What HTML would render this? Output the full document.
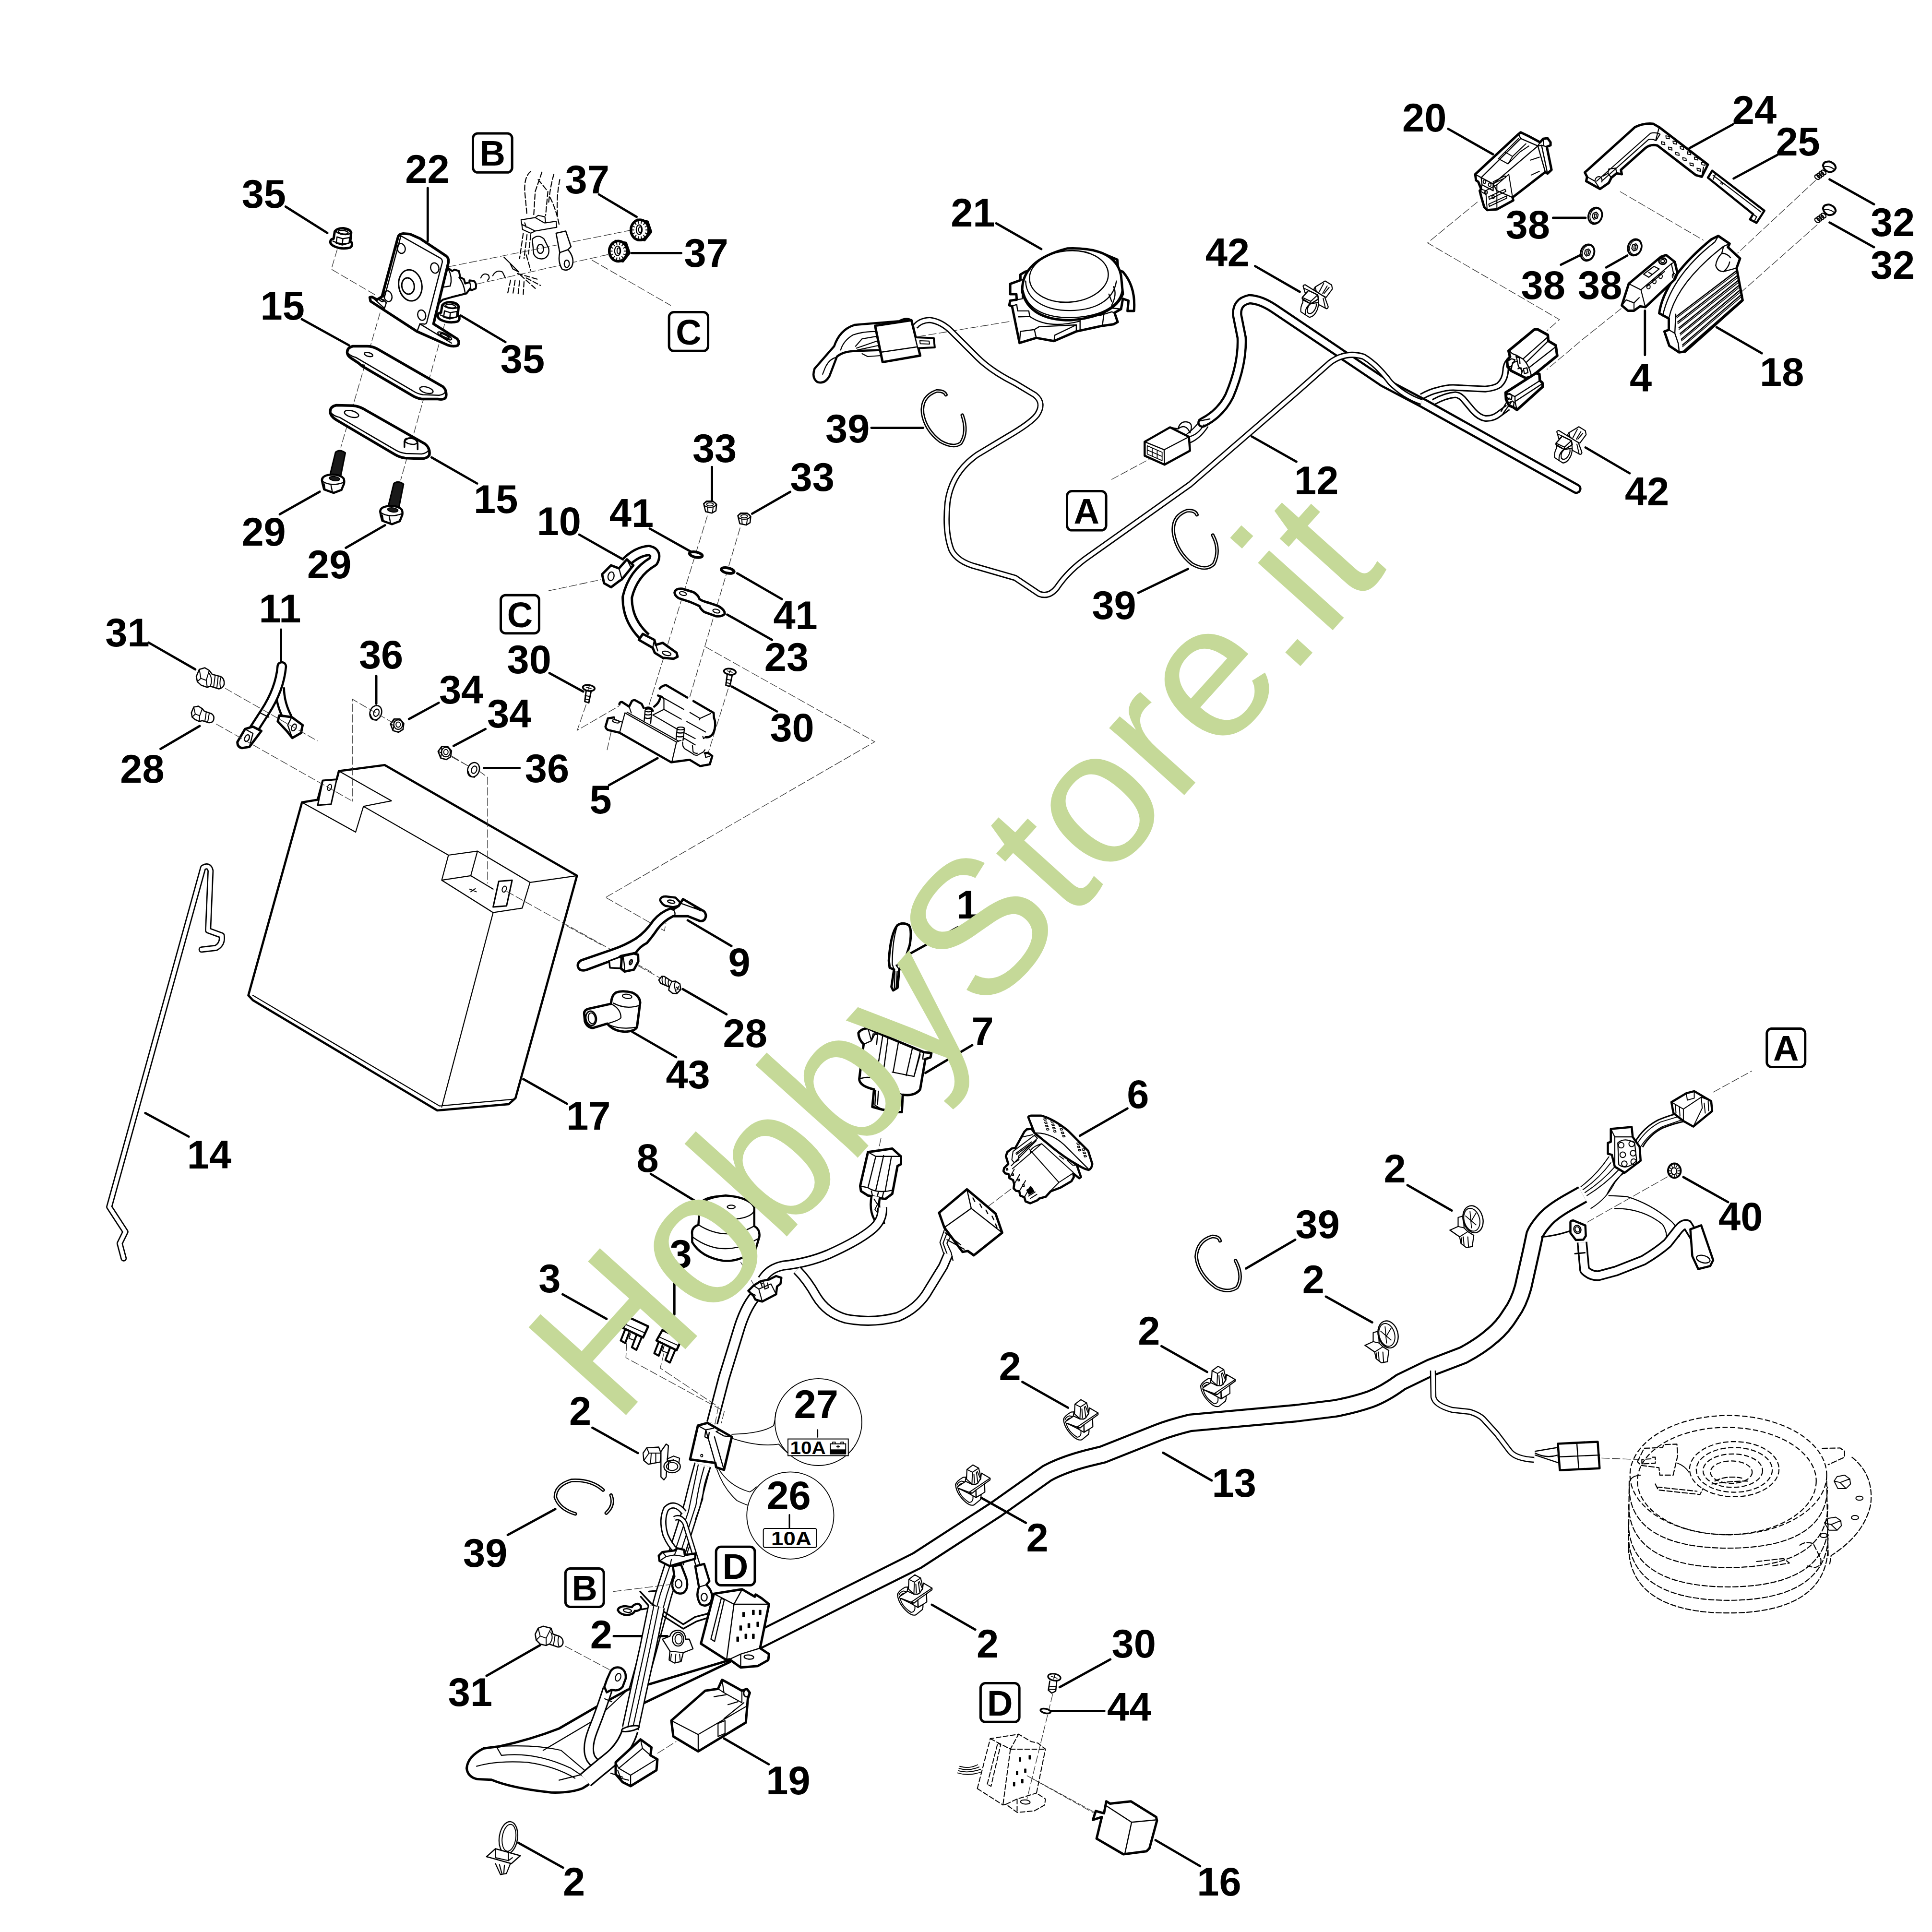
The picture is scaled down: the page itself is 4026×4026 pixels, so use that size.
<!DOCTYPE html>
<html><head><meta charset="utf-8"><title>Parts diagram</title>
<style>
html,body{margin:0;padding:0;background:#fff;}
svg{display:block;}
text{font-family:"Liberation Sans",sans-serif;font-weight:bold;fill:#000;}
</style></head><body>
<svg xmlns="http://www.w3.org/2000/svg" width="4026" height="4026" viewBox="0 0 4026 4026">
<rect width="4026" height="4026" fill="#fff"/>
<path d="M 695.1 497.6 L 697.6 482.1 Q 702.8 474.9 717.0 475.6 Q 730.0 477.5 731.8 484.7 L 730.0 502.8 L 732.8 505.4 Q 735.2 511.9 730.0 515.8 Q 713.2 520.4 697.6 513.7 Q 686.8 509.3 688.6 502.3 Q 689.9 497.6 695.1 497.6 Z" fill="#fff" stroke="#000" stroke-width="5" stroke-linejoin="round" stroke-linecap="round" />
<ellipse cx="715.2" cy="482.9" rx="15.01" ry="5.69" fill="none" stroke="#000" stroke-width="2.5" transform="rotate(8 715.2 482.9)" />
<ellipse cx="715.2" cy="483.9" rx="10.35" ry="3.62" fill="none" stroke="#000" stroke-width="2.5" transform="rotate(8 715.2 483.9)" />
<path d="M 702.3 493.8 L 700.7 506.7 L 713.2 510.6 L 727.4 506.7 L 728.7 495.1 M 702.3 493.8 L 714.5 497.6 L 728.7 495.1 M 714.5 497.6 L 713.2 510.6 M 693.8 502.3 Q 710.6 511.1 731.3 505.4" fill="none" stroke="#000" stroke-width="2.5" stroke-linejoin="round" stroke-linecap="round" />
<path d="M 919.0 651.6 L 921.5 636.1 Q 926.7 628.9 940.9 629.6 Q 953.9 631.5 955.7 638.7 L 953.9 656.8 L 956.7 659.4 Q 959.1 665.9 953.9 669.8 Q 937.1 674.4 921.5 667.7 Q 910.7 663.3 912.5 656.3 Q 913.8 651.6 919.0 651.6 Z" fill="#fff" stroke="#000" stroke-width="5" stroke-linejoin="round" stroke-linecap="round" />
<ellipse cx="939.1" cy="636.9" rx="15.01" ry="5.69" fill="none" stroke="#000" stroke-width="2.5" transform="rotate(8 939.1 636.9)" />
<ellipse cx="939.1" cy="637.9" rx="10.35" ry="3.62" fill="none" stroke="#000" stroke-width="2.5" transform="rotate(8 939.1 637.9)" />
<path d="M 926.2 647.8 L 924.6 660.7 L 937.1 664.6 L 951.3 660.7 L 952.6 649.1 M 926.2 647.8 L 938.4 651.6 L 952.6 649.1 M 938.4 651.6 L 937.1 664.6 M 917.7 656.3 Q 934.5 665.1 955.2 659.4" fill="none" stroke="#000" stroke-width="2.5" stroke-linejoin="round" stroke-linecap="round" />
<path d="M 702.8 519.6 L 690.4 561.0 L 785.6 616.7" fill="none" stroke="#333" stroke-width="1.3" stroke-dasharray="17 5"/>
<path d="M 792.1 651.6 L 710.1 932.4" fill="none" stroke="#333" stroke-width="1.3" stroke-dasharray="17 5"/>
<path d="M 926.7 674.9 L 834.8 1001.0" fill="none" stroke="#333" stroke-width="1.3" stroke-dasharray="17 5"/>
<path d="M 934.4 555.9 L 1313.1 480.0" fill="none" stroke="#333" stroke-width="1.3" stroke-dasharray="17 5"/>
<path d="M 992.7 592.1 L 1269.1 530.0" fill="none" stroke="#333" stroke-width="1.3" stroke-dasharray="17 5"/>
<path d="M 931.9 557.2 L 942.2 564.9 L 947.4 561.8 L 956.4 564.9 L 959.0 577.9 L 966.8 581.7 L 969.4 590.8 L 978.4 588.2 L 978.4 584.3 L 987.5 585.6 Q 994.0 590.8 991.4 601.2 L 982.3 605.0 L 979.7 601.2 L 972.0 611.5 L 940.9 619.3 L 922.8 624.5 L 911.1 634.8" fill="#fff" stroke="#000" stroke-width="4" stroke-linejoin="round" stroke-linecap="round" />
<path d="M 934.4 561.0 Q 943.5 577.9 938.3 596.0 L 922.8 598.6 M 956.4 577.9 Q 966.8 590.8 969.4 611.5 M 978.4 588.2 Q 982.3 596.0 979.7 601.2" fill="none" stroke="#000" stroke-width="2.5" stroke-linejoin="round" stroke-linecap="round" />
<path d="M 796.0 618.0 L 829.1 495.1 Q 830.9 487.3 840.0 486.8 L 854.2 487.8 L 876.2 497.6 L 929.3 533.1 Q 935.7 537.8 934.4 546.8 L 903.4 674.9 L 952.6 706.0 Q 959.0 713.7 953.9 719.7 Q 946.1 723.3 934.4 719.7 L 868.4 690.4 L 772.2 627.8 L 770.6 619.8 L 775.3 618.8 L 785.6 624.5 Z" fill="#fff" stroke="#000" stroke-width="5.5" stroke-linejoin="round" stroke-linecap="round" />
<path d="M 834.8 491.2 L 917.6 537.8 Q 922.8 541.1 921.5 547.3 L 889.2 672.3 Q 887.1 676.7 881.4 674.9 M 801.2 619.3 L 835.3 491.9 M 874.9 674.9 L 869.7 689.2 M 881.4 674.9 L 874.9 674.9 L 940.9 715.0 M 775.3 618.8 L 801.2 642.6 L 805.0 630.9 L 798.6 624.5 L 790.8 622.4" fill="none" stroke="#000" stroke-width="2.5" stroke-linejoin="round" stroke-linecap="round" />
<ellipse cx="836.1" cy="517.8" rx="8.28" ry="10.35" fill="none" stroke="#000" stroke-width="2.5" transform="rotate(-15 836.1 517.8)" />
<ellipse cx="906.0" cy="558.5" rx="8.54" ry="10.87" fill="none" stroke="#000" stroke-width="2.5" transform="rotate(-15 906.0 558.5)" />
<ellipse cx="808.4" cy="617.2" rx="8.28" ry="11.39" fill="none" stroke="#000" stroke-width="2.5" transform="rotate(-15 808.4 617.2)" />
<ellipse cx="878.8" cy="656.8" rx="8.28" ry="10.87" fill="none" stroke="#000" stroke-width="2.5" transform="rotate(-15 878.8 656.8)" />
<ellipse cx="855.0" cy="594.7" rx="24.07" ry="32.61" fill="none" stroke="#000" stroke-width="3" transform="rotate(-10 855.0 594.7)" />
<ellipse cx="850.3" cy="596.0" rx="12.94" ry="17.08" fill="none" stroke="#000" stroke-width="3" transform="rotate(-10 850.3 596.0)" />
<ellipse cx="926.7" cy="700.0" rx="16.05" ry="4.66" fill="none" stroke="#000" stroke-width="2.5" transform="rotate(27 926.7 700.0)" />
<ellipse cx="926.7" cy="700.0" rx="10.35" ry="2.33" fill="none" stroke="#000" stroke-width="2.5" transform="rotate(27 926.7 700.0)" />
<ellipse cx="793.9" cy="625.0" rx="5.69" ry="2.07" fill="none" stroke="#000" stroke-width="2.5" transform="rotate(35 793.9 625.0)" />
<path d="M 723.5 734.4 Q 723.5 724.1 735.2 721.5 L 764.9 721.5 Q 775.3 721.5 785.6 726.7 L 922.8 805.6 Q 931.9 813.4 929.3 827.6 Q 925.4 834.1 912.4 831.5 L 878.8 831.5 Q 868.4 830.2 858.1 823.7 L 754.6 762.9 L 746.8 756.4 L 731.3 746.1 Q 723.5 740.9 723.5 734.4 Z" fill="#fff" stroke="#000" stroke-width="5.5" stroke-linejoin="round" stroke-linecap="round" />
<path d="M 725.6 736.3 Q 731.3 742.2 741.6 744.8 L 860.7 814.7 Q 871.0 821.1 881.4 822.4 L 915.0 823.7 Q 925.4 822.4 928.5 816.0 M 748.1 756.4 Q 750.7 760.3 759.8 761.1" fill="none" stroke="#000" stroke-width="2.5" stroke-linejoin="round" stroke-linecap="round" />
<ellipse cx="768.0" cy="738.8" rx="9.06" ry="3.88" fill="none" stroke="#000" stroke-width="2.5" transform="rotate(15 768.0 738.8)" />
<ellipse cx="888.6" cy="812.9" rx="14.23" ry="6.21" fill="none" stroke="#000" stroke-width="2.5" transform="rotate(15 888.6 812.9)" />
<path d="M 688.0 857.9 Q 688.0 847.0 700.7 844.5 L 735.1 845.2 Q 746.0 845.9 756.9 851.7 L 885.5 924.9 Q 897.1 934.0 894.6 948.5 Q 889.1 956.8 874.6 955.7 L 843.8 954.6 Q 833.0 953.2 822.1 946.7 L 700.7 874.9 Q 688.0 867.0 688.0 857.9 Z" fill="#fff" stroke="#000" stroke-width="5.5" stroke-linejoin="round" stroke-linecap="round" />
<path d="M 689.9 860.4 Q 695.3 867.0 708.0 869.9 L 825.7 938.7 Q 834.8 943.8 845.7 944.9 L 878.3 945.9 Q 889.1 944.9 893.5 937.6" fill="none" stroke="#000" stroke-width="2.5" stroke-linejoin="round" stroke-linecap="round" />
<ellipse cx="732.6" cy="862.6" rx="15.22" ry="6.52" fill="none" stroke="#000" stroke-width="2.5" transform="rotate(15 732.6 862.6)" />
<path d="M 842.8 931.4 L 842.8 919.5 Q 847.5 911.2 860.1 913.3 Q 870.3 917.0 870.3 924.9 L 870.3 936.5" fill="#fff" stroke="#000" stroke-width="3.5" stroke-linejoin="round" stroke-linecap="round" />
<ellipse cx="856.5" cy="919.5" rx="13.41" ry="6.16" fill="none" stroke="#000" stroke-width="2.5" transform="rotate(10 856.5 919.5)" />
<path d="M 699.3 942.3 Q 708.0 935.1 719.6 943.8 L 708.7 998.1 L 686.2 995.9 Z" fill="#1a1a1a" stroke="#000" stroke-width="3" stroke-linejoin="round" stroke-linecap="round" />
<path d="M 671.0 1001.7 Q 669.9 992.0 686.2 989.4 Q 708.0 987.2 716.3 997.4 Q 718.8 1006.4 715.2 1011.9 L 711.6 1020.9 L 695.3 1027.1 L 675.4 1019.9 L 672.5 1009.0 Z" fill="#fff" stroke="#000" stroke-width="4.5" stroke-linejoin="round" stroke-linecap="round" />
<path d="M 671.7 1002.8 Q 689.9 1014.8 715.9 1005.4 M 689.9 1011.9 L 692.8 1026.4 M 675.4 1008.3 L 677.2 1019.1" fill="none" stroke="#000" stroke-width="2.5" stroke-linejoin="round" stroke-linecap="round" />
<ellipse cx="697.1" cy="997.4" rx="10.87" ry="4.35" fill="#1a1a1a" stroke="#000" stroke-width="2" transform="rotate(8 697.1 997.4)" />
<path d="M 820.7 1007.5 Q 829.3 1000.3 840.9 1009.0 L 830.1 1063.3 L 807.6 1061.2 Z" fill="#1a1a1a" stroke="#000" stroke-width="3" stroke-linejoin="round" stroke-linecap="round" />
<path d="M 792.4 1067.0 Q 791.3 1057.2 807.6 1054.6 Q 829.3 1052.5 837.7 1062.6 Q 840.2 1071.7 836.6 1077.1 L 833.0 1086.2 L 816.7 1092.3 L 796.7 1085.1 L 793.8 1074.2 Z" fill="#fff" stroke="#000" stroke-width="4.5" stroke-linejoin="round" stroke-linecap="round" />
<path d="M 793.1 1068.0 Q 811.2 1080.0 837.3 1070.6 M 811.2 1077.1 L 814.1 1091.6 M 796.7 1073.5 L 798.6 1084.3" fill="none" stroke="#000" stroke-width="2.5" stroke-linejoin="round" stroke-linecap="round" />
<ellipse cx="818.5" cy="1062.6" rx="10.87" ry="4.35" fill="#1a1a1a" stroke="#000" stroke-width="2" transform="rotate(8 818.5 1062.6)" />
<text x="503.7" y="432.7" font-size="83" text-anchor="start" >35</text>
<line x1="595.2" y1="430.6" x2="682.2" y2="485.5" stroke="#000" stroke-width="4.8" stroke-linecap="round"/>
<text x="844.3" y="380.9" font-size="83" text-anchor="start" >22</text>
<line x1="891.3" y1="391.8" x2="891.3" y2="502.1" stroke="#000" stroke-width="4.8" stroke-linecap="round"/>
<text x="542.6" y="665.6" font-size="83" text-anchor="start" >15</text>
<line x1="628.9" y1="665.1" x2="727.2" y2="719.5" stroke="#000" stroke-width="4.8" stroke-linecap="round"/>
<text x="503.4" y="1137.4" font-size="83" text-anchor="start" >29</text>
<line x1="583.0" y1="1071.7" x2="666.3" y2="1024.6" stroke="#000" stroke-width="4.8" stroke-linecap="round"/>
<text x="640.0" y="1205.1" font-size="83" text-anchor="start" >29</text>
<line x1="720.7" y1="1141.6" x2="802.2" y2="1094.5" stroke="#000" stroke-width="4.8" stroke-linecap="round"/>
<text x="987.1" y="1068.5" font-size="83" text-anchor="start" >15</text>
<line x1="899.3" y1="953.2" x2="994.2" y2="1007.5" stroke="#000" stroke-width="4.8" stroke-linecap="round"/>
<text x="539.6" y="1296.8" font-size="83" text-anchor="start" >11</text>
<line x1="585.5" y1="1311.9" x2="585.5" y2="1381.4" stroke="#000" stroke-width="4.8" stroke-linecap="round"/>
<text x="747.9" y="1392.8" font-size="83" text-anchor="start" >36</text>
<line x1="784.1" y1="1408.6" x2="784.1" y2="1466.6" stroke="#000" stroke-width="4.8" stroke-linecap="round"/>
<rect x="985.5" y="278.0" width="81.68" height="81.37" rx="10" ry="10" fill="#fff" stroke="#000" stroke-width="5"/>
<text x="1026.34" y="345.325" font-size="74" text-anchor="middle">B</text>
<rect x="1394.2" y="650.6" width="81.37" height="80.75" rx="10" ry="10" fill="#fff" stroke="#000" stroke-width="5"/>
<text x="1434.885" y="717.615" font-size="74" text-anchor="middle">C</text>
<text x="1177.6" y="402.7" font-size="83" text-anchor="start" >37</text>
<line x1="1248.2" y1="405.3" x2="1326.5" y2="451.9" stroke="#000" stroke-width="4.8" stroke-linecap="round"/>
<text x="1425.4" y="556.4" font-size="83" text-anchor="start" >37</text>
<line x1="1316.5" y1="527.3" x2="1419.6" y2="527.3" stroke="#000" stroke-width="4.8" stroke-linecap="round"/>
<text x="1042.8" y="776.9" font-size="83" text-anchor="start" >35</text>
<line x1="960.0" y1="657.5" x2="1053.2" y2="712.7" stroke="#000" stroke-width="4.8" stroke-linecap="round"/>
<path d="M 1233.3 541.9 L 1397.9 636.6" fill="none" stroke="#333" stroke-width="1.3" stroke-dasharray="17 5"/>
<path d="M 1357.2 483.2 L 1343.2 500.9 L 1321.8 496.9 L 1314.3 475.2 L 1328.3 457.5 L 1349.8 461.5 Z" fill="#111" stroke="#000" stroke-width="4" stroke-linejoin="round" stroke-linecap="round" />
<ellipse cx="1333.3" cy="479.2" rx="18.63" ry="21.12" fill="#fff" stroke="#000" stroke-width="5.5" />
<path d="M 1350.7 479.2 L 1345.7 479.2 M 1348.8 487.9 L 1344.5 485.4 M 1344.2 494.7 L 1341.1 490.4 M 1337.0 498.4 L 1336.1 493.2 M 1329.6 498.4 L 1330.5 493.2 M 1322.4 494.7 L 1325.5 490.4 M 1317.8 487.9 L 1322.1 485.4 M 1315.9 479.2 L 1320.9 479.2 M 1317.8 470.5 L 1322.1 473.0 M 1322.4 463.7 L 1325.5 468.0 M 1329.6 459.9 L 1330.5 465.2 M 1337.0 459.9 L 1336.1 465.2 M 1344.2 463.7 L 1341.1 468.0 M 1348.8 470.5 L 1344.5 473.0" fill="none" stroke="#000" stroke-width="2" stroke-linejoin="round" stroke-linecap="round" />
<ellipse cx="1332.0" cy="478.6" rx="6.21" ry="9.94" fill="none" stroke="#000" stroke-width="2.2" />
<ellipse cx="1333.9" cy="478.6" rx="3.11" ry="6.21" fill="none" stroke="#000" stroke-width="2" />
<path d="M 1312.2 527.3 L 1298.2 545.0 L 1276.8 541.0 L 1269.3 519.3 L 1283.3 501.6 L 1304.7 505.6 Z" fill="#111" stroke="#000" stroke-width="4" stroke-linejoin="round" stroke-linecap="round" />
<ellipse cx="1288.3" cy="523.3" rx="18.63" ry="21.12" fill="#fff" stroke="#000" stroke-width="5.5" />
<path d="M 1305.7 523.3 L 1300.7 523.3 M 1303.8 532.0 L 1299.4 529.5 M 1299.1 538.8 L 1296.0 534.5 M 1292.0 542.5 L 1291.1 537.3 M 1284.5 542.5 L 1285.5 537.3 M 1277.4 538.8 L 1280.5 534.5 M 1272.7 532.0 L 1277.1 529.5 M 1270.9 523.3 L 1275.8 523.3 M 1272.7 514.6 L 1277.1 517.1 M 1277.4 507.8 L 1280.5 512.1 M 1284.5 504.0 L 1285.5 509.3 M 1292.0 504.0 L 1291.1 509.3 M 1299.1 507.8 L 1296.0 512.1 M 1303.8 514.6 L 1299.4 517.1" fill="none" stroke="#000" stroke-width="2" stroke-linejoin="round" stroke-linecap="round" />
<ellipse cx="1287.0" cy="522.7" rx="6.21" ry="9.94" fill="none" stroke="#000" stroke-width="2.2" />
<ellipse cx="1288.9" cy="522.7" rx="3.11" ry="6.21" fill="none" stroke="#000" stroke-width="2" />
<path d="M 1106.0 357.1 Q 1092.0 368.0 1093.5 399.1 L 1098.2 448.8 M 1129.3 358.7 L 1115.3 399.1 L 1112.2 448.8 M 1121.5 374.2 L 1141.7 399.1 L 1137.0 448.8 M 1154.1 363.4 Q 1146.3 389.8 1143.2 423.9 M 1166.5 374.2 Q 1158.8 411.5 1161.9 451.9 M 1146.3 411.5 Q 1158.8 436.3 1165.0 467.4" fill="none" stroke="#000" stroke-width="2.2" stroke-linejoin="round" stroke-linecap="round" stroke-dasharray="11 5"/>
<path d="M 1090.4 486.0 L 1082.7 538.8 M 1098.2 489.1 L 1092.0 538.8 M 1106.0 489.1 L 1101.3 529.5 M 1096.6 531.1 L 1106.0 563.7 M 1064.0 583.9 L 1057.8 611.8 M 1073.4 583.9 L 1068.7 613.4 M 1082.7 585.4 L 1079.6 613.4 M 1092.0 587.0 L 1090.4 613.4 M 1096.6 579.2 L 1126.1 594.7 M 1078.0 569.9 L 1121.5 582.3 M 1084.2 573.0 L 1115.3 600.9" fill="none" stroke="#000" stroke-width="2.2" stroke-linejoin="round" stroke-linecap="round" stroke-dasharray="11 5"/>
<path d="M 1085.8 458.1 L 1115.3 453.4 L 1121.5 448.8 L 1135.5 451.9 L 1137.0 464.3 L 1158.8 461.2 L 1160.3 473.6 L 1115.3 481.4 L 1087.3 467.4 Z M 1087.3 467.4 L 1088.9 478.3 L 1106.0 486.0 L 1115.3 481.4 M 1115.3 453.4 L 1133.9 464.3 L 1137.0 464.3 M 1093.5 464.3 L 1096.6 473.6" fill="none" stroke="#000" stroke-width="2.2" stroke-linejoin="round" stroke-linecap="round" />
<path d="M 1158.8 486.0 L 1178.9 481.4 L 1189.8 514.0 L 1183.6 520.2 Q 1199.1 538.8 1191.4 555.9 Q 1182.0 566.8 1171.2 560.6 Q 1161.9 545.0 1166.5 526.4 Z M 1166.5 526.4 L 1183.6 520.2" fill="#fff" stroke="#000" stroke-width="2.6" stroke-linejoin="round" stroke-linecap="round" />
<ellipse cx="1181.1" cy="549.7" rx="5.28" ry="7.76" fill="none" stroke="#000" stroke-width="2.4" />
<path d="M 1109.1 498.4 Q 1121.5 486.0 1133.9 498.4 L 1143.2 517.1 Q 1146.3 532.6 1133.9 538.8 Q 1118.4 541.9 1112.2 529.5 Z" fill="none" stroke="#000" stroke-width="2.4" stroke-linejoin="round" stroke-linecap="round" />
<ellipse cx="1126.1" cy="518.6" rx="6.83" ry="9.32" fill="none" stroke="#000" stroke-width="2.4" />
<path d="M 1050.1 535.7 L 1081.1 566.8 L 1068.7 560.6 L 1062.5 548.1 M 1001.9 579.2 Q 1006.6 566.8 1017.5 573.0 Q 1022.1 579.2 1015.9 583.9 M 1026.8 574.5 Q 1034.5 560.6 1047.0 566.8 L 1053.2 579.2" fill="none" stroke="#000" stroke-width="2.2" stroke-linejoin="round" stroke-linecap="round" />
<text x="1981.2" y="471.7" font-size="83" text-anchor="start" >21</text>
<line x1="2076.0" y1="465.4" x2="2169.9" y2="519.0" stroke="#000" stroke-width="4.8" stroke-linecap="round"/>
<text x="1720.0" y="922.0" font-size="83" text-anchor="start" >39</text>
<line x1="1815.9" y1="891.6" x2="1923.8" y2="891.6" stroke="#000" stroke-width="4.8" stroke-linecap="round"/>
<rect x="2223.5" y="1023.6" width="81.52" height="81.52" rx="10" ry="10" fill="#fff" stroke="#000" stroke-width="5"/>
<text x="2264.26" y="1091.0000000000002" font-size="74" text-anchor="middle">A</text>
<path d="M 1899.3 668.0 Q 1889.6 660.3 1874.1 669.2 L 1780.9 677.0 Q 1749.9 686.7 1738.2 721.6 L 1697.5 768.2 Q 1690.9 787.6 1703.3 796.1 Q 1718.8 801.2 1728.5 783.7 L 1744.1 743.0 Q 1757.6 731.3 1784.8 731.3 L 1835.3 729.4 L 1825.6 680.9 Z" fill="#fff" stroke="#000" stroke-width="4.5" stroke-linejoin="round" stroke-linecap="round" />
<path d="M 1829.5 690.6 Q 1796.5 690.6 1777.0 698.3 Q 1757.6 710.0 1751.8 729.4 M 1742.1 744.9 Q 1726.6 748.8 1718.8 768.2 L 1714.2 779.8 M 1782.9 721.6 L 1796.5 706.1 L 1829.5 700.3 M 1784.8 725.5 L 1829.5 710.0 M 1786.8 729.4 L 1831.4 719.7 M 1796.5 737.1 L 1808.1 743.0 L 1835.3 741.0" fill="none" stroke="#000" stroke-width="2.2" stroke-linejoin="round" stroke-linecap="round" />
<path d="M 1823.6 678.9 L 1899.3 667.3 L 1917.6 741.0 L 1839.2 754.6 Z" fill="#fff" stroke="#000" stroke-width="5" stroke-linejoin="round" stroke-linecap="round" />
<path d="M 1835.3 734.0 L 1913.7 722.4" fill="none" stroke="#000" stroke-width="2.5" stroke-linejoin="round" stroke-linecap="round" />
<path d="M 1908.3 703.0 L 1945.9 704.5 L 1947.9 723.9 L 1913.7 725.5" fill="#fff" stroke="#000" stroke-width="4" stroke-linejoin="round" stroke-linecap="round" />
<path d="M 1916.8 710.0 L 1936.2 710.7 L 1937.0 717.0 L 1917.6 716.2 Z" fill="none" stroke="#000" stroke-width="2" stroke-linejoin="round" stroke-linecap="round" />
<path d="M 1912.9 701.4 L 2109.0 669.2" fill="none" stroke="#333" stroke-width="1.3" stroke-dasharray="17 5"/>
<path d="M 1971.1 822.5 Q 1967.3 814.0 1951.7 814.8 Q 1918.7 826.4 1922.6 861.4 Q 1928.4 896.3 1959.5 919.6 Q 1986.7 935.1 2002.2 923.5 Q 2017.7 900.2 2005.3 865.2" fill="none" stroke="#000" stroke-width="7.5" stroke-linejoin="round" stroke-linecap="round"/>
<path d="M 1971.1 822.5 Q 1967.3 814.0 1951.7 814.8 Q 1918.7 826.4 1922.6 861.4 Q 1928.4 896.3 1959.5 919.6 Q 1986.7 935.1 2002.2 923.5 Q 2017.7 900.2 2005.3 865.2" fill="none" stroke="#fff" stroke-width="2.2" stroke-linejoin="round" stroke-linecap="round"/>
<path d="M 2105.1 591.6 L 2126.4 583.8 L 2126.4 572.2 L 2136.1 566.3 L 2301.1 529.5 L 2328.3 541.1 L 2330.2 562.5 L 2339.9 566.3 Q 2367.1 597.4 2363.2 647.9 L 2349.6 647.9 L 2351.6 626.5 L 2339.9 622.6 L 2336.1 644.0 L 2322.5 651.7 L 2329.1 671.1 L 2320.5 675.8 L 2297.2 678.9 L 2242.9 690.6 L 2196.3 710.7 L 2159.4 704.1 L 2124.5 714.6 L 2109.0 638.2 L 2103.1 636.2 L 2105.1 626.5 L 2118.7 624.6 L 2117.9 612.9 L 2105.1 612.9 Z" fill="#fff" stroke="#000" stroke-width="5" stroke-linejoin="round" stroke-linecap="round" />
<path d="M 2109.0 638.2 L 2118.7 634.3 L 2120.6 647.9 L 2143.9 647.9 L 2145.8 659.5 L 2122.5 660.3 M 2124.5 714.6 L 2126.4 690.6 L 2155.5 686.7 L 2159.4 704.1 M 2155.5 686.7 L 2165.2 680.9 L 2242.9 677.0 L 2242.9 690.6 M 2196.3 710.7 L 2198.2 698.3 L 2242.9 677.0 M 2217.7 651.7 L 2301.1 647.9 L 2297.2 678.9 M 2250.7 667.3 L 2250.7 690.6 M 2291.4 657.6 L 2316.6 649.8 L 2322.5 651.7 M 2316.6 642.0 L 2336.1 644.0 M 2118.7 624.6 L 2130.3 622.6 L 2130.3 605.2 M 2126.4 583.8 L 2138.1 581.9 M 2145.8 659.5 Q 2184.7 686.7 2250.7 669.2 M 2176.9 636.2 L 2180.8 651.7 L 2217.7 651.7 L 2217.7 636.2" fill="none" stroke="#000" stroke-width="2.4" stroke-linejoin="round" stroke-linecap="round" />
<path d="M 2130.3 609.0 Q 2126.4 543.0 2223.5 517.8 Q 2324.4 513.9 2336.1 574.1 L 2339.9 612.9 Q 2320.5 659.5 2231.2 667.3 Q 2145.8 667.3 2130.3 609.0 Z" fill="#fff" stroke="#000" stroke-width="5" stroke-linejoin="round" stroke-linecap="round" />
<path d="M 2137.3 585.7 C 2138.1 628.4 2184.7 647.9 2231.2 647.1 C 2285.6 645.9 2320.5 624.6 2326.4 585.7 M 2132.3 605.2 C 2140.0 647.9 2184.7 662.6 2233.2 661.8 C 2289.5 660.3 2332.2 640.1 2338.0 605.2" fill="none" stroke="#000" stroke-width="2.4" stroke-linejoin="round" stroke-linecap="round" />
<ellipse cx="2227.4" cy="576.0" rx="82.3" ry="53.57" fill="none" stroke="#000" stroke-width="2.6" transform="rotate(-5 2227.4 576.0)" />
<path d="M 2320.5 597.4 Q 2328.3 612.9 2316.6 636.2 M 2310.8 612.9 L 2316.6 628.4" fill="none" stroke="#000" stroke-width="2.4" stroke-linejoin="round" stroke-linecap="round" />
<path d="M 2713.8 619.7 L 2726.8 605.2 L 2745.9 614.5 L 2748.0 622.8 L 2731.4 633.2 L 2713.8 622.8 Z" fill="#fff" stroke="#000" stroke-width="2.2" stroke-linejoin="round" stroke-linecap="round" />
<path d="M 2714.9 630.1 Q 2709.7 639.4 2710.7 649.7 L 2720.0 655.9 L 2728.3 661.1 Q 2738.7 660.1 2744.9 645.6 Q 2748.0 637.3 2747.0 630.1 L 2731.4 633.2 L 2714.9 624.9 Z" fill="#fff" stroke="#000" stroke-width="2.2" stroke-linejoin="round" stroke-linecap="round" />
<path d="M 2720.0 655.9 Q 2719.0 643.5 2727.3 635.2 M 2730.4 633.2 Q 2722.1 641.4 2725.2 651.8 Q 2732.5 657.0 2739.7 645.6 Q 2743.9 638.3 2742.8 633.2" fill="none" stroke="#000" stroke-width="2.2" stroke-linejoin="round" stroke-linecap="round" />
<path d="M 2737.6 603.1 L 2740.7 598.0 L 2761.4 585.5 L 2774.9 593.8 L 2776.5 602.1 L 2763.5 619.7 L 2753.2 614.5 Z" fill="#fff" stroke="#000" stroke-width="2.2" stroke-linejoin="round" stroke-linecap="round" />
<path d="M 2740.7 598.0 L 2742.8 606.3 M 2758.3 590.7 L 2749.0 608.3 M 2765.6 595.9 L 2756.3 611.4 M 2769.7 599.0 L 2759.4 611.4" fill="none" stroke="#000" stroke-width="2" stroke-linejoin="round" stroke-linecap="round" />
<path d="M 2715.4 595.9 Q 2716.4 593.8 2719.5 593.3 L 2760.4 618.7 L 2767.7 638.9 Q 2767.7 643.0 2764.0 643.3 L 2748.0 634.7 L 2745.9 614.5 L 2726.8 605.2 L 2720.0 611.4 Z" fill="#fff" stroke="#000" stroke-width="2.2" stroke-linejoin="round" stroke-linecap="round" />
<path d="M 2718.0 601.1 L 2727.3 605.2 M 2757.3 621.8 L 2762.0 642.5" fill="none" stroke="#000" stroke-width="2" stroke-linejoin="round" stroke-linecap="round" />
<path d="M 2713.8 619.7 L 2726.8 605.2 L 2745.9 614.5 L 2748.0 622.8 L 2731.4 633.2 L 2713.8 622.8 Z M 2713.8 619.7 L 2731.4 628.0 L 2731.4 633.2 M 2731.4 628.0 L 2745.9 614.5" fill="none" stroke="#000" stroke-width="2.2" stroke-linejoin="round" stroke-linecap="round" />
<path d="M 3242.5 923.4 L 3255.5 908.9 L 3274.6 918.2 L 3276.7 926.5 L 3260.1 936.9 L 3242.5 926.5 Z" fill="#fff" stroke="#000" stroke-width="2.2" stroke-linejoin="round" stroke-linecap="round" />
<path d="M 3243.6 933.8 Q 3238.4 943.1 3239.4 953.4 L 3248.7 959.6 L 3257.0 964.8 Q 3267.4 963.8 3273.6 949.3 Q 3276.7 941.0 3275.7 933.8 L 3260.1 936.9 L 3243.6 928.6 Z" fill="#fff" stroke="#000" stroke-width="2.2" stroke-linejoin="round" stroke-linecap="round" />
<path d="M 3248.7 959.6 Q 3247.7 947.2 3256.0 938.9 M 3259.1 936.9 Q 3250.8 945.1 3253.9 955.5 Q 3261.2 960.7 3268.4 949.3 Q 3272.6 942.0 3271.5 936.9" fill="none" stroke="#000" stroke-width="2.2" stroke-linejoin="round" stroke-linecap="round" />
<path d="M 3266.3 906.8 L 3269.4 901.7 L 3290.1 889.2 L 3303.6 897.5 L 3305.2 905.8 L 3292.2 923.4 L 3281.9 918.2 Z" fill="#fff" stroke="#000" stroke-width="2.2" stroke-linejoin="round" stroke-linecap="round" />
<path d="M 3269.4 901.7 L 3271.5 910.0 M 3287.0 894.4 L 3277.7 912.0 M 3294.3 899.6 L 3285.0 915.1 M 3298.4 902.7 L 3288.1 915.1" fill="none" stroke="#000" stroke-width="2" stroke-linejoin="round" stroke-linecap="round" />
<path d="M 3244.1 899.6 Q 3245.1 897.5 3248.2 897.0 L 3289.1 922.4 L 3296.4 942.6 Q 3296.4 946.7 3292.7 947.0 L 3276.7 938.4 L 3274.6 918.2 L 3255.5 908.9 L 3248.7 915.1 Z" fill="#fff" stroke="#000" stroke-width="2.2" stroke-linejoin="round" stroke-linecap="round" />
<path d="M 3246.7 904.8 L 3256.0 908.9 M 3286.0 925.5 L 3290.7 946.2" fill="none" stroke="#000" stroke-width="2" stroke-linejoin="round" stroke-linecap="round" />
<path d="M 3242.5 923.4 L 3255.5 908.9 L 3274.6 918.2 L 3276.7 926.5 L 3260.1 936.9 L 3242.5 926.5 Z M 3242.5 923.4 L 3260.1 931.7 L 3260.1 936.9 M 3260.1 931.7 L 3274.6 918.2" fill="none" stroke="#000" stroke-width="2.2" stroke-linejoin="round" stroke-linecap="round" />
<text x="2511.7" y="555.0" font-size="83" text-anchor="start" >42</text>
<line x1="2615.4" y1="554.5" x2="2708.5" y2="608.1" stroke="#000" stroke-width="4.8" stroke-linecap="round"/>
<text x="2697.1" y="1030.2" font-size="83" text-anchor="start" >12</text>
<line x1="2608.4" y1="909.5" x2="2701.5" y2="962.1" stroke="#000" stroke-width="4.8" stroke-linecap="round"/>
<path d="M 2962.4 826.3 Q 2981.1 816.0 2995.5 812.9 Q 3016.3 806.7 3032.8 807.7 L 3094.9 810.8 Q 3115.6 808.7 3123.9 802.5 Q 3136.3 791.1 3137.4 772.5 Q 3137.4 758.0 3148.8 747.7" fill="none" stroke="#000" stroke-width="14" stroke-linejoin="round" stroke-linecap="butt"/>
<path d="M 2962.4 826.3 Q 2981.1 816.0 2995.5 812.9 Q 3016.3 806.7 3032.8 807.7 L 3094.9 810.8 Q 3115.6 808.7 3123.9 802.5 Q 3136.3 791.1 3137.4 772.5 Q 3137.4 758.0 3148.8 747.7" fill="none" stroke="#fff" stroke-width="8" stroke-linejoin="round" stroke-linecap="butt"/>
<path d="M 2987.3 837.7 Q 3012.1 824.3 3032.8 822.6 Q 3043.2 823.2 3053.5 836.7 L 3070.1 856.4 Q 3082.5 869.8 3094.9 871.9 Q 3111.5 872.9 3123.9 862.6 L 3142.5 849.1" fill="none" stroke="#000" stroke-width="14" stroke-linejoin="round" stroke-linecap="butt"/>
<path d="M 2987.3 837.7 Q 3012.1 824.3 3032.8 822.6 Q 3043.2 823.2 3053.5 836.7 L 3070.1 856.4 Q 3082.5 869.8 3094.9 871.9 Q 3111.5 872.9 3123.9 862.6 L 3142.5 849.1" fill="none" stroke="#fff" stroke-width="8" stroke-linejoin="round" stroke-linecap="butt"/>
<path d="M 2505.9 880.6 Q 2543.2 862.0 2561.8 824.7 Q 2589.7 759.5 2587.4 703.6 L 2578.1 657.0 Q 2575.8 629.1 2603.7 623.5 Q 2627.0 624.4 2655.0 643.0 L 2883.2 796.8 L 2967.1 841.0 L 3284.8 1018.5" fill="none" stroke="#000" stroke-width="21.5" stroke-linejoin="round" stroke-linecap="round"/>
<path d="M 2505.9 880.6 Q 2543.2 862.0 2561.8 824.7 Q 2589.7 759.5 2587.4 703.6 L 2578.1 657.0 Q 2575.8 629.1 2603.7 623.5 Q 2627.0 624.4 2655.0 643.0 L 2883.2 796.8 L 2967.1 841.0 L 3284.8 1018.5" fill="none" stroke="#fff" stroke-width="12.5" stroke-linejoin="round" stroke-linecap="round"/>
<path d="M 1907.0 680.8 Q 1916.6 668.0 1937.3 666.8 Q 1962.1 670.1 1982.8 690.8 L 2036.6 744.6 Q 2065.6 773.6 2115.3 798.4 L 2156.7 823.3 Q 2177.4 839.9 2160.9 864.7 Q 2148.4 881.3 2098.8 910.2 L 2036.6 947.5 Q 1982.8 984.8 1974.5 1046.9 Q 1968.3 1109.0 1982.8 1146.3 Q 1995.2 1171.1 2036.6 1181.5 L 2115.3 1204.2 L 2165.0 1237.4 Q 2185.7 1245.7 2202.3 1224.9 Q 2227.1 1187.7 2272.7 1156.6 L 2479.7 1009.6 L 2700.0 819.2 L 2771.4 755.8 Q 2804.0 731.5 2841.3 743.2 Q 2869.2 759.5 2897.2 796.8 Q 2925.1 824.7 2962.4 837.8" fill="none" stroke="#000" stroke-width="13" stroke-linejoin="round" stroke-linecap="butt"/>
<path d="M 1907.0 680.8 Q 1916.6 668.0 1937.3 666.8 Q 1962.1 670.1 1982.8 690.8 L 2036.6 744.6 Q 2065.6 773.6 2115.3 798.4 L 2156.7 823.3 Q 2177.4 839.9 2160.9 864.7 Q 2148.4 881.3 2098.8 910.2 L 2036.6 947.5 Q 1982.8 984.8 1974.5 1046.9 Q 1968.3 1109.0 1982.8 1146.3 Q 1995.2 1171.1 2036.6 1181.5 L 2115.3 1204.2 L 2165.0 1237.4 Q 2185.7 1245.7 2202.3 1224.9 Q 2227.1 1187.7 2272.7 1156.6 L 2479.7 1009.6 L 2700.0 819.2 L 2771.4 755.8 Q 2804.0 731.5 2841.3 743.2 Q 2869.2 759.5 2897.2 796.8 Q 2925.1 824.7 2962.4 837.8" fill="none" stroke="#fff" stroke-width="7.5" stroke-linejoin="round" stroke-linecap="butt"/>
<path d="M 2494.2 1072.6 Q 2490.1 1062.6 2473.5 1064.3 Q 2440.4 1075.9 2445.8 1113.1 Q 2452.8 1150.4 2483.9 1175.3 Q 2512.8 1191.8 2529.4 1175.3 Q 2543.9 1146.3 2527.3 1115.2" fill="none" stroke="#000" stroke-width="7.5" stroke-linejoin="round" stroke-linecap="round"/>
<path d="M 2494.2 1072.6 Q 2490.1 1062.6 2473.5 1064.3 Q 2440.4 1075.9 2445.8 1113.1 Q 2452.8 1150.4 2483.9 1175.3 Q 2512.8 1191.8 2529.4 1175.3 Q 2543.9 1146.3 2527.3 1115.2" fill="none" stroke="#fff" stroke-width="2.2" stroke-linejoin="round" stroke-linecap="round"/>
<text x="2275.4" y="1289.6" font-size="83" text-anchor="start" >39</text>
<line x1="2372.0" y1="1235.3" x2="2475.6" y2="1185.6" stroke="#000" stroke-width="4.8" stroke-linecap="round"/>
<path d="M 2385.3 920.6 L 2438.3 890.4 L 2477.6 910.2 L 2479.7 939.2 L 2426.7 968.2 L 2385.3 949.6 Z" fill="#fff" stroke="#000" stroke-width="4.5" stroke-linejoin="round" stroke-linecap="round" />
<path d="M 2385.3 920.6 L 2425.9 937.2 L 2426.7 968.2 M 2425.9 937.2 L 2477.6 910.2" fill="none" stroke="#000" stroke-width="2.4" stroke-linejoin="round" stroke-linecap="round" />
<path d="M 2390.7 928.9 L 2421.7 942.5 L 2421.7 959.9 L 2390.7 946.3 Z M 2390.7 937.6 L 2421.7 951.2 M 2401.0 933.4 L 2401.0 950.8 M 2411.4 938.0 L 2411.4 955.4" fill="none" stroke="#000" stroke-width="1.8" stroke-linejoin="round" stroke-linecap="round" />
<path d="M 2438.3 890.4 L 2454.9 893.7 Q 2459.0 877.1 2473.5 879.2 Q 2488.0 881.3 2479.7 902.0 M 2454.9 893.7 Q 2471.4 881.3 2479.7 902.0 M 2477.6 910.2 Q 2496.3 906.1 2508.7 885.4 M 2479.7 922.7 Q 2500.4 914.4 2517.0 889.5 M 2471.4 906.1 Q 2488.0 893.7 2500.4 877.1 L 2521.1 873.0" fill="none" stroke="#000" stroke-width="2.4" stroke-linejoin="round" stroke-linecap="round" />
<path d="M 2316.1 999.3 L 2396.9 955.8" fill="none" stroke="#333" stroke-width="1.3" stroke-dasharray="17 5"/>
<path d="M 3143.6 731.1 L 3197.4 686.6 L 3203.6 686.0 L 3225.4 698.0 L 3226.4 710.4 L 3241.9 719.7 L 3245.0 741.4 L 3201.6 776.6 L 3191.2 784.9 L 3179.8 788.0 L 3169.5 782.9 L 3148.8 772.5 L 3141.5 764.2 L 3140.5 751.8 L 3146.7 743.5 Z" fill="#fff" stroke="#000" stroke-width="5.5" stroke-linejoin="round" stroke-linecap="round" />
<path d="M 3146.7 732.1 Q 3149.8 737.3 3159.1 739.8 L 3173.6 748.1 Q 3186.0 760.1 3191.2 782.9 M 3173.6 748.1 L 3225.4 702.1 M 3179.8 755.9 L 3226.4 710.4 M 3186.0 766.3 L 3241.9 722.8 M 3169.5 782.9 L 3172.6 772.5 L 3164.3 764.2 L 3159.1 739.8 M 3148.8 772.5 L 3151.9 755.9 M 3151.9 755.9 L 3161.2 752.8 M 3141.5 752.8 L 3149.8 747.7 L 3157.0 749.7 L 3148.8 764.2 L 3141.5 764.2 M 3159.1 743.5 L 3166.4 745.6 L 3167.4 758.0 M 3174.6 768.4 L 3181.9 766.3 L 3184.0 776.6 L 3176.7 778.7 Z M 3163.3 768.4 L 3169.5 766.3 L 3171.5 776.6" fill="none" stroke="#000" stroke-width="2.4" stroke-linejoin="round" stroke-linecap="round" />
<path d="M 3137.4 818.1 L 3200.5 777.7 L 3207.8 779.1 L 3208.8 793.2 L 3214.0 797.3 L 3215.0 805.6 L 3161.2 854.3 L 3153.9 849.1 L 3144.6 845.0 L 3138.4 832.5 Z" fill="#fff" stroke="#000" stroke-width="5.5" stroke-linejoin="round" stroke-linecap="round" />
<path d="M 3137.4 818.1 L 3157.0 826.3 L 3208.8 793.2 M 3157.0 826.3 L 3157.0 836.7 L 3214.0 799.4 M 3157.0 836.7 L 3161.2 854.3 M 3138.4 824.3 L 3145.7 820.1 L 3150.8 823.2 L 3149.8 832.5 L 3142.5 830.5 Z M 3144.6 838.8 L 3151.9 835.7 L 3155.0 838.8 L 3153.9 847.0 M 3128.1 857.4 L 3144.6 829.4 M 3132.2 861.5 L 3148.8 838.8" fill="none" stroke="#000" stroke-width="2.4" stroke-linejoin="round" stroke-linecap="round" />
<text x="3385.9" y="1052.8" font-size="83" text-anchor="start" >42</text>
<line x1="3304.0" y1="932.5" x2="3395.9" y2="986.3" stroke="#000" stroke-width="4.8" stroke-linecap="round"/>
<text x="2922.0" y="273.7" font-size="83" text-anchor="start" >20</text>
<line x1="3017.7" y1="268.5" x2="3110.9" y2="321.3" stroke="#000" stroke-width="4.8" stroke-linecap="round"/>
<path d="M 3078.9 420.7 L 2974.8 506.1 L 3249.7 666.0 L 3223.3 689.3" fill="none" stroke="#333" stroke-width="1.3" stroke-dasharray="17 5"/>
<path d="M 3378.6 642.7 L 3300.9 704.8 L 3223.3 770.1" fill="none" stroke="#333" stroke-width="1.3" stroke-dasharray="17 5"/>
<ellipse cx="3324.2" cy="449.6" rx="13.98" ry="17.39" fill="#fff" stroke="#000" stroke-width="3.6" transform="rotate(20 3324.2 449.6)" />
<ellipse cx="3325.5" cy="449.6" rx="11.8" ry="15.22" fill="none" stroke="#000" stroke-width="1.8" transform="rotate(20 3325.5 449.6)" />
<path d="M 3319.9 444.6 L 3326.7 442.1 L 3330.4 447.1 L 3328.6 454.5 L 3321.7 457.0 L 3318.0 452.0 Z" fill="none" stroke="#000" stroke-width="2.2" stroke-linejoin="round" stroke-linecap="round" />
<path d="M 3323.0 446.5 L 3326.7 445.8 L 3326.1 452.7 L 3322.4 453.3 Z" fill="none" stroke="#000" stroke-width="1.8" stroke-linejoin="round" stroke-linecap="round" />
<ellipse cx="3308.1" cy="526.3" rx="13.98" ry="17.39" fill="#fff" stroke="#000" stroke-width="3.6" transform="rotate(20 3308.1 526.3)" />
<ellipse cx="3309.3" cy="526.3" rx="11.8" ry="15.22" fill="none" stroke="#000" stroke-width="1.8" transform="rotate(20 3309.3 526.3)" />
<path d="M 3303.7 521.3 L 3310.6 518.8 L 3314.3 523.8 L 3312.4 531.2 L 3305.6 533.7 L 3301.9 528.8 Z" fill="none" stroke="#000" stroke-width="2.2" stroke-linejoin="round" stroke-linecap="round" />
<path d="M 3306.8 523.2 L 3310.6 522.5 L 3309.9 529.4 L 3306.2 530.0 Z" fill="none" stroke="#000" stroke-width="1.8" stroke-linejoin="round" stroke-linecap="round" />
<ellipse cx="3406.5" cy="515.4" rx="13.98" ry="17.39" fill="#fff" stroke="#000" stroke-width="3.6" transform="rotate(20 3406.5 515.4)" />
<ellipse cx="3407.8" cy="515.4" rx="11.8" ry="15.22" fill="none" stroke="#000" stroke-width="1.8" transform="rotate(20 3407.8 515.4)" />
<path d="M 3402.2 510.4 L 3409.0 508.0 L 3412.7 512.9 L 3410.9 520.4 L 3404.0 522.9 L 3400.3 517.9 Z" fill="none" stroke="#000" stroke-width="2.2" stroke-linejoin="round" stroke-linecap="round" />
<path d="M 3405.3 512.3 L 3409.0 511.7 L 3408.4 518.5 L 3404.7 519.1 Z" fill="none" stroke="#000" stroke-width="1.8" stroke-linejoin="round" stroke-linecap="round" />
<text x="3137.5" y="497.3" font-size="83" text-anchor="start" >38</text>
<line x1="3236.3" y1="453.9" x2="3304.0" y2="453.9" stroke="#000" stroke-width="4.8" stroke-linecap="round"/>
<text x="3169.5" y="623.0" font-size="83" text-anchor="start" >38</text>
<line x1="3252.8" y1="551.7" x2="3294.7" y2="530.9" stroke="#000" stroke-width="4.8" stroke-linecap="round"/>
<text x="3288.1" y="623.0" font-size="83" text-anchor="start" >38</text>
<line x1="3346.9" y1="557.3" x2="3391.0" y2="532.5" stroke="#000" stroke-width="4.8" stroke-linecap="round"/>
<path d="M 3074.2 363.2 L 3164.3 279.4 L 3168.9 275.7 L 3186.0 284.0 L 3209.3 296.5 L 3215.5 289.3 L 3224.8 288.1 L 3231.1 296.5 L 3231.1 302.7 L 3223.3 305.8 L 3233.2 353.9 L 3224.8 361.7 L 3220.2 358.6 L 3151.9 411.4 L 3153.4 417.6 L 3119.3 436.2 L 3099.1 437.8 L 3092.9 431.6 L 3086.6 409.8 L 3083.5 397.4 L 3086.6 394.3 L 3080.4 378.8 L 3075.8 375.7 Z" fill="#fff" stroke="#000" stroke-width="5" stroke-linejoin="round" stroke-linecap="round" />
<path d="M 3074.2 363.2 L 3086.6 370.1 L 3168.9 288.7 L 3164.3 279.4 M 3168.9 288.7 L 3204.7 304.2 L 3209.3 296.5 M 3086.6 370.1 L 3111.5 383.4 L 3204.7 304.2 L 3220.2 358.6 M 3111.5 383.4 L 3119.3 397.4 L 3151.9 411.4 M 3204.7 304.2 L 3212.4 302.7 L 3224.8 361.7 M 3212.4 302.7 L 3223.3 305.8 M 3215.5 289.3 L 3217.1 304.2 M 3086.6 370.1 L 3088.2 385.0 L 3111.5 397.4 L 3111.5 383.4" fill="none" stroke="#000" stroke-width="2.4" stroke-linejoin="round" stroke-linecap="round" />
<path d="M 3122.4 330.6 L 3136.3 316.6 L 3151.9 326.0 L 3142.5 341.5 Z M 3136.3 316.6 L 3164.3 288.7 M 3151.9 326.0 L 3179.8 299.6 M 3142.5 341.5 L 3167.4 316.6 L 3186.0 304.2 M 3189.1 333.7 L 3207.8 327.5 M 3190.7 364.8 L 3207.8 357.0" fill="none" stroke="#000" stroke-width="2" stroke-linejoin="round" stroke-linecap="round" />
<path d="M 3096.0 397.4 L 3119.3 385.0 L 3144.1 363.2 L 3151.9 411.4 M 3096.0 397.4 L 3099.1 437.8 M 3119.3 385.0 L 3119.3 436.2 M 3102.2 409.8 L 3136.3 394.3 L 3137.9 398.9 L 3103.7 415.4 Z M 3102.2 425.3 L 3139.4 408.3 L 3140.1 412.9 L 3103.7 430.0 Z M 3111.5 378.8 L 3136.3 366.3 L 3137.3 370.1 L 3112.1 382.5 Z M 3088.2 385.0 L 3086.6 394.3 L 3096.0 397.4 M 3083.5 397.4 L 3096.0 405.2" fill="none" stroke="#000" stroke-width="2" stroke-linejoin="round" stroke-linecap="round" />
<ellipse cx="3093.5" cy="378.8" rx="2.8" ry="3.73" fill="none" stroke="#000" stroke-width="2" />
<ellipse cx="3104.3" cy="385.0" rx="2.8" ry="3.73" fill="none" stroke="#000" stroke-width="2" />
<ellipse cx="3096.6" cy="401.1" rx="2.8" ry="3.73" fill="none" stroke="#000" stroke-width="2" />
<ellipse cx="3111.5" cy="410.4" rx="2.48" ry="3.11" fill="none" stroke="#000" stroke-width="2" />
<text x="3609.8" y="258.4" font-size="83" text-anchor="start" >24</text>
<line x1="3520.9" y1="308.6" x2="3611.5" y2="259.0" stroke="#000" stroke-width="4.8" stroke-linecap="round"/>
<text x="3700.4" y="323.6" font-size="83" text-anchor="start" >25</text>
<line x1="3612.6" y1="372.0" x2="3703.2" y2="323.1" stroke="#000" stroke-width="4.8" stroke-linecap="round"/>
<text x="3897.9" y="492.1" font-size="83" text-anchor="start" >32</text>
<line x1="3812.6" y1="373.8" x2="3905.0" y2="425.7" stroke="#000" stroke-width="4.8" stroke-linecap="round"/>
<text x="3897.9" y="580.9" font-size="83" text-anchor="start" >32</text>
<line x1="3812.6" y1="463.7" x2="3905.0" y2="515.1" stroke="#000" stroke-width="4.8" stroke-linecap="round"/>
<text x="3667.1" y="803.7" font-size="83" text-anchor="start" >18</text>
<line x1="3577.1" y1="681.8" x2="3671.3" y2="736.2" stroke="#000" stroke-width="4.8" stroke-linecap="round"/>
<text x="3396.1" y="816.4" font-size="83" text-anchor="start" >4</text>
<line x1="3427.8" y1="647.4" x2="3427.8" y2="739.8" stroke="#000" stroke-width="4.8" stroke-linecap="round"/>
<path d="M 3376.0 399.2 L 3549.9 500.7" fill="none" stroke="#333" stroke-width="1.3" stroke-dasharray="17 5"/>
<path d="M 3783.6 375.7 L 3620.6 527.8" fill="none" stroke="#333" stroke-width="1.3" stroke-dasharray="17 5"/>
<path d="M 3787.2 468.0 L 3627.8 609.3" fill="none" stroke="#333" stroke-width="1.3" stroke-dasharray="17 5"/>
<path d="M 3302.5 359.3 L 3406.8 265.1 Q 3424.9 256.1 3444.9 257.9 L 3457.5 265.1 L 3559.0 343.0 L 3546.3 368.4 L 3533.6 364.8 L 3453.9 303.2 Q 3439.4 299.6 3428.6 308.6 L 3377.8 353.9 L 3379.6 363.0 L 3368.8 361.2 L 3357.9 370.2 L 3352.5 381.1 L 3334.3 393.8 L 3305.4 377.5 L 3307.2 368.4 Z" fill="#fff" stroke="#000" stroke-width="5" stroke-linejoin="round" stroke-linecap="round" />
<path d="M 3327.1 377.5 L 3439.4 277.8 Q 3450.3 274.9 3459.3 279.6 L 3451.0 293.0 Q 3443.0 288.7 3435.1 290.9 L 3339.8 375.7 M 3307.2 368.4 L 3323.5 377.5 L 3334.3 393.8 M 3323.5 377.5 Q 3325.3 366.6 3334.3 368.4 Q 3339.8 372.0 3338.0 379.3 M 3341.6 366.6 L 3350.7 361.2 L 3357.9 370.2 M 3350.7 361.2 L 3352.5 352.1 L 3367.0 350.3 L 3368.8 361.2 M 3457.5 265.1 L 3450.3 292.3 M 3546.3 368.4 L 3549.9 348.5" fill="none" stroke="#000" stroke-width="2.2" stroke-linejoin="round" stroke-linecap="round" />
<path d="M 3471.3 282.9 L 3478.2 284.3 L 3478.9 289.4 L 3472.0 288.0 Z" fill="none" stroke="#000" stroke-width="1.8" stroke-linejoin="round" stroke-linecap="round" />
<path d="M 3486.2 293.9 L 3493.0 295.4 L 3493.8 300.5 L 3486.9 299.0 Z" fill="none" stroke="#000" stroke-width="1.8" stroke-linejoin="round" stroke-linecap="round" />
<path d="M 3501.0 305.0 L 3507.9 306.4 L 3508.6 311.5 L 3501.7 310.1 Z" fill="none" stroke="#000" stroke-width="1.8" stroke-linejoin="round" stroke-linecap="round" />
<path d="M 3515.9 316.1 L 3522.8 317.5 L 3523.5 322.6 L 3516.6 321.1 Z" fill="none" stroke="#000" stroke-width="1.8" stroke-linejoin="round" stroke-linecap="round" />
<path d="M 3530.7 327.1 L 3537.6 328.6 L 3538.3 333.6 L 3531.4 332.2 Z" fill="none" stroke="#000" stroke-width="1.8" stroke-linejoin="round" stroke-linecap="round" />
<path d="M 3545.6 338.2 L 3552.5 339.6 L 3553.2 344.7 L 3546.3 343.2 Z" fill="none" stroke="#000" stroke-width="1.8" stroke-linejoin="round" stroke-linecap="round" />
<path d="M 3461.9 295.2 L 3468.8 296.7 L 3469.5 301.7 L 3462.6 300.3 Z" fill="none" stroke="#000" stroke-width="1.8" stroke-linejoin="round" stroke-linecap="round" />
<path d="M 3476.7 306.3 L 3483.6 307.7 L 3484.3 312.8 L 3477.5 311.3 Z" fill="none" stroke="#000" stroke-width="1.8" stroke-linejoin="round" stroke-linecap="round" />
<path d="M 3491.6 317.3 L 3498.5 318.8 L 3499.2 323.8 L 3492.3 322.4 Z" fill="none" stroke="#000" stroke-width="1.8" stroke-linejoin="round" stroke-linecap="round" />
<path d="M 3506.4 328.4 L 3513.3 329.8 L 3514.1 334.9 L 3507.2 333.4 Z" fill="none" stroke="#000" stroke-width="1.8" stroke-linejoin="round" stroke-linecap="round" />
<path d="M 3521.3 339.4 L 3528.2 340.9 L 3528.9 345.9 L 3522.0 344.5 Z" fill="none" stroke="#000" stroke-width="1.8" stroke-linejoin="round" stroke-linecap="round" />
<path d="M 3536.2 350.5 L 3543.0 351.9 L 3543.8 357.0 L 3536.9 355.5 Z" fill="none" stroke="#000" stroke-width="1.8" stroke-linejoin="round" stroke-linecap="round" />
<path d="M 3559.0 370.2 L 3568.0 355.7 L 3676.7 439.1 L 3660.4 464.4 L 3646.7 457.2 L 3653.2 446.3 Z" fill="#fff" stroke="#000" stroke-width="4.5" stroke-linejoin="round" stroke-linecap="round" />
<path d="M 3569.9 365.5 L 3669.5 441.6 M 3568.0 355.7 L 3575.3 361.2 L 3569.9 373.8 M 3653.2 446.3 L 3660.4 451.7 L 3656.8 459.0" fill="none" stroke="#000" stroke-width="2.2" stroke-linejoin="round" stroke-linecap="round" />
<path d="M 3586.5 380.0 L 3590.1 381.1 L 3589.4 384.0 L 3585.8 382.9 Z" fill="none" stroke="#000" stroke-width="1.6" stroke-linejoin="round" stroke-linecap="round" />
<path d="M 3798.8 344.9 Q 3799.9 335.8 3812.6 336.5 Q 3825.3 341.2 3825.3 350.3 Q 3821.7 359.3 3810.8 358.3 Q 3801.0 355.7 3798.8 344.9 Z" fill="#fff" stroke="#000" stroke-width="4" stroke-linejoin="round" stroke-linecap="round" />
<path d="M 3801.7 347.4 Q 3811.9 344.9 3822.8 353.2" fill="none" stroke="#000" stroke-width="2" stroke-linejoin="round" stroke-linecap="round" />
<ellipse cx="3799.9" cy="359.3" rx="5.8" ry="3.99" fill="none" stroke="#000" stroke-width="2.4" transform="rotate(40 3799.9 359.3)" />
<ellipse cx="3795.6" cy="362.6" rx="5.8" ry="3.99" fill="none" stroke="#000" stroke-width="2.4" transform="rotate(40 3795.6 362.6)" />
<ellipse cx="3791.2" cy="365.9" rx="5.8" ry="3.99" fill="none" stroke="#000" stroke-width="2.4" transform="rotate(40 3791.2 365.9)" />
<ellipse cx="3786.9" cy="369.1" rx="5.8" ry="3.99" fill="none" stroke="#000" stroke-width="2.4" transform="rotate(40 3786.9 369.1)" />
<path d="M 3798.8 434.7 Q 3799.9 425.7 3812.6 426.4 Q 3825.3 431.1 3825.3 440.1 Q 3821.7 449.2 3810.8 448.1 Q 3801.0 445.6 3798.8 434.7 Z" fill="#fff" stroke="#000" stroke-width="4" stroke-linejoin="round" stroke-linecap="round" />
<path d="M 3801.7 437.2 Q 3811.9 434.7 3822.8 443.0" fill="none" stroke="#000" stroke-width="2" stroke-linejoin="round" stroke-linecap="round" />
<ellipse cx="3799.9" cy="449.2" rx="5.8" ry="3.99" fill="none" stroke="#000" stroke-width="2.4" transform="rotate(40 3799.9 449.2)" />
<ellipse cx="3795.6" cy="452.5" rx="5.8" ry="3.99" fill="none" stroke="#000" stroke-width="2.4" transform="rotate(40 3795.6 452.5)" />
<ellipse cx="3791.2" cy="455.7" rx="5.8" ry="3.99" fill="none" stroke="#000" stroke-width="2.4" transform="rotate(40 3791.2 455.7)" />
<ellipse cx="3786.9" cy="459.0" rx="5.8" ry="3.99" fill="none" stroke="#000" stroke-width="2.4" transform="rotate(40 3786.9 459.0)" />
<path d="M 3457.5 652.8 Q 3468.4 578.6 3566.2 498.8 L 3580.7 491.6 L 3604.3 507.9 L 3600.7 515.1 L 3626.0 538.7 L 3618.8 558.6 L 3631.4 625.7 L 3511.9 732.5 L 3499.2 734.3 L 3478.6 720.6 L 3468.4 690.9 L 3477.5 687.2 L 3477.5 663.7 Z" fill="#fff" stroke="#000" stroke-width="5" stroke-linejoin="round" stroke-linecap="round" />
<path d="M 3477.5 663.7 Q 3493.8 589.4 3591.6 513.3 L 3604.3 507.9 M 3591.6 513.3 L 3588.0 527.8 Q 3577.1 538.7 3575.3 553.2 Q 3578.9 565.9 3591.6 565.9 L 3618.8 558.6 M 3588.0 527.8 Q 3598.8 527.8 3606.1 536.9 M 3591.6 565.9 Q 3602.5 556.8 3604.3 545.9 M 3477.5 687.2 L 3490.1 694.5 L 3497.4 716.2 L 3499.2 734.3 M 3490.1 694.5 L 3492.0 654.6 M 3580.7 491.6 L 3573.5 504.3 Q 3482.9 574.9 3464.8 658.3" fill="none" stroke="#000" stroke-width="2.4" stroke-linejoin="round" stroke-linecap="round" />
<path d="M 3493.8 659.0 L 3618.8 564.1" fill="none" stroke="#000" stroke-width="2.6" stroke-linejoin="round" stroke-linecap="round" />
<path d="M 3493.8 662.6 L 3619.9 567.7" fill="none" stroke="#000" stroke-width="1.6" stroke-linejoin="round" stroke-linecap="round" />
<path d="M 3496.3 670.9 L 3620.6 574.2" fill="none" stroke="#000" stroke-width="2.6" stroke-linejoin="round" stroke-linecap="round" />
<path d="M 3496.3 674.6 L 3621.7 577.8" fill="none" stroke="#000" stroke-width="1.6" stroke-linejoin="round" stroke-linecap="round" />
<path d="M 3498.8 682.9 L 3622.4 584.3" fill="none" stroke="#000" stroke-width="2.6" stroke-linejoin="round" stroke-linecap="round" />
<path d="M 3498.8 686.5 L 3623.5 588.0" fill="none" stroke="#000" stroke-width="1.6" stroke-linejoin="round" stroke-linecap="round" />
<path d="M 3501.4 694.9 L 3624.2 594.5" fill="none" stroke="#000" stroke-width="2.6" stroke-linejoin="round" stroke-linecap="round" />
<path d="M 3501.4 698.5 L 3625.3 598.1" fill="none" stroke="#000" stroke-width="1.6" stroke-linejoin="round" stroke-linecap="round" />
<path d="M 3503.9 706.8 L 3626.0 604.6" fill="none" stroke="#000" stroke-width="2.6" stroke-linejoin="round" stroke-linecap="round" />
<path d="M 3503.9 710.4 L 3627.1 608.3" fill="none" stroke="#000" stroke-width="1.6" stroke-linejoin="round" stroke-linecap="round" />
<path d="M 3506.4 718.8 L 3627.8 614.8" fill="none" stroke="#000" stroke-width="2.6" stroke-linejoin="round" stroke-linecap="round" />
<path d="M 3506.4 722.4 L 3628.9 618.4" fill="none" stroke="#000" stroke-width="1.6" stroke-linejoin="round" stroke-linecap="round" />
<path d="M 3509.0 730.7 L 3629.6 624.9" fill="none" stroke="#000" stroke-width="2.6" stroke-linejoin="round" stroke-linecap="round" />
<path d="M 3509.0 734.3 L 3630.7 628.6" fill="none" stroke="#000" stroke-width="1.6" stroke-linejoin="round" stroke-linecap="round" />
<path d="M 3379.6 636.5 L 3394.1 591.2 L 3461.2 535.1 L 3472.0 531.4 L 3490.1 545.9 L 3495.6 569.5 L 3490.1 582.2 L 3428.6 640.1 L 3417.7 638.3 L 3405.0 647.4 L 3392.3 647.4 Z" fill="#fff" stroke="#000" stroke-width="5" stroke-linejoin="round" stroke-linecap="round" />
<path d="M 3394.1 591.2 L 3419.5 603.9 L 3428.6 640.1 M 3419.5 603.9 L 3482.9 549.6 L 3490.1 545.9 M 3482.9 549.6 L 3490.1 582.2 M 3379.6 636.5 L 3388.7 624.9 L 3405.0 631.1 L 3415.9 620.2 M 3405.0 631.1 L 3405.0 647.4 M 3424.9 571.3 L 3446.7 555.0 L 3457.5 560.4 L 3435.8 577.8 Z M 3435.8 567.7 L 3443.0 572.0 M 3432.2 596.7 L 3468.4 565.9" fill="none" stroke="#000" stroke-width="2.2" stroke-linejoin="round" stroke-linecap="round" />
<ellipse cx="3464.8" cy="544.1" rx="7.97" ry="6.52" fill="none" stroke="#000" stroke-width="3.2" />
<ellipse cx="3464.8" cy="544.1" rx="3.99" ry="3.26" fill="none" stroke="#000" stroke-width="2.2" />
<ellipse cx="3435.1" cy="597.4" rx="3.62" ry="4.71" fill="none" stroke="#000" stroke-width="2" />
<ellipse cx="3447.4" cy="586.5" rx="3.62" ry="4.71" fill="none" stroke="#000" stroke-width="2" />
<ellipse cx="3460.4" cy="575.7" rx="3.62" ry="4.71" fill="none" stroke="#000" stroke-width="2" />
<ellipse cx="3488.3" cy="574.9" rx="3.62" ry="5.07" fill="none" stroke="#000" stroke-width="2" />
<text x="1442.9" y="963.3" font-size="83" text-anchor="start" >33</text>
<line x1="1483.6" y1="973.2" x2="1483.6" y2="1043.6" stroke="#000" stroke-width="4.8" stroke-linecap="round"/>
<text x="1646.6" y="1023.4" font-size="83" text-anchor="start" >33</text>
<line x1="1567.3" y1="1070.5" x2="1646.8" y2="1024.9" stroke="#000" stroke-width="4.8" stroke-linecap="round"/>
<text x="1269.8" y="1097.9" font-size="83" text-anchor="start" >41</text>
<line x1="1354.0" y1="1101.5" x2="1438.9" y2="1149.2" stroke="#000" stroke-width="4.8" stroke-linecap="round"/>
<text x="1611.4" y="1311.1" font-size="83" text-anchor="start" >41</text>
<line x1="1536.2" y1="1194.7" x2="1629.4" y2="1248.5" stroke="#000" stroke-width="4.8" stroke-linecap="round"/>
<text x="1118.7" y="1114.5" font-size="83" text-anchor="start" >10</text>
<line x1="1207.0" y1="1114.0" x2="1298.1" y2="1165.7" stroke="#000" stroke-width="4.8" stroke-linecap="round"/>
<text x="1592.8" y="1398.1" font-size="83" text-anchor="start" >23</text>
<line x1="1515.5" y1="1280.8" x2="1608.7" y2="1333.4" stroke="#000" stroke-width="4.8" stroke-linecap="round"/>
<text x="1056.5" y="1403.1" font-size="83" text-anchor="start" >30</text>
<line x1="1144.9" y1="1402.6" x2="1215.3" y2="1441.1" stroke="#000" stroke-width="4.8" stroke-linecap="round"/>
<text x="1604.4" y="1545.1" font-size="83" text-anchor="start" >30</text>
<line x1="1525.1" y1="1430.7" x2="1619.0" y2="1482.5" stroke="#000" stroke-width="4.8" stroke-linecap="round"/>
<text x="1015.1" y="1516.1" font-size="83" text-anchor="start" >34</text>
<text x="1093.8" y="1630.0" font-size="83" text-anchor="start" >36</text>
<line x1="1008.3" y1="1600.5" x2="1082.8" y2="1600.5" stroke="#000" stroke-width="4.8" stroke-linecap="round"/>
<text x="1228.4" y="1695.4" font-size="83" text-anchor="start" >5</text>
<line x1="1269.2" y1="1636.1" x2="1370.2" y2="1579.8" stroke="#000" stroke-width="4.8" stroke-linecap="round"/>
<rect x="1043.5" y="1240.2" width="79.92" height="79.5" rx="10" ry="10" fill="#fff" stroke="#000" stroke-width="5"/>
<text x="1083.46" y="1306.5900000000001" font-size="74" text-anchor="middle">C</text>
<path d="M 1474.1 1074.6 L 1347.8 1484.6" fill="none" stroke="#333" stroke-width="1.3" stroke-dasharray="17 5"/>
<path d="M 1542.4 1099.5 L 1416.1 1523.9" fill="none" stroke="#333" stroke-width="1.3" stroke-dasharray="17 5"/>
<path d="M 1142.9 1231.1 L 1252.6 1208.0" fill="none" stroke="#333" stroke-width="1.3" stroke-dasharray="17 5"/>
<path d="M 1221.5 1468.0 L 1202.9 1521.8 L 1289.9 1471.3" fill="none" stroke="#333" stroke-width="1.3" stroke-dasharray="17 5"/>
<path d="M 1517.6 1434.9 L 1476.2 1567.4" fill="none" stroke="#333" stroke-width="1.3" stroke-dasharray="17 5"/>
<path d="M 1273.3 1526.0 L 1265.0 1563.2" fill="none" stroke="#333" stroke-width="1.3" stroke-dasharray="17 5"/>
<path d="M 1470.0 1347.9 L 1822.8 1545.8 L 1262.1 1870.1" fill="none" stroke="#333" stroke-width="1.3" stroke-dasharray="17 5"/>
<path d="M 1466.3 1049.8 L 1472.0 1044.4 L 1485.7 1044.4 L 1493.2 1051.0 L 1491.9 1064.3 L 1483.6 1069.2 L 1470.4 1066.3 Z" fill="#fff" stroke="#000" stroke-width="2.6" stroke-linejoin="round" stroke-linecap="round" />
<ellipse cx="1479.5" cy="1051.0" rx="12.42" ry="6.21" fill="none" stroke="#000" stroke-width="2" />
<ellipse cx="1479.5" cy="1051.0" rx="7.04" ry="3.31" fill="none" stroke="#000" stroke-width="2" />
<path d="M 1474.5 1056.8 L 1475.4 1067.6 M 1486.1 1056.8 L 1484.5 1068.4" fill="none" stroke="#000" stroke-width="2" stroke-linejoin="round" stroke-linecap="round" />
<path d="M 1537.5 1074.6 L 1543.3 1069.2 L 1556.9 1069.2 L 1564.4 1075.9 L 1563.1 1089.1 L 1554.9 1094.1 L 1541.6 1091.2 Z" fill="#fff" stroke="#000" stroke-width="2.6" stroke-linejoin="round" stroke-linecap="round" />
<ellipse cx="1550.7" cy="1075.9" rx="12.42" ry="6.21" fill="none" stroke="#000" stroke-width="2" />
<ellipse cx="1550.7" cy="1075.9" rx="7.04" ry="3.31" fill="none" stroke="#000" stroke-width="2" />
<path d="M 1545.8 1081.7 L 1546.6 1092.4 M 1557.3 1081.7 L 1555.7 1093.3" fill="none" stroke="#000" stroke-width="2" stroke-linejoin="round" stroke-linecap="round" />
<ellipse cx="1450.1" cy="1155.8" rx="14.08" ry="5.8" fill="#fff" stroke="#000" stroke-width="5" transform="rotate(12 1450.1 1155.8)" />
<ellipse cx="1450.1" cy="1155.8" rx="10.77" ry="3.31" fill="none" stroke="#000" stroke-width="1.6" transform="rotate(12 1450.1 1155.8)" />
<ellipse cx="1516.4" cy="1188.9" rx="14.08" ry="5.8" fill="#fff" stroke="#000" stroke-width="5" transform="rotate(12 1516.4 1188.9)" />
<ellipse cx="1516.4" cy="1188.9" rx="10.77" ry="3.31" fill="none" stroke="#000" stroke-width="1.6" transform="rotate(12 1516.4 1188.9)" />
<path d="M 1405.8 1234.0 Q 1407.9 1225.8 1422.4 1227.0 L 1445.1 1234.0 Q 1455.5 1240.2 1457.6 1248.5 Q 1463.8 1252.7 1472.0 1254.7 Q 1480.3 1256.8 1496.9 1263.0 Q 1511.4 1271.3 1510.1 1279.6 Q 1503.1 1285.8 1490.7 1283.7 L 1467.9 1275.4 Q 1459.6 1269.2 1457.6 1263.0 Q 1449.3 1258.9 1438.9 1254.7 L 1414.1 1246.5 Q 1405.0 1240.2 1405.8 1234.0 Z" fill="#fff" stroke="#000" stroke-width="5" stroke-linejoin="round" stroke-linecap="round" />
<ellipse cx="1423.2" cy="1236.9" rx="7.45" ry="3.73" fill="none" stroke="#000" stroke-width="2.2" transform="rotate(15 1423.2 1236.9)" />
<ellipse cx="1492.8" cy="1273.4" rx="7.45" ry="3.73" fill="none" stroke="#000" stroke-width="2.2" transform="rotate(15 1492.8 1273.4)" />
<path d="M 1304.3 1171.9 Q 1327.1 1149.2 1352.0 1147.1 Q 1370.6 1151.2 1361.1 1169.9 Q 1318.8 1194.7 1307.2 1244.4 Q 1306.4 1294.1 1345.8 1329.3" fill="none" stroke="#000" stroke-width="24" stroke-linejoin="round" stroke-linecap="butt"/>
<path d="M 1304.3 1171.9 Q 1327.1 1149.2 1352.0 1147.1 Q 1370.6 1151.2 1361.1 1169.9 Q 1318.8 1194.7 1307.2 1244.4 Q 1306.4 1294.1 1345.8 1329.3" fill="none" stroke="#fff" stroke-width="14" stroke-linejoin="round" stroke-linecap="butt"/>
<path d="M 1254.7 1196.8 L 1273.3 1178.1 L 1289.9 1184.3 L 1306.4 1165.7 L 1319.7 1178.1 L 1296.1 1207.1 L 1289.9 1211.3 L 1273.3 1223.7 L 1258.8 1215.4 Z" fill="#fff" stroke="#000" stroke-width="5" stroke-linejoin="round" stroke-linecap="round" />
<ellipse cx="1273.3" cy="1200.9" rx="6.21" ry="9.11" fill="none" stroke="#000" stroke-width="2.4" transform="rotate(10 1273.3 1200.9)" />
<path d="M 1289.9 1184.3 L 1296.1 1207.1 M 1306.4 1165.7 L 1314.7 1182.3" fill="none" stroke="#000" stroke-width="2.4" stroke-linejoin="round" stroke-linecap="round" />
<path d="M 1339.5 1321.0 L 1363.6 1333.4 L 1366.5 1343.8 L 1381.0 1339.6 L 1409.9 1360.3 L 1412.0 1368.6 L 1403.7 1372.8 L 1381.0 1370.7 L 1364.4 1360.3 L 1360.2 1350.0 L 1331.3 1333.4 Z" fill="#fff" stroke="#000" stroke-width="5" stroke-linejoin="round" stroke-linecap="round" />
<ellipse cx="1389.2" cy="1361.6" rx="9.11" ry="4.14" fill="none" stroke="#000" stroke-width="2.4" transform="rotate(15 1389.2 1361.6)" />
<path d="M 1363.6 1333.4 L 1360.2 1350.0 M 1366.5 1343.8 L 1370.6 1356.2" fill="none" stroke="#000" stroke-width="2.4" stroke-linejoin="round" stroke-linecap="round" />
<path d="M 1221.5 1439.0 L 1218.6 1461.8 L 1226.9 1464.7 L 1231.9 1439.8" fill="#fff" stroke="#000" stroke-width="3" stroke-linejoin="round" stroke-linecap="round" />
<path d="M 1219.5 1449.4 L 1229.8 1451.4 M 1218.6 1456.4 L 1228.6 1458.5" fill="none" stroke="#000" stroke-width="2" stroke-linejoin="round" stroke-linecap="round" />
<ellipse cx="1226.9" cy="1433.6" rx="12.42" ry="6.21" fill="#fff" stroke="#000" stroke-width="3.6" transform="rotate(8 1226.9 1433.6)" />
<path d="M 1221.5 1432.0 L 1231.9 1434.9 M 1227.7 1430.7 L 1225.7 1436.5" fill="none" stroke="#000" stroke-width="1.8" stroke-linejoin="round" stroke-linecap="round" />
<path d="M 1515.5 1405.1 L 1512.6 1427.8 L 1520.9 1430.7 L 1525.9 1405.9" fill="#fff" stroke="#000" stroke-width="3" stroke-linejoin="round" stroke-linecap="round" />
<path d="M 1513.5 1415.4 L 1523.8 1417.5 M 1512.6 1422.4 L 1522.6 1424.5" fill="none" stroke="#000" stroke-width="2" stroke-linejoin="round" stroke-linecap="round" />
<ellipse cx="1520.9" cy="1399.7" rx="12.42" ry="6.21" fill="#fff" stroke="#000" stroke-width="3.6" transform="rotate(8 1520.9 1399.7)" />
<path d="M 1515.5 1398.0 L 1525.9 1400.9 M 1521.7 1396.8 L 1519.7 1402.6" fill="none" stroke="#000" stroke-width="1.8" stroke-linejoin="round" stroke-linecap="round" />
<path d="M 1279.1 1494.9 L 1266.8 1497.1 L 1261.7 1514.5 Q 1263.2 1520.3 1269.0 1521.7 L 1290.7 1526.8 L 1398.7 1588.4 L 1437.1 1583.3 L 1458.8 1596.4 L 1479.1 1592.8 L 1484.2 1575.4 L 1475.5 1568.8 L 1466.1 1566.7 L 1486.4 1527.5 Q 1493.6 1510.1 1487.8 1495.7 L 1487.1 1485.5 L 1445.1 1460.9 L 1432.0 1453.6 L 1387.8 1427.5 Q 1379.1 1429.0 1374.8 1434.8 L 1371.2 1449.3 L 1375.5 1455.1 Q 1373.3 1465.2 1363.2 1472.5 L 1360.3 1481.2 Q 1355.9 1472.5 1345.8 1475.4 L 1341.4 1475.4 L 1337.1 1466.7 L 1324.1 1459.4 Q 1319.7 1458.0 1316.8 1460.9 L 1311.0 1472.5 L 1296.5 1463.0 Q 1290.7 1462.3 1290.7 1468.1 L 1302.3 1485.5 Z" fill="#fff" stroke="#fff" stroke-width="0.1" stroke-linejoin="round" stroke-linecap="round" />
<path d="M 1279.1 1494.9 L 1266.8 1497.1 L 1261.7 1514.5 Q 1263.2 1520.3 1269.0 1521.7 L 1290.7 1526.8 L 1398.7 1588.4 L 1437.1 1583.3 L 1458.8 1596.4 L 1479.1 1592.8 L 1484.2 1575.4 L 1475.5 1568.8 L 1469.0 1569.6 M 1374.8 1434.8 Q 1379.1 1429.0 1387.8 1427.5 L 1432.0 1453.6 M 1371.2 1449.3 L 1379.1 1452.2 M 1445.1 1460.9 L 1487.1 1485.5 L 1487.8 1495.7 Q 1493.6 1510.1 1486.4 1527.5 Q 1480.6 1537.7 1470.4 1536.2 M 1290.7 1468.1 Q 1290.7 1462.3 1296.5 1463.0 L 1311.0 1472.5 L 1316.8 1460.9 Q 1319.7 1458.0 1324.1 1459.4 L 1337.1 1466.7 L 1341.4 1475.4 M 1363.2 1472.5 Q 1373.3 1465.2 1375.5 1455.1 M 1345.8 1475.4 Q 1355.9 1472.5 1360.3 1481.2" fill="none" stroke="#000" stroke-width="4.6" stroke-linejoin="round" stroke-linecap="round" />
<path d="M 1302.3 1485.5 L 1409.6 1546.4 L 1400.1 1587.7 M 1302.3 1485.5 L 1291.4 1526.1 M 1409.6 1546.4 L 1427.0 1539.1 L 1448.7 1552.2 M 1306.7 1484.1 L 1413.9 1544.2 M 1360.3 1489.9 L 1412.5 1520.3 M 1360.3 1489.9 L 1383.5 1478.3 L 1419.7 1498.6 M 1383.5 1478.3 L 1383.5 1457.2 L 1379.1 1452.2 L 1424.8 1478.3 M 1437.8 1484.8 L 1458.8 1497.1 L 1480.6 1487.0 M 1458.8 1497.1 L 1457.4 1500.0 M 1431.3 1503.6 L 1470.4 1525.4 M 1427.0 1527.5 L 1448.7 1539.1 M 1469.0 1569.6 L 1470.4 1578.3 L 1479.1 1576.1 M 1422.6 1546.4 Q 1421.2 1559.4 1432.8 1563.8 L 1444.3 1571.0 Q 1445.8 1573.9 1453.0 1573.9 L 1466.1 1566.7 L 1469.0 1562.3 M 1442.9 1553.6 L 1444.3 1566.7 Q 1448.7 1571.0 1453.0 1569.6 M 1464.6 1534.8 L 1466.1 1539.1 L 1470.4 1536.2 M 1311.0 1472.5 L 1315.4 1485.5 M 1279.1 1494.9 L 1282.0 1500.0 L 1295.1 1504.3" fill="none" stroke="#000" stroke-width="2.2" stroke-linejoin="round" stroke-linecap="round" />
<path d="M 1342.2 1504.3 L 1344.3 1481.2 Q 1350.9 1476.8 1358.1 1481.2 L 1355.9 1507.2 M 1343.6 1488.4 Q 1350.1 1491.3 1357.4 1488.4 M 1343.2 1495.7 Q 1350.1 1498.6 1356.8 1495.7" fill="#fff" stroke="#000" stroke-width="2.4" stroke-linejoin="round" stroke-linecap="round" />
<ellipse cx="1351.2" cy="1480.4" rx="6.96" ry="2.9" fill="#fff" stroke="#000" stroke-width="2.2" />
<path d="M 1408.8 1541.3 L 1411.0 1518.8 Q 1418.3 1514.5 1426.2 1518.8 L 1423.3 1542.8 M 1410.3 1526.1 Q 1417.5 1529.0 1425.5 1526.1 M 1409.6 1534.1 Q 1416.8 1537.0 1424.6 1534.1" fill="#fff" stroke="#000" stroke-width="2.4" stroke-linejoin="round" stroke-linecap="round" />
<ellipse cx="1418.6" cy="1518.1" rx="7.54" ry="2.9" fill="#fff" stroke="#000" stroke-width="2.2" />
<ellipse cx="1283.5" cy="1503.2" rx="7.25" ry="2.9" fill="none" stroke="#000" stroke-width="2.2" transform="rotate(15 1283.5 1503.2)" />
<text x="219.3" y="1346.6" font-size="83" text-anchor="start" >31</text>
<line x1="309.7" y1="1339.0" x2="407.0" y2="1394.9" stroke="#000" stroke-width="4.8" stroke-linecap="round"/>
<text x="250.3" y="1630.6" font-size="83" text-anchor="start" >28</text>
<line x1="334.6" y1="1560.6" x2="416.1" y2="1512.9" stroke="#000" stroke-width="4.8" stroke-linecap="round"/>
<text x="914.9" y="1465.8" font-size="83" text-anchor="start" >34</text>
<line x1="852.2" y1="1498.4" x2="914.3" y2="1464.5" stroke="#000" stroke-width="4.8" stroke-linecap="round"/>
<line x1="945.3" y1="1554.3" x2="1011.6" y2="1519.2" stroke="#000" stroke-width="4.8" stroke-linecap="round"/>
<path d="M 409.1 1409.4 L 415.3 1394.9 L 426.9 1391.6 L 436.0 1397.0 L 442.2 1405.3 L 458.8 1409.4 Q 468.3 1413.6 467.1 1426.0 Q 465.0 1434.3 455.9 1435.5 L 438.1 1430.1 L 431.9 1432.2 L 419.5 1428.1 L 411.2 1420.6 Z" fill="#fff" stroke="#000" stroke-width="2.6" stroke-linejoin="round" stroke-linecap="round" />
<path d="M 415.3 1394.9 L 418.6 1413.6 L 411.2 1420.6 M 418.6 1413.6 L 429.8 1417.7 L 436.0 1397.0 M 429.8 1417.7 L 431.9 1432.2 M 436.0 1403.2 Q 444.3 1415.6 438.1 1430.1 M 448.4 1407.3 L 445.1 1432.2 M 454.7 1409.4 L 451.8 1434.3 M 460.0 1412.3 Q 456.7 1423.9 460.0 1434.3" fill="none" stroke="#000" stroke-width="2" stroke-linejoin="round" stroke-linecap="round" />
<path d="M 398.8 1485.2 L 403.7 1473.6 L 413.3 1471.5 L 421.5 1476.9 L 425.7 1481.9 L 440.2 1486.9 Q 447.6 1491.0 445.1 1500.5 Q 442.2 1506.7 435.2 1505.9 L 421.5 1501.8 L 415.3 1503.4 L 406.2 1499.3 L 400.4 1494.3 Z" fill="#fff" stroke="#000" stroke-width="2.6" stroke-linejoin="round" stroke-linecap="round" />
<path d="M 403.7 1473.6 L 407.0 1488.1 L 400.4 1494.3 M 407.0 1488.1 L 416.1 1491.4 L 421.5 1476.9 M 416.1 1491.4 L 415.3 1503.4 M 429.8 1484.0 L 426.9 1503.4 M 436.0 1486.9 L 432.7 1505.1" fill="none" stroke="#000" stroke-width="2" stroke-linejoin="round" stroke-linecap="round" />
<path d="M 583.0 1432.2 Q 583.0 1465.3 599.6 1496.4" fill="none" stroke="#000" stroke-width="22" stroke-linejoin="round" stroke-linecap="butt"/>
<path d="M 583.0 1432.2 Q 583.0 1465.3 599.6 1496.4" fill="none" stroke="#fff" stroke-width="13" stroke-linejoin="round" stroke-linecap="butt"/>
<path d="M 587.2 1388.7 Q 583.0 1436.3 552.0 1484.0 L 529.2 1519.2" fill="none" stroke="#000" stroke-width="22" stroke-linejoin="round" stroke-linecap="round"/>
<path d="M 587.2 1388.7 Q 583.0 1436.3 552.0 1484.0 L 529.2 1519.2" fill="none" stroke="#fff" stroke-width="13" stroke-linejoin="round" stroke-linecap="round"/>
<path d="M 494.8 1546.1 L 510.6 1519.2 L 527.1 1514.2 L 544.5 1523.3 L 519.7 1556.4 L 504.3 1558.9 Q 494.0 1556.4 494.8 1546.1 Z" fill="#fff" stroke="#000" stroke-width="5" stroke-linejoin="round" stroke-linecap="round" />
<ellipse cx="514.7" cy="1538.2" rx="4.55" ry="7.45" fill="none" stroke="#000" stroke-width="2.4" transform="rotate(25 514.7 1538.2)" />
<path d="M 510.6 1519.2 L 527.1 1528.3 L 519.7 1556.4 M 542.9 1486.0 L 560.2 1494.3" fill="none" stroke="#000" stroke-width="2.4" stroke-linejoin="round" stroke-linecap="round" />
<path d="M 581.8 1491.0 L 607.9 1494.3 L 630.6 1510.9 L 627.3 1527.4 L 609.1 1537.8 L 598.3 1524.1 L 578.9 1503.4 Z" fill="#fff" stroke="#000" stroke-width="5" stroke-linejoin="round" stroke-linecap="round" />
<ellipse cx="612.4" cy="1515.8" rx="4.55" ry="7.45" fill="none" stroke="#000" stroke-width="2.4" transform="rotate(25 612.4 1515.8)" />
<path d="M 607.9 1494.3 L 599.6 1510.9 L 609.1 1537.8" fill="none" stroke="#000" stroke-width="2.4" stroke-linejoin="round" stroke-linecap="round" />
<ellipse cx="783.0" cy="1485.2" rx="12.01" ry="15.32" fill="#fff" stroke="#000" stroke-width="2.6" transform="rotate(20 783.0 1485.2)" />
<ellipse cx="784.3" cy="1485.2" rx="5.38" ry="7.87" fill="none" stroke="#000" stroke-width="2.2" transform="rotate(20 784.3 1485.2)" />
<path d="M 771.8 1488.5 Q 774.7 1500.9 785.5 1500.9" fill="none" stroke="#000" stroke-width="2" stroke-linejoin="round" stroke-linecap="round" />
<path d="M 813.7 1508.8 L 821.1 1498.4 L 833.5 1498.4 L 841.4 1507.6 L 839.8 1520.0 L 830.6 1525.8 L 819.0 1522.5 Z" fill="#fff" stroke="#000" stroke-width="2.8" stroke-linejoin="round" stroke-linecap="round" />
<ellipse cx="829.8" cy="1510.0" rx="9.11" ry="9.94" fill="none" stroke="#000" stroke-width="2.2" />
<ellipse cx="829.8" cy="1510.0" rx="4.55" ry="5.38" fill="none" stroke="#000" stroke-width="2" />
<path d="M 821.1 1498.4 L 820.7 1511.7 L 819.0 1522.5 M 820.7 1511.7 L 813.7 1508.8" fill="none" stroke="#000" stroke-width="2" stroke-linejoin="round" stroke-linecap="round" />
<path d="M 913.0 1565.9 L 920.5 1555.6 L 932.9 1555.6 L 940.8 1564.7 L 939.1 1577.1 L 930.0 1582.9 L 918.4 1579.6 Z" fill="#fff" stroke="#000" stroke-width="2.8" stroke-linejoin="round" stroke-linecap="round" />
<ellipse cx="929.2" cy="1567.2" rx="9.11" ry="9.94" fill="none" stroke="#000" stroke-width="2.2" />
<ellipse cx="929.2" cy="1567.2" rx="4.55" ry="5.38" fill="none" stroke="#000" stroke-width="2" />
<path d="M 920.5 1555.6 L 920.1 1568.8 L 918.4 1579.6 M 920.1 1568.8 L 913.0 1565.9" fill="none" stroke="#000" stroke-width="2" stroke-linejoin="round" stroke-linecap="round" />
<ellipse cx="986.7" cy="1604.0" rx="12.01" ry="15.32" fill="#fff" stroke="#000" stroke-width="2.6" transform="rotate(20 986.7 1604.0)" />
<ellipse cx="988.0" cy="1604.0" rx="5.38" ry="7.87" fill="none" stroke="#000" stroke-width="2.2" transform="rotate(20 988.0 1604.0)" />
<path d="M 975.6 1607.3 Q 978.5 1619.8 989.2 1619.8" fill="none" stroke="#000" stroke-width="2" stroke-linejoin="round" stroke-linecap="round" />
<text x="1180.2" y="2354.1" font-size="83" text-anchor="start" >17</text>
<line x1="1090.5" y1="2248.7" x2="1181.4" y2="2300.0" stroke="#000" stroke-width="4.8" stroke-linecap="round"/>
<path d="M 629.3 1672.0 L 517.5 2074.1 L 526.9 2084.3 L 911.2 2314.0 L 1060.2 2300.9 L 1074.2 2288.3 L 1202.3 1824.8 L 801.7 1594.3 L 706.2 1606.8 L 701.5 1624.5 L 672.7 1626.9 L 662.0 1666.5 Z" fill="#fff" stroke="#000" stroke-width="4.6" stroke-linejoin="round" stroke-linecap="round" />
<path d="M 629.3 1672.0 L 741.1 1734.0 L 757.4 1680.4 L 815.7 1668.8 L 706.2 1606.8 M 757.4 1680.4 L 934.5 1782.0 L 995.0 1773.6 L 1104.5 1838.8 L 1202.3 1824.8 M 934.5 1782.0 L 920.5 1834.2 L 981.0 1824.8 L 995.0 1773.6 M 920.5 1834.2 L 1027.6 1901.7 L 1088.2 1892.4 L 1104.5 1838.8 M 981.0 1824.8 L 1027.6 1852.8 M 1027.6 1901.7 L 920.5 2307.0 M 526.9 2074.1 L 915.8 2304.6 L 1069.6 2290.7" fill="none" stroke="#000" stroke-width="2.2" stroke-linejoin="round" stroke-linecap="round" />
<path d="M 662.0 1678.1 L 672.7 1626.9 L 701.5 1624.5 L 689.9 1675.8 Z" fill="#fff" stroke="#000" stroke-width="3" stroke-linejoin="round" stroke-linecap="round" />
<ellipse cx="686.6" cy="1640.8" rx="4.19" ry="6.52" fill="none" stroke="#000" stroke-width="2" transform="rotate(20 686.6 1640.8)" />
<path d="M 1027.6 1890.1 L 1039.3 1836.5 L 1067.2 1834.2 L 1055.6 1887.7 Z" fill="#fff" stroke="#000" stroke-width="3" stroke-linejoin="round" stroke-linecap="round" />
<ellipse cx="1050.9" cy="1852.8" rx="4.19" ry="6.52" fill="none" stroke="#000" stroke-width="2" transform="rotate(20 1050.9 1852.8)" />
<path d="M 978.7 1852.8 L 992.7 1858.4 M 981.0 1858.4 L 990.4 1851.9" fill="none" stroke="#000" stroke-width="2" stroke-linejoin="round" stroke-linecap="round" />
<path d="M 469.2 1434.3 L 661.7 1544.0" fill="none" stroke="#333" stroke-width="1.3" stroke-dasharray="17 5"/>
<path d="M 450.5 1508.8 L 732.1 1668.2" fill="none" stroke="#333" stroke-width="1.3" stroke-dasharray="17 5"/>
<path d="M 821.1 1507.6 L 734.2 1457.0 L 734.2 1670.3" fill="none" stroke="#333" stroke-width="1.3" stroke-dasharray="17 5"/>
<path d="M 941.2 1577.1 L 978.5 1597.8" fill="none" stroke="#333" stroke-width="1.3" stroke-dasharray="17 5"/>
<path d="M 997.4 1605.9 L 1016.0 1619.9 L 1016.0 1841.1" fill="none" stroke="#333" stroke-width="1.3" stroke-dasharray="17 5"/>
<path d="M 1055.6 1857.4 L 1363.0 2028.9" fill="none" stroke="#333" stroke-width="1.3" stroke-dasharray="17 5"/>
<path d="M 941.5 1575.6 L 976.4 1596.6" fill="none" stroke="#333" stroke-width="1.3" stroke-dasharray="17 5"/>
<text x="389.8" y="2434.8" font-size="83" text-anchor="start" >14</text>
<line x1="302.7" y1="2319.4" x2="393.3" y2="2368.5" stroke="#000" stroke-width="4.8" stroke-linecap="round"/>
<path d="M 420.2 1978.8 L 450.2 1975.2 Q 464.7 1967.4 462.1 1949.3 L 433.6 1938.9 L 438.8 1814.7 Q 435.7 1800.7 423.3 1808.0 L 227.6 2515.0 L 261.3 2566.8 L 249.4 2591.1 L 257.7 2622.2" fill="none" stroke="#000" stroke-width="13" stroke-linejoin="round" stroke-linecap="round"/>
<path d="M 420.2 1978.8 L 450.2 1975.2 Q 464.7 1967.4 462.1 1949.3 L 433.6 1938.9 L 438.8 1814.7 Q 435.7 1800.7 423.3 1808.0 L 227.6 2515.0 L 261.3 2566.8 L 249.4 2591.1 L 257.7 2622.2" fill="none" stroke="#fff" stroke-width="7.6" stroke-linejoin="round" stroke-linecap="round"/>
<text x="1517.6" y="2034.0" font-size="83" text-anchor="start" >9</text>
<line x1="1433.1" y1="1917.8" x2="1524.2" y2="1971.4" stroke="#000" stroke-width="4.8" stroke-linecap="round"/>
<text x="1506.5" y="2181.5" font-size="83" text-anchor="start" >28</text>
<line x1="1422.8" y1="2061.2" x2="1513.9" y2="2113.7" stroke="#000" stroke-width="4.8" stroke-linecap="round"/>
<text x="1387.4" y="2268.2" font-size="83" text-anchor="start" >43</text>
<line x1="1317.2" y1="2150.0" x2="1409.0" y2="2203.0" stroke="#000" stroke-width="4.8" stroke-linecap="round"/>
<path d="M 1262.8 1870.5 L 1384.5 1939.6 L 1387.8 1923.0" fill="none" stroke="#333" stroke-width="1.3" stroke-dasharray="17 5"/>
<path d="M 1180.0 1928.7 L 1257.6 1971.4" fill="none" stroke="#333" stroke-width="1.3" stroke-dasharray="17 5"/>
<path d="M 1330.1 2012.8 L 1376.7 2038.7" fill="none" stroke="#333" stroke-width="1.3" stroke-dasharray="17 5"/>
<path d="M 1397.4 1893.0 Q 1376.7 1900.2 1361.2 1918.3 Q 1345.6 1941.6 1324.9 1955.9 Q 1301.6 1970.1 1278.3 1977.9 L 1211.1 2001.2 Q 1202.0 2006.3 1204.6 2015.4 Q 1208.5 2024.5 1221.4 2021.3 L 1288.7 1996.5 L 1293.9 1992.1 L 1324.9 1985.6 Q 1332.7 1972.7 1348.2 1964.9 Q 1361.2 1949.4 1368.9 1937.8 Q 1381.9 1919.6 1402.6 1909.3 L 1433.6 1909.3 L 1459.5 1919.6 Q 1469.9 1919.6 1471.1 1908.0 Q 1469.9 1900.2 1464.7 1897.6 L 1423.3 1873.6 L 1414.2 1887.8 L 1402.6 1895.1 Z" fill="#fff" stroke="#000" stroke-width="5" stroke-linejoin="round" stroke-linecap="round" />
<path d="M 1224.0 2019.3 L 1269.3 2002.5 M 1418.1 1882.1 L 1454.3 1895.1 L 1460.8 1898.2 M 1454.3 1895.1 L 1446.6 1890.4 M 1402.6 1895.1 Q 1409.0 1902.8 1405.2 1909.3" fill="none" stroke="#000" stroke-width="2.4" stroke-linejoin="round" stroke-linecap="round" />
<path d="M 1375.4 1875.6 Q 1376.7 1867.9 1387.0 1867.9 L 1407.7 1870.5 L 1417.6 1880.8 L 1414.2 1887.8 L 1402.6 1890.4 L 1387.0 1887.8 Q 1379.3 1884.7 1375.4 1875.6 Z" fill="#fff" stroke="#000" stroke-width="4.5" stroke-linejoin="round" stroke-linecap="round" />
<ellipse cx="1398.7" cy="1879.0" rx="7.76" ry="3.11" fill="none" stroke="#000" stroke-width="2.4" transform="rotate(12 1398.7 1879.0)" />
<path d="M 1269.3 2002.5 L 1293.9 1993.4 L 1295.9 2018.0 L 1271.1 2016.7 Z" fill="#fff" stroke="#000" stroke-width="3.5" stroke-linejoin="round" stroke-linecap="round" />
<path d="M 1297.8 1992.1 L 1321.0 1986.9 L 1329.6 1989.5 L 1330.1 2003.7 L 1321.0 2020.6 L 1301.6 2024.5 L 1293.9 2018.0 L 1295.2 2001.2 Z" fill="#fff" stroke="#000" stroke-width="5" stroke-linejoin="round" stroke-linecap="round" />
<ellipse cx="1314.6" cy="2005.0" rx="2.85" ry="5.69" fill="none" stroke="#000" stroke-width="2.4" transform="rotate(20 1314.6 2005.0)" />
<path d="M 1312.5 2008.9 L 1316.6 2001.2" fill="none" stroke="#000" stroke-width="1.8" stroke-linejoin="round" stroke-linecap="round" />
<path d="M 1297.8 1992.1 Q 1301.6 2006.3 1301.6 2024.5" fill="none" stroke="#000" stroke-width="2.4" stroke-linejoin="round" stroke-linecap="round" />
<path d="M 1372.8 2042.0 L 1379.3 2034.3 L 1384.5 2034.8 L 1400.0 2045.2 L 1407.7 2044.6 L 1416.8 2050.3 L 1418.6 2062.0 L 1410.3 2070.5 L 1401.3 2069.7 L 1393.5 2063.3 L 1394.8 2056.8 L 1376.7 2049.0 Z" fill="#fff" stroke="#000" stroke-width="2.6" stroke-linejoin="round" stroke-linecap="round" />
<path d="M 1380.6 2036.1 Q 1378.0 2042.6 1381.9 2050.8 M 1387.0 2038.7 Q 1384.5 2045.7 1388.3 2053.4 M 1393.5 2042.6 Q 1390.9 2049.0 1394.3 2056.0 M 1400.0 2045.2 L 1394.8 2056.8 M 1407.7 2044.6 Q 1402.6 2055.5 1410.3 2070.5 M 1409.0 2056.8 L 1415.5 2062.0 M 1414.2 2056.0 L 1410.3 2063.3" fill="none" stroke="#000" stroke-width="2" stroke-linejoin="round" stroke-linecap="round" />
<path d="M 1217.5 2113.7 Q 1216.2 2104.7 1226.6 2102.1 L 1273.2 2091.7 Q 1274.5 2073.6 1283.5 2068.4 Q 1296.5 2063.3 1317.2 2068.4 Q 1332.7 2074.9 1334.0 2089.2 L 1327.5 2139.6 Q 1324.9 2148.7 1301.6 2150.0 Q 1278.3 2148.7 1265.4 2133.1 L 1235.6 2142.2 Q 1222.7 2140.9 1218.8 2128.0 Z" fill="#fff" stroke="#000" stroke-width="5" stroke-linejoin="round" stroke-linecap="round" />
<ellipse cx="1306.8" cy="2076.2" rx="9.83" ry="4.4" fill="none" stroke="#000" stroke-width="2.2" transform="rotate(8 1306.8 2076.2)" />
<ellipse cx="1231.8" cy="2122.0" rx="10.87" ry="15.01" fill="none" stroke="#000" stroke-width="3" transform="rotate(-10 1231.8 2122.0)" />
<ellipse cx="1233.1" cy="2122.0" rx="7.25" ry="11.39" fill="none" stroke="#000" stroke-width="2.2" transform="rotate(-10 1233.1 2122.0)" />
<path d="M 1278.3 2090.4 Q 1304.2 2104.7 1333.2 2094.8 M 1273.2 2091.7 Q 1293.9 2102.1 1293.9 2120.2 Q 1292.6 2125.4 1265.4 2133.1 M 1268.0 2135.2 Q 1293.9 2146.6 1327.0 2140.4" fill="none" stroke="#000" stroke-width="2.4" stroke-linejoin="round" stroke-linecap="round" />
<text x="1992.9" y="1913.9" font-size="83" text-anchor="start" >1</text>
<line x1="1895.7" y1="1987.7" x2="1995.3" y2="1932.6" stroke="#000" stroke-width="4.8" stroke-linecap="round"/>
<text x="2024.4" y="2178.4" font-size="83" text-anchor="start" >7</text>
<line x1="1928.3" y1="2235.9" x2="2026.1" y2="2177.9" stroke="#000" stroke-width="4.8" stroke-linecap="round"/>
<path d="M 1835.9 2371.7 L 1831.2 2393.5" fill="none" stroke="#333" stroke-width="1.3" stroke-dasharray="17 5"/>
<path d="M 1852.2 2002.2 Q 1855.8 1944.2 1870.3 1927.9 Q 1881.2 1920.7 1893.8 1927.9 Q 1901.1 1937.0 1895.7 1969.6 L 1883.0 2009.4 L 1873.9 2020.3 L 1870.3 2058.3 L 1861.2 2063.8 L 1857.6 2056.5 L 1863.0 2020.3 L 1854.0 2016.7 Z" fill="#fff" stroke="#000" stroke-width="5" stroke-linejoin="round" stroke-linecap="round" />
<path d="M 1870.3 1927.9 Q 1859.4 1958.7 1859.4 2009.4 L 1863.0 2020.3 M 1873.9 2020.3 L 1867.4 2011.2 L 1883.0 2009.4 M 1864.9 2023.9 L 1863.8 2058.3 M 1869.6 2023.9 L 1867.4 2059.4" fill="none" stroke="#000" stroke-width="2.4" stroke-linejoin="round" stroke-linecap="round" />
<path d="M 1788.8 2152.5 Q 1794.2 2143.5 1808.7 2142.8 L 1825.0 2150.7 L 1924.6 2192.4 L 1940.9 2194.2 L 1939.1 2203.3 L 1928.3 2206.9 L 1917.4 2270.3 Q 1906.5 2284.8 1881.2 2281.2 L 1879.3 2317.4 L 1870.3 2317.4 L 1837.7 2312.0 L 1817.8 2306.5 L 1821.4 2270.3 Q 1790.6 2263.0 1790.6 2248.6 L 1799.6 2176.1 Q 1788.8 2165.2 1788.8 2152.5 Z" fill="#fff" stroke="#000" stroke-width="5" stroke-linejoin="round" stroke-linecap="round" />
<path d="M 1808.7 2142.8 L 1815.9 2168.8 L 1799.6 2176.1 M 1815.9 2168.8 L 1825.0 2150.7 M 1815.9 2168.8 L 1819.6 2154.3 L 1828.6 2156.2 L 1826.8 2176.1 M 1839.5 2158.0 L 1828.6 2226.8 M 1850.4 2163.4 L 1841.3 2230.4 M 1872.1 2172.5 L 1861.2 2234.1 M 1901.1 2185.1 L 1888.4 2241.3 M 1917.4 2192.4 L 1904.7 2243.1 L 1859.4 2234.1 M 1904.7 2243.1 L 1917.4 2197.8 M 1790.6 2248.6 Q 1808.7 2241.3 1823.2 2248.6 M 1823.2 2248.6 Q 1852.2 2270.3 1881.2 2281.2 M 1825.0 2272.1 L 1823.2 2302.9 L 1837.7 2312.0 M 1830.4 2273.9 L 1828.6 2301.1 M 1924.6 2192.4 L 1922.8 2206.9 L 1928.3 2206.9" fill="none" stroke="#000" stroke-width="2.4" stroke-linejoin="round" stroke-linecap="round" />
<path d="M 1792.4 2471.4 L 1808.7 2400.7 L 1859.4 2393.5 L 1877.5 2409.8 L 1877.5 2426.1 L 1870.3 2429.7 L 1859.4 2487.7 L 1844.9 2498.6 L 1808.7 2491.3 L 1794.2 2482.2 Z" fill="#fff" stroke="#000" stroke-width="5" stroke-linejoin="round" stroke-linecap="round" />
<path d="M 1808.7 2400.7 L 1825.0 2409.8 L 1808.7 2475.0 L 1792.4 2471.4 M 1825.0 2409.8 L 1877.5 2409.8 M 1841.3 2408.0 L 1825.0 2480.4 M 1857.6 2409.8 L 1844.9 2480.4 M 1808.7 2475.0 Q 1826.8 2487.7 1859.4 2480.4 M 1815.9 2482.2 L 1819.6 2498.6 M 1830.4 2484.1 L 1826.8 2498.6 M 1841.3 2484.1 L 1837.7 2498.6" fill="none" stroke="#000" stroke-width="2.4" stroke-linejoin="round" stroke-linecap="round" />
<path d="M 1825.0 2493.1 Q 1819.6 2520.3 1830.4 2538.4 L 1834.1 2552.9" fill="none" stroke="#000" stroke-width="22" stroke-linejoin="round" stroke-linecap="butt"/>
<path d="M 1825.0 2493.1 Q 1819.6 2520.3 1830.4 2538.4 L 1834.1 2552.9" fill="none" stroke="#fff" stroke-width="13" stroke-linejoin="round" stroke-linecap="butt"/>
<path d="M 1821.4 2498.6 L 1837.7 2523.9 M 1834.1 2498.6 L 1823.2 2520.3 L 1837.7 2538.4" fill="none" stroke="#000" stroke-width="2" stroke-linejoin="round" stroke-linecap="round" />
<text x="2348.3" y="2308.5" font-size="83" text-anchor="start" >6</text>
<line x1="2250.4" y1="2366.7" x2="2349.3" y2="2309.8" stroke="#000" stroke-width="4.8" stroke-linecap="round"/>
<path d="M 2058.3 2514.5 L 2110.9 2474.6" fill="none" stroke="#333" stroke-width="1.3" stroke-dasharray="17 5"/>
<path d="M 2155.7 2360.9 L 2149.5 2352.2 L 2139.6 2353.4 L 2134.6 2358.4 L 2116.0 2391.9 L 2108.5 2393.2 L 2099.2 2400.6 L 2096.1 2409.3 L 2101.1 2425.5 L 2092.4 2434.2 L 2091.1 2440.4 L 2094.8 2445.3 L 2101.7 2446.6 L 2103.5 2455.3 L 2111.0 2459.0 L 2113.5 2467.7 L 2112.2 2476.4 L 2117.2 2481.4 L 2124.0 2482.6 L 2125.9 2491.3 L 2134.6 2495.0 L 2137.1 2503.7 L 2147.0 2507.5 L 2161.9 2501.2 L 2165.7 2497.5 L 2179.3 2493.8 L 2189.3 2482.6 L 2209.1 2475.2 L 2232.7 2461.5 L 2237.7 2452.8 L 2236.5 2445.3 L 2248.9 2455.3 L 2252.6 2452.8 L 2243.9 2428.0 Z" fill="#fff" stroke="#000" stroke-width="4.6" stroke-linejoin="round" stroke-linecap="round" />
<path d="M 2109.8 2435.4 L 2170.6 2383.2 L 2236.5 2442.9 M 2144.5 2394.4 L 2206.6 2464.0 M 2170.6 2383.2 Q 2144.5 2391.9 2147.0 2403.1 M 2206.6 2464.0 L 2235.2 2445.3 M 2206.6 2464.0 L 2189.3 2481.4 M 2111.0 2399.4 L 2155.7 2365.8 L 2161.9 2372.0 L 2122.2 2409.3 L 2123.4 2416.8 L 2113.5 2423.0 L 2108.5 2416.8 Z M 2117.2 2403.1 L 2149.5 2379.5 M 2118.4 2405.6 L 2150.7 2382.0 M 2134.6 2358.4 L 2129.6 2369.6 L 2152.0 2364.6 M 2107.3 2429.2 L 2159.4 2377.0 M 2207.9 2409.3 L 2216.6 2415.5 M 2224.0 2418.0 L 2235.2 2428.0 L 2243.9 2428.0 M 2096.7 2435.4 L 2099.8 2434.8 L 2100.4 2437.9 L 2097.3 2438.5 Z M 2108.5 2446.6 L 2111.6 2446.0 L 2112.2 2449.1 L 2109.1 2449.7 Z M 2120.9 2457.8 L 2124.0 2457.1 L 2124.7 2460.2 L 2121.6 2460.9 Z M 2130.9 2468.9 L 2134.0 2468.3 L 2134.6 2472.0 L 2131.5 2472.7 Z M 2143.3 2492.5 L 2157.0 2483.9 M 2147.0 2497.5 L 2160.7 2488.8 M 2113.5 2436.6 L 2103.5 2455.3 M 2124.7 2447.8 L 2113.5 2467.7 M 2137.1 2460.2 L 2124.0 2482.6 M 2147.0 2472.7 L 2134.6 2495.0" fill="none" stroke="#000" stroke-width="2" stroke-linejoin="round" stroke-linecap="round" />
<path d="M 2139.6 2480.1 L 2149.5 2473.9 L 2154.5 2482.6 L 2144.5 2488.8 Z" fill="#000" stroke="#000" stroke-width="2" stroke-linejoin="round" stroke-linecap="round" />
<path d="M 2142.7 2328.0 Q 2144.5 2324.8 2149.5 2324.8 L 2169.4 2324.8 Q 2194.2 2331.1 2225.3 2355.9 L 2267.5 2398.1 L 2276.2 2425.5 Q 2275.0 2435.4 2268.8 2437.9 Q 2260.1 2436.6 2246.4 2428.0 L 2231.5 2419.3 Q 2206.6 2403.1 2181.8 2382.0 L 2155.7 2360.9 Z" fill="#fff" stroke="#000" stroke-width="4.6" stroke-linejoin="round" stroke-linecap="round" />
<path d="M 2155.7 2360.9 Q 2194.2 2359.6 2225.3 2393.2 L 2267.5 2435.4" fill="none" stroke="#000" stroke-width="2.2" stroke-linejoin="round" stroke-linecap="round" />
<path d="M 2174.7 2331.7 L 2178.9 2330.9 L 2180.4 2333.9 L 2176.2 2334.7 Z" fill="none" stroke="#000" stroke-width="1.6" stroke-linejoin="round" stroke-linecap="round" />
<path d="M 2176.6 2338.5 L 2180.8 2337.8 L 2182.3 2340.7 L 2178.1 2341.5 Z" fill="none" stroke="#000" stroke-width="1.6" stroke-linejoin="round" stroke-linecap="round" />
<path d="M 2178.4 2345.3 L 2182.7 2344.6 L 2184.2 2347.6 L 2179.9 2348.3 Z" fill="none" stroke="#000" stroke-width="1.6" stroke-linejoin="round" stroke-linecap="round" />
<path d="M 2180.3 2352.2 L 2184.5 2351.4 L 2186.0 2354.4 L 2181.8 2355.2 Z" fill="none" stroke="#000" stroke-width="1.6" stroke-linejoin="round" stroke-linecap="round" />
<path d="M 2189.6 2336.0 L 2193.9 2335.3 L 2195.3 2338.3 L 2191.1 2339.0 Z" fill="none" stroke="#000" stroke-width="1.6" stroke-linejoin="round" stroke-linecap="round" />
<path d="M 2191.5 2342.9 L 2195.7 2342.1 L 2197.2 2345.1 L 2193.0 2345.8 Z" fill="none" stroke="#000" stroke-width="1.6" stroke-linejoin="round" stroke-linecap="round" />
<path d="M 2193.4 2349.7 L 2197.6 2348.9 L 2199.1 2351.9 L 2194.8 2352.7 Z" fill="none" stroke="#000" stroke-width="1.6" stroke-linejoin="round" stroke-linecap="round" />
<path d="M 2195.2 2356.5 L 2199.4 2355.8 L 2200.9 2358.8 L 2196.7 2359.5 Z" fill="none" stroke="#000" stroke-width="1.6" stroke-linejoin="round" stroke-linecap="round" />
<path d="M 2206.4 2345.3 L 2210.6 2344.6 L 2212.1 2347.6 L 2207.9 2348.3 Z" fill="none" stroke="#000" stroke-width="1.6" stroke-linejoin="round" stroke-linecap="round" />
<path d="M 2208.9 2352.2 L 2213.1 2351.4 L 2214.6 2354.4 L 2210.4 2355.2 Z" fill="none" stroke="#000" stroke-width="1.6" stroke-linejoin="round" stroke-linecap="round" />
<path d="M 2211.4 2359.6 L 2215.6 2358.9 L 2217.1 2361.9 L 2212.9 2362.6 Z" fill="none" stroke="#000" stroke-width="1.6" stroke-linejoin="round" stroke-linecap="round" />
<path d="M 2213.9 2366.5 L 2218.1 2365.7 L 2219.6 2368.7 L 2215.3 2369.4 Z" fill="none" stroke="#000" stroke-width="1.6" stroke-linejoin="round" stroke-linecap="round" />
<path d="M 2243.7 2382.0 L 2247.9 2381.2 L 2249.4 2384.2 L 2245.2 2385.0 Z" fill="none" stroke="#000" stroke-width="1.6" stroke-linejoin="round" stroke-linecap="round" />
<path d="M 2244.9 2388.8 L 2249.1 2388.1 L 2250.6 2391.1 L 2246.4 2391.8 Z" fill="none" stroke="#000" stroke-width="1.6" stroke-linejoin="round" stroke-linecap="round" />
<path d="M 2246.8 2395.7 L 2251.0 2394.9 L 2252.5 2397.9 L 2248.3 2398.6 Z" fill="none" stroke="#000" stroke-width="1.6" stroke-linejoin="round" stroke-linecap="round" />
<path d="M 2254.8 2394.4 L 2259.1 2393.7 L 2260.6 2396.6 L 2256.3 2397.4 Z" fill="none" stroke="#000" stroke-width="1.6" stroke-linejoin="round" stroke-linecap="round" />
<path d="M 2256.7 2401.2 L 2260.9 2400.5 L 2262.4 2403.5 L 2258.2 2404.2 Z" fill="none" stroke="#000" stroke-width="1.6" stroke-linejoin="round" stroke-linecap="round" />
<path d="M 2258.6 2408.1 L 2262.8 2407.3 L 2264.3 2410.3 L 2260.1 2411.1 Z" fill="none" stroke="#000" stroke-width="1.6" stroke-linejoin="round" stroke-linecap="round" />
<path d="M 1956.9 2527.2 L 2014.9 2478.3 L 2074.6 2529.0 L 2088.4 2568.8 L 2029.3 2615.9 L 2016.7 2606.9 L 2005.8 2608.7 L 1967.8 2558.0 Z" fill="#fff" stroke="#000" stroke-width="5" stroke-linejoin="round" stroke-linecap="round" />
<path d="M 2014.9 2478.3 L 2023.9 2518.1 L 1967.8 2558.0 M 2023.9 2518.1 L 2088.4 2568.8 M 2027.5 2496.4 L 2031.2 2503.6 M 2042.0 2509.1 L 2045.7 2516.3 M 2054.7 2521.7 L 2058.3 2529.0 M 2067.4 2534.4 L 2071.0 2541.7 M 2074.6 2550.7 L 2077.5 2558.0" fill="none" stroke="#000" stroke-width="2.4" stroke-linejoin="round" stroke-linecap="round" />
<path d="M 1969.6 2558.0 L 1958.7 2588.8 L 1965.9 2610.5 M 1975.0 2565.2 L 1965.2 2590.6 L 1973.2 2612.3 L 1975.0 2634.1 M 1982.2 2574.3 L 1973.2 2590.6 L 1982.2 2610.5 L 1985.9 2626.8 M 1969.6 2568.8 L 2002.2 2594.2 M 1973.2 2583.3 L 2009.4 2603.3" fill="none" stroke="#000" stroke-width="2.2" stroke-linejoin="round" stroke-linecap="round" />
<path d="M 1573.9 2700.7 Q 1552.2 2726.1 1537.7 2776.8 L 1508.7 2871.0 L 1484.1 2965.2" fill="none" stroke="#000" stroke-width="25" stroke-linejoin="round" stroke-linecap="butt"/>
<path d="M 1573.9 2700.7 Q 1552.2 2726.1 1537.7 2776.8 L 1508.7 2871.0 L 1484.1 2965.2" fill="none" stroke="#fff" stroke-width="18.5" stroke-linejoin="round" stroke-linecap="butt"/>
<path d="M 1838.4 2515.9 Q 1840.2 2541.3 1820.3 2559.4 Q 1791.3 2584.8 1726.1 2613.8 Q 1682.6 2631.9 1631.9 2637.3 Q 1602.9 2642.8 1588.4 2666.3" fill="none" stroke="#000" stroke-width="21" stroke-linejoin="round" stroke-linecap="butt"/>
<path d="M 1838.4 2515.9 Q 1840.2 2541.3 1820.3 2559.4 Q 1791.3 2584.8 1726.1 2613.8 Q 1682.6 2631.9 1631.9 2637.3 Q 1602.9 2642.8 1588.4 2666.3" fill="none" stroke="#fff" stroke-width="15" stroke-linejoin="round" stroke-linecap="butt"/>
<path d="M 1660.9 2646.4 Q 1682.6 2668.1 1700.7 2700.7 Q 1722.5 2737.0 1762.3 2747.8 Q 1816.7 2758.7 1871.0 2744.2 Q 1914.5 2726.1 1936.2 2686.2 L 1965.2 2639.1 L 1976.1 2613.8" fill="none" stroke="#000" stroke-width="21" stroke-linejoin="round" stroke-linecap="butt"/>
<path d="M 1660.9 2646.4 Q 1682.6 2668.1 1700.7 2700.7 Q 1722.5 2737.0 1762.3 2747.8 Q 1816.7 2758.7 1871.0 2744.2 Q 1914.5 2726.1 1936.2 2686.2 L 1965.2 2639.1 L 1976.1 2613.8" fill="none" stroke="#fff" stroke-width="15" stroke-linejoin="round" stroke-linecap="butt"/>
<path d="M 1559.4 2689.9 L 1570.3 2679.0 L 1584.8 2669.9 L 1602.9 2666.3 L 1617.4 2659.1 L 1628.3 2662.7 L 1626.4 2675.4 L 1619.2 2680.8 L 1617.4 2697.1 L 1588.4 2712.3 L 1573.9 2708.0 L 1570.3 2700.7 Z" fill="#fff" stroke="#000" stroke-width="4.5" stroke-linejoin="round" stroke-linecap="round" />
<path d="M 1570.3 2679.0 L 1581.2 2686.2 L 1588.4 2712.3 M 1581.2 2686.2 L 1606.5 2675.4 L 1617.4 2697.1 M 1584.8 2669.9 L 1588.4 2682.6 M 1563.0 2693.5 L 1573.9 2698.9 M 1592.0 2675.4 L 1593.8 2686.2 L 1601.1 2683.3 L 1599.3 2673.6" fill="none" stroke="#000" stroke-width="2.2" stroke-linejoin="round" stroke-linecap="round" />
<ellipse cx="1587.7" cy="2672.5" rx="2.9" ry="2.9" fill="none" stroke="#000" stroke-width="1.8" />
<path d="M 1438.0 3041.3 L 1454.3 2970.7 L 1474.3 2965.2 L 1525.0 2994.2 L 1508.7 3063.0 L 1492.4 3057.6 L 1490.6 3048.6 Z" fill="#fff" stroke="#000" stroke-width="5" stroke-linejoin="round" stroke-linecap="round" />
<path d="M 1454.3 2970.7 L 1470.7 2979.7 L 1490.6 3048.6 M 1470.7 2979.7 L 1487.0 2976.1 M 1492.4 2983.3 L 1508.7 2992.4 L 1525.0 2994.2 M 1492.4 2983.3 L 1499.6 2979.7 L 1515.9 2989.9 M 1470.7 2979.7 L 1468.8 2994.2 L 1476.1 2997.8 L 1477.9 2985.1 M 1488.8 2994.2 L 1508.7 3063.0" fill="none" stroke="#000" stroke-width="2.4" stroke-linejoin="round" stroke-linecap="round" />
<ellipse cx="1462.3" cy="3033.3" rx="2.17" ry="2.54" fill="none" stroke="#000" stroke-width="1.8" />
<ellipse cx="1705.4" cy="2963.4" rx="90.58" ry="90.58" fill="#fff" stroke="#000" stroke-width="1.8" />
<path d="M 1525.0 2988.8 Q 1588.4 2987.0 1612.0 2970.7 Q 1615.6 2958.0 1616.3 2943.5 M 1525.0 2997.1 Q 1581.2 3015.9 1622.8 3009.4 Q 1631.9 3019.6 1646.4 3032.2" fill="none" stroke="#000" stroke-width="1.8" stroke-linejoin="round" stroke-linecap="round" />
<text x="1654.5" y="2954.8" font-size="83" text-anchor="start" >27</text>
<path d="M 1703.6 2979.7 L 1703.6 2994.2" fill="none" stroke="#000" stroke-width="3" stroke-linejoin="round" stroke-linecap="round" />
<rect x="1642.0" y="2998.6" width="125.72" height="34.78" fill="#fff" stroke="#000" stroke-width="2"/>
<text x="1646.4" y="3029.7" font-size="37" textLength="74.28" lengthAdjust="spacingAndGlyphs">10A</text>
<rect x="1730.4" y="3008.7" width="31.88" height="21.01" fill="none" stroke="#000" stroke-width="2"/>
<rect x="1730.4" y="3020.3" width="31.88" height="9.42" fill="#000"/>
<path d="M 1735.1 3008.7 L 1735.1 3005.1 L 1740.6 3005.1 L 1740.6 3008.7 M 1752.2 3008.7 L 1752.2 3005.1 L 1757.6 3005.1 L 1757.6 3008.7 M 1743.5 3014.5 L 1749.3 3014.5 M 1746.4 3011.6 L 1746.4 3017.4" fill="none" stroke="#000" stroke-width="1.8" stroke-linejoin="round" stroke-linecap="round" />
<path d="M 3298.0 2489.0 L 3266.0 2507.0 Q 3235.0 2525.0 3221.0 2540.0 Q 3203.0 2560.0 3198.0 2573.0 L 3191.0 2606.0 L 3174.0 2682.0 Q 3165.0 2715.0 3149.0 2737.0 Q 3132.0 2765.0 3110.0 2783.0 Q 3085.0 2805.0 3049.0 2824.0 L 2981.0 2850.0 L 2919.0 2880.0 Q 2885.0 2905.0 2855.0 2916.0 Q 2820.0 2928.0 2781.0 2935.0 L 2700.0 2945.0 L 2480.0 2965.0 Q 2440.0 2975.0 2414.0 2985.0 L 2298.0 3031.0 L 2265.0 3039.0 Q 2215.0 3052.0 2182.0 3070.0 L 2076.0 3145.0 L 1911.0 3252.0 L 1745.0 3335.0 L 1596.0 3410.0 L 1560.0 3428.0" fill="none" stroke="#000" stroke-width="38.5" stroke-linejoin="round" stroke-linecap="butt"/>
<path d="M 3298.0 2489.0 L 3266.0 2507.0 Q 3235.0 2525.0 3221.0 2540.0 Q 3203.0 2560.0 3198.0 2573.0 L 3191.0 2606.0 L 3174.0 2682.0 Q 3165.0 2715.0 3149.0 2737.0 Q 3132.0 2765.0 3110.0 2783.0 Q 3085.0 2805.0 3049.0 2824.0 L 2981.0 2850.0 L 2919.0 2880.0 Q 2885.0 2905.0 2855.0 2916.0 Q 2820.0 2928.0 2781.0 2935.0 L 2700.0 2945.0 L 2480.0 2965.0 Q 2440.0 2975.0 2414.0 2985.0 L 2298.0 3031.0 L 2265.0 3039.0 Q 2215.0 3052.0 2182.0 3070.0 L 2076.0 3145.0 L 1911.0 3252.0 L 1745.0 3335.0 L 1596.0 3410.0 L 1560.0 3428.0" fill="none" stroke="#fff" stroke-width="30" stroke-linejoin="round" stroke-linecap="butt"/>
<path d="M 1464.3 3052.5 Q 1451.9 3096.0 1442.5 3136.3 L 1382.9 3322.7 L 1348.8 3446.9 L 1319.9 3550.0" fill="none" stroke="#000" stroke-width="36" stroke-linejoin="round" stroke-linecap="butt"/>
<path d="M 1464.3 3052.5 Q 1451.9 3096.0 1442.5 3136.3 L 1382.9 3322.7 L 1348.8 3446.9 L 1319.9 3550.0" fill="none" stroke="#fff" stroke-width="30.5" stroke-linejoin="round" stroke-linecap="butt"/>
<path d="M 1455.0 3052.5 L 1434.8 3148.8 L 1375.8 3322.7 L 1341.6 3446.9 L 1313.7 3550.0 M 1467.4 3057.1 Q 1455.0 3099.1 1450.3 3136.3 L 1389.8 3322.7 L 1355.6 3446.9 L 1327.0 3550.0 M 1479.8 3058.7 Q 1464.3 3096.0 1464.3 3123.9 L 1448.8 3167.4 M 1436.3 3223.3 L 1423.9 3260.6" fill="none" stroke="#000" stroke-width="2.2" stroke-linejoin="round" stroke-linecap="round" />
<path d="M 1425.5 3151.9 Q 1405.3 3127.0 1388.2 3144.1 Q 1377.3 3167.4 1386.6 3198.4 Q 1396.0 3220.2 1408.4 3231.1" fill="none" stroke="#000" stroke-width="13" stroke-linejoin="round" stroke-linecap="butt"/>
<path d="M 1425.5 3151.9 Q 1405.3 3127.0 1388.2 3144.1 Q 1377.3 3167.4 1386.6 3198.4 Q 1396.0 3220.2 1408.4 3231.1" fill="none" stroke="#fff" stroke-width="7.5" stroke-linejoin="round" stroke-linecap="butt"/>
<path d="M 1405.3 3164.3 Q 1417.7 3158.1 1427.0 3173.6 L 1455.0 3263.7" fill="none" stroke="#000" stroke-width="11" stroke-linejoin="round" stroke-linecap="butt"/>
<path d="M 1405.3 3164.3 Q 1417.7 3158.1 1427.0 3173.6 L 1455.0 3263.7" fill="none" stroke="#fff" stroke-width="6" stroke-linejoin="round" stroke-linecap="butt"/>
<path d="M 1448.8 3263.7 L 1467.4 3259.0 L 1478.3 3294.7 L 1472.0 3302.5 Q 1489.1 3319.6 1481.4 3338.2 Q 1472.0 3350.6 1459.6 3342.9 Q 1448.8 3325.8 1456.5 3307.1 Z" fill="#fff" stroke="#000" stroke-width="4.5" stroke-linejoin="round" stroke-linecap="round" />
<ellipse cx="1467.4" cy="3328.3" rx="6.21" ry="8.07" fill="none" stroke="#000" stroke-width="2.4" />
<path d="M 1456.5 3307.1 L 1472.0 3302.5" fill="none" stroke="#000" stroke-width="2.2" stroke-linejoin="round" stroke-linecap="round" />
<path d="M 1372.7 3241.9 L 1380.4 3234.2 L 1405.3 3231.1 L 1411.5 3226.4 L 1425.5 3229.5 L 1427.0 3240.4 L 1448.8 3237.3 L 1448.8 3248.1 L 1405.3 3260.6 L 1396.0 3263.7 L 1374.2 3252.8 Z" fill="#fff" stroke="#000" stroke-width="4.5" stroke-linejoin="round" stroke-linecap="round" />
<path d="M 1380.4 3234.2 L 1388.2 3243.5 L 1374.2 3252.8 M 1388.2 3243.5 L 1405.3 3240.4 L 1411.5 3226.4 M 1405.3 3240.4 L 1425.5 3243.5 L 1427.0 3240.4 M 1396.0 3263.7 L 1399.1 3249.7" fill="none" stroke="#000" stroke-width="2.2" stroke-linejoin="round" stroke-linecap="round" />
<path d="M 1402.2 3263.7 L 1419.3 3260.6 L 1430.1 3288.5 Q 1436.3 3310.2 1423.9 3319.6 Q 1408.4 3324.2 1402.2 3310.2 Q 1398.4 3297.8 1405.3 3285.4 Z" fill="#fff" stroke="#000" stroke-width="4.5" stroke-linejoin="round" stroke-linecap="round" />
<ellipse cx="1414.0" cy="3300.3" rx="6.83" ry="8.7" fill="none" stroke="#000" stroke-width="2.4" />
<path d="M 1287.3 3355.3 Q 1288.8 3347.5 1302.8 3346.9 L 1316.8 3349.1 Q 1319.9 3342.9 1329.2 3341.9 Q 1337.0 3344.4 1335.4 3352.2 Q 1330.7 3357.5 1323.0 3356.8 Q 1319.9 3364.6 1305.9 3365.5 Q 1291.9 3364.6 1287.3 3355.3 Z" fill="#fff" stroke="#000" stroke-width="4.5" stroke-linejoin="round" stroke-linecap="round" />
<ellipse cx="1307.5" cy="3356.2" rx="8.7" ry="3.73" fill="none" stroke="#000" stroke-width="2.4" transform="rotate(8 1307.5 3356.2)" />
<path d="M 1333.9 3316.5 L 1357.1 3341.3 L 1423.9 3384.8 L 1448.8 3369.3 L 1473.6 3363.0 L 1486.0 3350.6 M 1335.4 3327.3 L 1355.6 3350.6 L 1423.9 3394.1 L 1451.9 3378.6 L 1476.7 3370.8 M 1352.5 3316.5 L 1368.0 3314.9 M 1337.0 3353.7 L 1355.6 3350.6" fill="none" stroke="#000" stroke-width="3.4" stroke-linejoin="round" stroke-linecap="round" />
<path d="M 1278.0 3316.5 L 1405.3 3300.9" fill="none" stroke="#333" stroke-width="1.3" stroke-dasharray="17 5"/>
<path d="M 1460.6 3425.2 L 1487.6 3321.1 L 1546.6 3311.8 L 1573.0 3327.3 L 1574.5 3322.7 L 1587.0 3330.4 L 1602.5 3342.9 L 1583.9 3434.5 L 1602.5 3446.9 L 1600.9 3459.3 L 1579.2 3471.7 L 1543.5 3474.8 L 1520.2 3457.8 L 1514.0 3459.3 Z" fill="#fff" stroke="#000" stroke-width="5" stroke-linejoin="round" stroke-linecap="round" />
<path d="M 1487.6 3321.1 L 1529.5 3342.9 L 1546.6 3311.8 M 1529.5 3342.9 L 1514.0 3459.3 M 1529.5 3342.9 L 1602.5 3342.9 M 1481.4 3415.8 L 1503.1 3330.4 L 1509.3 3333.5 L 1489.1 3420.5 Z M 1520.2 3457.8 L 1543.5 3446.9 L 1583.9 3434.5 M 1543.5 3446.9 L 1543.5 3474.8" fill="none" stroke="#000" stroke-width="2.4" stroke-linejoin="round" stroke-linecap="round" />
<ellipse cx="1560.6" cy="3453.1" rx="9.94" ry="4.35" fill="none" stroke="#000" stroke-width="2.4" transform="rotate(5 1560.6 3453.1)" />
<path d="M 1547.8 3360.2 L 1551.6 3360.2 L 1551.6 3368.9 L 1547.8 3368.9 Z" fill="#000" stroke="#000" stroke-width="1.8" stroke-linejoin="round" stroke-linecap="round" />
<path d="M 1568.0 3355.6 L 1571.7 3355.6 L 1571.7 3364.3 L 1568.0 3364.3 Z" fill="#000" stroke="#000" stroke-width="1.8" stroke-linejoin="round" stroke-linecap="round" />
<path d="M 1582.0 3355.6 L 1585.7 3355.6 L 1585.7 3364.3 L 1582.0 3364.3 Z" fill="#000" stroke="#000" stroke-width="1.8" stroke-linejoin="round" stroke-linecap="round" />
<path d="M 1541.6 3388.2 L 1545.3 3388.2 L 1545.3 3396.9 L 1541.6 3396.9 Z" fill="#000" stroke="#000" stroke-width="1.8" stroke-linejoin="round" stroke-linecap="round" />
<path d="M 1558.7 3383.5 L 1562.4 3383.5 L 1562.4 3392.2 L 1558.7 3392.2 Z" fill="#000" stroke="#000" stroke-width="1.8" stroke-linejoin="round" stroke-linecap="round" />
<path d="M 1577.3 3380.4 L 1581.1 3380.4 L 1581.1 3389.1 L 1577.3 3389.1 Z" fill="#000" stroke="#000" stroke-width="1.8" stroke-linejoin="round" stroke-linecap="round" />
<path d="M 1535.4 3411.5 L 1539.1 3411.5 L 1539.1 3420.2 L 1535.4 3420.2 Z" fill="#000" stroke="#000" stroke-width="1.8" stroke-linejoin="round" stroke-linecap="round" />
<path d="M 1552.5 3405.3 L 1556.2 3405.3 L 1556.2 3414.0 L 1552.5 3414.0 Z" fill="#000" stroke="#000" stroke-width="1.8" stroke-linejoin="round" stroke-linecap="round" />
<path d="M 1568.0 3405.3 L 1571.7 3405.3 L 1571.7 3414.0 L 1568.0 3414.0 Z" fill="#000" stroke="#000" stroke-width="1.8" stroke-linejoin="round" stroke-linecap="round" />
<path d="M 1380.4 3415.8 L 1396.0 3409.6 Q 1399.1 3397.2 1414.6 3397.2 Q 1428.6 3400.3 1428.6 3415.8 L 1436.3 3415.8 L 1444.1 3436.0 L 1423.9 3443.8 L 1419.3 3462.4 L 1405.3 3465.5 L 1394.4 3459.3 L 1396.0 3440.7 Z" fill="#fff" stroke="#000" stroke-width="2.4" stroke-linejoin="round" stroke-linecap="round" />
<ellipse cx="1413.0" cy="3415.8" rx="11.8" ry="14.29" fill="none" stroke="#000" stroke-width="2.4" />
<ellipse cx="1414.0" cy="3415.8" rx="7.45" ry="9.94" fill="none" stroke="#000" stroke-width="2" />
<path d="M 1396.0 3440.7 L 1423.9 3443.8 M 1399.1 3446.9 L 1397.5 3459.3 M 1408.4 3446.9 L 1406.8 3464.0 M 1416.1 3446.9 L 1417.7 3462.4" fill="none" stroke="#000" stroke-width="2" stroke-linejoin="round" stroke-linecap="round" />
<ellipse cx="1646.9" cy="3158.1" rx="90.68" ry="90.68" fill="#fff" stroke="#000" stroke-width="1.8" />
<path d="M 1495.3 3057.1 Q 1517.1 3096.0 1562.1 3109.0 Q 1569.9 3105.3 1576.1 3098.4 M 1493.8 3061.8 Q 1507.8 3102.2 1535.7 3127.0 Q 1548.1 3133.2 1557.5 3136.3" fill="none" stroke="#000" stroke-width="1.8" stroke-linejoin="round" stroke-linecap="round" />
<text x="1597.4" y="3144.6" font-size="83" text-anchor="start" >26</text>
<path d="M 1645.0 3156.5 L 1645.0 3182.9" fill="none" stroke="#000" stroke-width="3" stroke-linejoin="round" stroke-linecap="round" />
<rect x="1590.7" y="3185.1" width="111.18" height="39.75" rx="4" fill="#fff" stroke="#000" stroke-width="2"/>
<text x="1607.1" y="3219.6" font-size="40" textLength="83.85" lengthAdjust="spacingAndGlyphs">10A</text>
<rect x="1492.2" y="3223.3" width="80.75" height="80.12" rx="10" ry="10" fill="#fff" stroke="#000" stroke-width="5"/>
<text x="1532.575" y="3290.0" font-size="74" text-anchor="middle">D</text>
<rect x="1178.3" y="3268.6" width="79.92" height="79.92" rx="10" ry="10" fill="#fff" stroke="#000" stroke-width="5"/>
<text x="1218.26" y="3335.2" font-size="74" text-anchor="middle">B</text>
<text x="1229.8" y="3434.8" font-size="83" text-anchor="start" >2</text>
<line x1="1278.9" y1="3409.4" x2="1390.7" y2="3409.4" stroke="#000" stroke-width="4.8" stroke-linecap="round"/>
<text x="933.8" y="3554.8" font-size="83" text-anchor="start" >31</text>
<line x1="1013.9" y1="3492.2" x2="1125.7" y2="3428.1" stroke="#000" stroke-width="4.8" stroke-linecap="round"/>
<text x="1596.3" y="3739.1" font-size="83" text-anchor="start" >19</text>
<line x1="1508.7" y1="3622.7" x2="1601.9" y2="3676.5" stroke="#000" stroke-width="4.8" stroke-linecap="round"/>
<text x="1173.1" y="3950.3" font-size="83" text-anchor="start" >2</text>
<line x1="1080.1" y1="3840.1" x2="1173.3" y2="3891.8" stroke="#000" stroke-width="4.8" stroke-linecap="round"/>
<path d="M 1177.4 3430.1 L 1274.7 3481.9" fill="none" stroke="#333" stroke-width="1.3" stroke-dasharray="17 5"/>
<path d="M 1370.0 3653.7 L 1409.3 3628.9" fill="none" stroke="#333" stroke-width="1.3" stroke-dasharray="17 5"/>
<path d="M 1521.1 3459.1 L 1355.5 3508.8 L 1307.9 3521.2 L 1243.7 3556.4 L 1165.0 3602.0 Q 1107.0 3624.7 1040.8 3639.2 L 1007.7 3643.4 Q 974.5 3659.9 972.5 3684.8 Q 974.5 3703.4 995.2 3707.6 L 1024.2 3708.8 Q 1065.6 3726.2 1148.4 3735.3 Q 1189.9 3736.5 1214.7 3726.2 Q 1256.1 3701.3 1276.8 3664.1 Q 1293.4 3635.1 1338.9 3550.2 L 1521.1 3463.3 Z" fill="#fff" stroke="#000" stroke-width="5" stroke-linejoin="round" stroke-linecap="round" />
<path d="M 1036.6 3643.4 L 1044.9 3657.9 Q 1115.3 3649.6 1189.9 3684.8 L 1214.7 3701.3 M 993.2 3680.6 Q 1036.6 3668.2 1098.8 3672.4 Q 1156.7 3680.6 1198.1 3705.5 M 1040.8 3639.2 Q 1115.3 3635.1 1169.2 3647.5 L 1223.0 3693.1 M 1131.9 3647.5 L 1243.7 3581.3 L 1307.9 3521.2 M 1165.0 3709.6 Q 1198.1 3701.3 1223.0 3695.1" fill="none" stroke="#000" stroke-width="2.2" stroke-linejoin="round" stroke-linecap="round" />
<path d="M 1266.5 3519.2 Q 1252.0 3564.7 1235.4 3606.1 Q 1220.9 3643.4 1231.3 3664.1 Q 1239.5 3676.5 1252.0 3682.7" fill="none" stroke="#000" stroke-width="22" stroke-linejoin="round" stroke-linecap="butt"/>
<path d="M 1266.5 3519.2 Q 1252.0 3564.7 1235.4 3606.1 Q 1220.9 3643.4 1231.3 3664.1 Q 1239.5 3676.5 1252.0 3682.7" fill="none" stroke="#fff" stroke-width="16" stroke-linejoin="round" stroke-linecap="butt"/>
<path d="M 1272.7 3481.9 Q 1281.0 3471.5 1293.4 3475.7 Q 1305.8 3481.9 1303.7 3498.4 L 1297.5 3515.0 Q 1289.2 3525.4 1274.7 3521.2 L 1264.4 3526.6 L 1259.4 3515.0 Q 1264.4 3498.4 1272.7 3481.9 Z" fill="#fff" stroke="#000" stroke-width="4.5" stroke-linejoin="round" stroke-linecap="round" />
<ellipse cx="1288.0" cy="3495.1" rx="5.38" ry="8.28" fill="none" stroke="#000" stroke-width="2.2" transform="rotate(20 1288.0 3495.1)" />
<path d="M 1260.2 3539.9 L 1274.7 3546.1" fill="none" stroke="#000" stroke-width="2.2" stroke-linejoin="round" stroke-linecap="round" />
<path d="M 1313.6 3604.7 Q 1303.2 3639.9 1274.2 3664.7 Q 1243.2 3689.5 1220.4 3709.2" fill="none" stroke="#000" stroke-width="35" stroke-linejoin="round" stroke-linecap="butt"/>
<path d="M 1313.6 3604.7 Q 1303.2 3639.9 1274.2 3664.7 Q 1243.2 3689.5 1220.4 3709.2" fill="none" stroke="#fff" stroke-width="28.5" stroke-linejoin="round" stroke-linecap="butt"/>
<path d="M 1367.8 3347.9 L 1350.4 3432.8 L 1332.2 3515.6 L 1313.6 3601.6" fill="none" stroke="#000" stroke-width="36" stroke-linejoin="round" stroke-linecap="butt"/>
<path d="M 1367.8 3347.9 L 1350.4 3432.8 L 1332.2 3515.6 L 1313.6 3601.6" fill="none" stroke="#fff" stroke-width="30.5" stroke-linejoin="round" stroke-linecap="butt"/>
<path d="M 1362.2 3347.9 L 1344.6 3432.8 L 1326.4 3515.6 L 1308.4 3598.4 M 1372.6 3347.9 L 1355.0 3432.8 L 1337.4 3515.6 L 1318.7 3600.5" fill="none" stroke="#000" stroke-width="2.2" stroke-linejoin="round" stroke-linecap="round" />
<ellipse cx="1313.6" cy="3602.2" rx="18.63" ry="4.97" fill="#fff" stroke="#000" stroke-width="3" transform="rotate(-12 1313.6 3602.2)" />
<path d="M 1283.0 3672.4 L 1334.8 3624.7 L 1357.6 3641.3 L 1355.5 3657.9 L 1370.0 3666.1 L 1367.9 3688.9 L 1314.1 3722.0 L 1297.5 3713.8 L 1283.0 3697.2 Z" fill="#fff" stroke="#000" stroke-width="5" stroke-linejoin="round" stroke-linecap="round" />
<path d="M 1334.8 3624.7 L 1338.9 3643.4 L 1289.2 3684.8 L 1283.0 3672.4 M 1338.9 3643.4 L 1355.5 3657.9 M 1289.2 3684.8 L 1314.1 3699.3 L 1367.9 3666.1 M 1314.1 3699.3 L 1314.1 3722.0 M 1287.2 3688.9 L 1293.4 3705.5 L 1309.9 3709.6 M 1272.7 3695.1 L 1297.5 3703.4" fill="none" stroke="#000" stroke-width="2.2" stroke-linejoin="round" stroke-linecap="round" />
<path d="M 1399.0 3585.4 L 1469.4 3523.3 L 1496.3 3519.2 L 1504.6 3500.5 L 1512.8 3504.7 L 1546.0 3523.3 L 1556.3 3519.2 L 1562.5 3527.4 L 1558.4 3539.9 L 1554.2 3589.5 L 1454.9 3649.6 L 1403.1 3618.5 Z" fill="#fff" stroke="#000" stroke-width="5" stroke-linejoin="round" stroke-linecap="round" />
<path d="M 1399.0 3585.4 L 1454.9 3614.4 L 1454.9 3649.6 M 1454.9 3614.4 L 1554.2 3556.4 M 1496.3 3519.2 L 1508.7 3527.4 L 1504.6 3500.5 M 1508.7 3527.4 L 1546.0 3548.1 L 1546.0 3523.3 M 1496.3 3591.6 L 1510.8 3585.4 L 1510.8 3612.3 L 1496.3 3618.5 Z M 1508.7 3581.3 L 1550.1 3548.1 M 1488.0 3535.7 L 1512.8 3531.6 M 1517.0 3552.3 L 1537.7 3546.1" fill="none" stroke="#000" stroke-width="2.2" stroke-linejoin="round" stroke-linecap="round" />
<ellipse cx="1555.5" cy="3528.3" rx="5.8" ry="7.45" fill="none" stroke="#000" stroke-width="3" />
<path d="M 1115.3 3405.3 L 1121.5 3392.9 L 1131.9 3388.7 L 1148.4 3392.9 L 1152.6 3405.3 L 1165.0 3409.4 Q 1174.1 3413.6 1173.3 3423.9 Q 1171.2 3432.2 1162.9 3432.2 L 1144.3 3426.0 L 1138.1 3428.9 L 1125.7 3426.0 L 1117.4 3417.7 Z" fill="#fff" stroke="#000" stroke-width="2.6" stroke-linejoin="round" stroke-linecap="round" />
<path d="M 1121.5 3392.9 L 1125.7 3409.4 L 1117.4 3417.7 M 1125.7 3409.4 L 1138.1 3413.6 L 1148.4 3392.9 M 1138.1 3413.6 L 1138.1 3428.9 M 1147.6 3401.1 Q 1154.7 3413.6 1145.1 3426.0 M 1156.7 3407.3 L 1153.4 3428.9 M 1164.2 3410.7 Q 1160.9 3420.6 1165.0 3431.4" fill="none" stroke="#000" stroke-width="2" stroke-linejoin="round" stroke-linecap="round" />
<ellipse cx="1059.4" cy="3829.7" rx="19.05" ry="33.95" fill="#fff" stroke="#000" stroke-width="2.4" transform="rotate(8 1059.4 3829.7)" />
<ellipse cx="1060.7" cy="3829.7" rx="14.08" ry="28.16" fill="none" stroke="#000" stroke-width="2" transform="rotate(8 1060.7 3829.7)" />
<path d="M 1013.9 3869.0 L 1032.5 3852.5 L 1084.3 3867.0 L 1065.6 3883.5 Z" fill="#fff" stroke="#000" stroke-width="2.4" stroke-linejoin="round" stroke-linecap="round" />
<path d="M 1032.5 3852.5 L 1032.5 3871.1 L 1059.4 3877.3 L 1059.4 3858.7 M 1059.4 3877.3 L 1067.7 3871.1 M 1032.5 3883.5 L 1042.9 3906.3 L 1055.3 3904.2 L 1063.6 3883.5 M 1040.8 3885.6 L 1045.8 3904.2 M 1051.1 3886.9 L 1049.9 3903.4" fill="none" stroke="#000" stroke-width="2.2" stroke-linejoin="round" stroke-linecap="round" />
<text x="1122.3" y="2693.0" font-size="83" text-anchor="start" >3</text>
<line x1="1172.4" y1="2697.2" x2="1264.0" y2="2748.4" stroke="#000" stroke-width="4.8" stroke-linecap="round"/>
<text x="1395.6" y="2641.8" font-size="83" text-anchor="start" >3</text>
<line x1="1405.3" y1="2646.0" x2="1405.3" y2="2739.1" stroke="#000" stroke-width="4.8" stroke-linecap="round"/>
<text x="1185.9" y="2969.4" font-size="83" text-anchor="start" >2</text>
<line x1="1234.5" y1="2975.2" x2="1329.2" y2="3028.0" stroke="#000" stroke-width="4.8" stroke-linecap="round"/>
<path d="M 1305.9 2798.1 L 1304.3 2829.2 L 1509.3 2941.0 L 1503.1 2965.8" fill="none" stroke="#333" stroke-width="1.3" stroke-dasharray="17 5"/>
<path d="M 1383.5 2819.9 L 1375.8 2850.9 L 1496.9 2931.7 L 1489.1 2972.0" fill="none" stroke="#333" stroke-width="1.3" stroke-dasharray="17 5"/>
<path d="M 1302.8 2770.2 L 1293.5 2793.5 L 1302.8 2798.8 L 1310.6 2778.0 M 1326.1 2782.6 L 1316.8 2807.5 L 1326.1 2813.0 L 1337.0 2787.3" fill="#fff" stroke="#000" stroke-width="4" stroke-linejoin="round" stroke-linecap="round" />
<path d="M 1298.1 2767.1 L 1310.6 2745.3 L 1350.9 2764.0 L 1340.1 2787.3 Z" fill="#fff" stroke="#000" stroke-width="4.5" stroke-linejoin="round" stroke-linecap="round" />
<path d="M 1302.8 2759.3 L 1344.7 2778.0 M 1313.7 2779.5 L 1310.6 2788.8 L 1323.0 2793.5" fill="none" stroke="#000" stroke-width="2" stroke-linejoin="round" stroke-linecap="round" />
<path d="M 1372.7 2796.6 L 1363.4 2819.9 L 1372.7 2825.2 L 1380.4 2804.3 M 1396.0 2809.0 L 1386.6 2833.9 L 1396.0 2839.4 L 1406.8 2813.7" fill="#fff" stroke="#000" stroke-width="4" stroke-linejoin="round" stroke-linecap="round" />
<path d="M 1368.0 2793.5 L 1380.4 2771.7 L 1420.8 2790.4 L 1409.9 2813.7 Z" fill="#fff" stroke="#000" stroke-width="4.5" stroke-linejoin="round" stroke-linecap="round" />
<path d="M 1372.7 2785.7 L 1414.6 2804.3 M 1383.5 2805.9 L 1380.4 2815.2 L 1392.9 2819.9" fill="none" stroke="#000" stroke-width="2" stroke-linejoin="round" stroke-linecap="round" />
<path d="M 1340.1 3028.0 L 1347.8 3017.1 L 1372.7 3015.5 L 1377.3 3028.0 L 1375.8 3046.6 L 1350.9 3051.2 L 1341.6 3043.5 Z" fill="#fff" stroke="#000" stroke-width="2.4" stroke-linejoin="round" stroke-linecap="round" />
<path d="M 1347.8 3017.1 L 1352.5 3028.0 L 1341.6 3043.5 M 1352.5 3028.0 L 1377.3 3028.0 M 1357.1 3028.0 L 1355.6 3049.7 M 1366.5 3028.0 L 1366.5 3048.1" fill="none" stroke="#000" stroke-width="2" stroke-linejoin="round" stroke-linecap="round" />
<path d="M 1377.3 3024.8 L 1388.2 3009.3 L 1392.9 3012.4 L 1388.2 3077.6 L 1383.5 3083.9 L 1377.3 3077.6 Z" fill="#fff" stroke="#000" stroke-width="2.4" stroke-linejoin="round" stroke-linecap="round" />
<ellipse cx="1400.6" cy="3055.9" rx="17.08" ry="13.04" fill="#fff" stroke="#000" stroke-width="2.4" />
<ellipse cx="1400.6" cy="3055.9" rx="11.8" ry="8.39" fill="none" stroke="#000" stroke-width="2" />
<path d="M 1389.8 3040.4 L 1403.7 3034.2 L 1416.1 3038.8 L 1414.6 3049.7 M 1392.9 3062.1 L 1392.9 3046.6 L 1403.7 3041.9" fill="none" stroke="#000" stroke-width="2.2" stroke-linejoin="round" stroke-linecap="round" />
<text x="1326.6" y="2441.5" font-size="83" text-anchor="start" >8</text>
<line x1="1356.0" y1="2446.2" x2="1449.2" y2="2503.1" stroke="#000" stroke-width="4.8" stroke-linecap="round"/>
<path d="M 1442.4 2573.0 Q 1439.9 2557.5 1455.4 2552.3 L 1458.0 2513.5 Q 1465.7 2495.3 1512.3 2491.2 Q 1564.1 2495.3 1571.8 2516.0 L 1571.8 2554.9 Q 1584.8 2562.6 1582.2 2578.2 L 1574.4 2604.0 Q 1543.4 2629.9 1507.1 2627.3 Q 1460.6 2619.6 1442.4 2588.5 Z" fill="#fff" stroke="#000" stroke-width="4.5" stroke-linejoin="round" stroke-linecap="round" />
<ellipse cx="1514.9" cy="2516.0" rx="56.94" ry="23.81" fill="none" stroke="#000" stroke-width="2.4" transform="rotate(5 1514.9 2516.0)" />
<ellipse cx="1523.7" cy="2515.0" rx="8.28" ry="3.62" fill="none" stroke="#000" stroke-width="2.2" />
<path d="M 1455.4 2552.3 Q 1512.3 2588.5 1571.8 2554.9 M 1444.0 2578.2 Q 1507.1 2624.7 1580.6 2580.7" fill="none" stroke="#000" stroke-width="2.4" stroke-linejoin="round" stroke-linecap="round" />
<path d="M 1543.4 2629.9 L 1570.3 2676.5" fill="none" stroke="#333" stroke-width="1.3" stroke-dasharray="17 5"/>
<text x="965.0" y="3265.3" font-size="83" text-anchor="start" >39</text>
<line x1="1058.0" y1="3198.6" x2="1157.3" y2="3144.7" stroke="#000" stroke-width="4.8" stroke-linecap="round"/>
<path d="M 1256.7 3105.0 Q 1231.9 3082.6 1190.5 3085.1 Q 1157.3 3095.0 1157.3 3119.9 Q 1165.6 3144.7 1198.8 3154.7 M 1273.3 3115.7 Q 1281.6 3136.4 1263.4 3153.0" fill="none" stroke="#000" stroke-width="7.5" stroke-linejoin="round" stroke-linecap="round"/>
<path d="M 1256.7 3105.0 Q 1231.9 3082.6 1190.5 3085.1 Q 1157.3 3095.0 1157.3 3119.9 Q 1165.6 3144.7 1198.8 3154.7 M 1273.3 3115.7 Q 1281.6 3136.4 1263.4 3153.0" fill="none" stroke="#fff" stroke-width="2.2" stroke-linejoin="round" stroke-linecap="round"/>
<rect x="3681.8" y="2143.5" width="79.92" height="79.92" rx="10" ry="10" fill="#fff" stroke="#000" stroke-width="5"/>
<text x="3721.76" y="2210.1" font-size="74" text-anchor="middle">A</text>
<text x="3581.0" y="2564.3" font-size="83" text-anchor="start" >40</text>
<line x1="3507.9" y1="2452.8" x2="3601.0" y2="2505.0" stroke="#000" stroke-width="4.8" stroke-linecap="round"/>
<path d="M 3570.0 2276.0 L 3650.7 2231.7" fill="none" stroke="#333" stroke-width="1.3" stroke-dasharray="17 5"/>
<path d="M 3307.0 2547.2 L 3478.9 2449.9" fill="none" stroke="#333" stroke-width="1.3" stroke-dasharray="17 5"/>
<path d="M 3352.6 2491.3 L 3389.9 2493.4 Q 3443.7 2509.9 3485.1 2547.2 Q 3497.5 2559.6 3499.6 2576.2 M 3365.0 2518.2 Q 3423.0 2518.2 3464.4 2551.3 Q 3472.7 2563.8 3472.7 2576.2" fill="none" stroke="#000" stroke-width="2.2" stroke-linejoin="round" stroke-linecap="round" />
<path d="M 3414.7 2385.7 Q 3431.3 2356.7 3460.2 2342.2 Q 3485.1 2331.9 3509.9 2326.9" fill="none" stroke="#000" stroke-width="22" stroke-linejoin="round" stroke-linecap="butt"/>
<path d="M 3414.7 2385.7 Q 3431.3 2356.7 3460.2 2342.2 Q 3485.1 2331.9 3509.9 2326.9" fill="none" stroke="#fff" stroke-width="16" stroke-linejoin="round" stroke-linecap="butt"/>
<path d="M 3412.6 2381.6 Q 3431.3 2352.6 3460.2 2338.1 L 3507.9 2323.6 M 3418.8 2389.9 Q 3435.4 2362.9 3464.4 2347.6 L 3512.0 2331.1" fill="none" stroke="#000" stroke-width="1.8" stroke-linejoin="round" stroke-linecap="round" />
<path d="M 3483.0 2296.7 L 3514.1 2278.1 L 3530.6 2273.9 L 3565.8 2294.6 L 3567.9 2315.3 L 3528.6 2347.6 L 3507.9 2336.0 L 3487.2 2319.5 Z" fill="#fff" stroke="#000" stroke-width="4.5" stroke-linejoin="round" stroke-linecap="round" />
<path d="M 3483.0 2296.7 L 3507.9 2311.2 L 3507.9 2336.0 M 3507.9 2311.2 L 3545.1 2286.3 L 3565.8 2294.6 M 3545.1 2286.3 L 3547.2 2309.1 L 3528.6 2347.6 M 3514.1 2278.1 L 3516.1 2292.5 L 3530.6 2288.4 L 3530.6 2273.9 M 3551.3 2298.8 L 3553.4 2319.5 M 3559.6 2294.6 L 3560.5 2314.5 M 3491.3 2302.9 L 3492.5 2319.5 M 3499.6 2307.0 L 3500.8 2325.7" fill="none" stroke="#000" stroke-width="2" stroke-linejoin="round" stroke-linecap="round" />
<path d="M 3356.7 2352.6 L 3400.2 2348.4 L 3402.3 2369.2 L 3416.8 2389.9 L 3418.8 2418.8 L 3385.7 2443.7 L 3365.0 2431.3 L 3358.8 2406.4 L 3350.5 2404.3 L 3350.5 2381.6 L 3356.7 2379.5 Z" fill="#fff" stroke="#000" stroke-width="4.5" stroke-linejoin="round" stroke-linecap="round" />
<path d="M 3356.7 2352.6 L 3365.0 2369.2 L 3402.3 2369.2 M 3365.0 2369.2 L 3365.0 2431.3 M 3371.2 2381.6 Q 3385.7 2369.2 3406.4 2381.6 L 3410.6 2418.8 Q 3389.9 2439.5 3373.3 2427.1 Z" fill="none" stroke="#000" stroke-width="2.2" stroke-linejoin="round" stroke-linecap="round" />
<ellipse cx="3378.3" cy="2386.5" rx="5.8" ry="5.8" fill="none" stroke="#000" stroke-width="2" />
<ellipse cx="3400.2" cy="2383.6" rx="5.8" ry="5.8" fill="none" stroke="#000" stroke-width="2" />
<ellipse cx="3381.6" cy="2406.4" rx="5.8" ry="5.8" fill="none" stroke="#000" stroke-width="2" />
<ellipse cx="3403.1" cy="2403.1" rx="5.8" ry="5.8" fill="none" stroke="#000" stroke-width="2" />
<ellipse cx="3384.9" cy="2425.1" rx="5.8" ry="5.8" fill="none" stroke="#000" stroke-width="2" />
<ellipse cx="3404.3" cy="2420.9" rx="5.8" ry="5.8" fill="none" stroke="#000" stroke-width="2" />
<path d="M 3298.8 2478.9 Q 3331.9 2456.1 3356.7 2423.0 M 3302.9 2485.1 Q 3340.2 2460.2 3365.0 2431.3 M 3307.0 2491.3 Q 3344.3 2468.5 3373.3 2437.5 M 3294.6 2472.7 Q 3327.7 2447.8 3352.6 2410.6 M 3348.4 2489.2 Q 3365.0 2456.1 3385.7 2443.7 M 3315.3 2518.2 Q 3348.4 2497.5 3365.0 2464.4 L 3381.6 2443.7" fill="none" stroke="#000" stroke-width="2" stroke-linejoin="round" stroke-linecap="round" />
<ellipse cx="3489.2" cy="2439.5" rx="13.25" ry="14.91" fill="#fff" stroke="#000" stroke-width="4" />
<ellipse cx="3488.4" cy="2440.4" rx="5.8" ry="7.04" fill="none" stroke="#000" stroke-width="2.2" />
<path d="M 3501.7 2439.5 L 3496.3 2440.0 M 3500.0 2446.6 L 3495.4 2444.5 M 3495.4 2451.6 L 3492.5 2447.4 M 3489.2 2453.6 L 3488.8 2448.7 M 3483.0 2451.6 L 3485.1 2447.4 M 3478.5 2446.6 L 3482.2 2444.5 M 3476.8 2439.5 L 3481.4 2440.0 M 3478.5 2432.5 L 3482.2 2435.4 M 3483.0 2427.5 L 3485.1 2432.5 M 3489.2 2425.5 L 3488.8 2431.3 M 3495.4 2427.5 L 3492.5 2432.5 M 3500.0 2432.5 L 3495.4 2435.4" fill="none" stroke="#000" stroke-width="1.8" stroke-linejoin="round" stroke-linecap="round" />
<path d="M 3296.7 2588.6 L 3302.1 2646.6 Q 3315.3 2659.8 3331.9 2658.2 L 3367.1 2648.7 L 3425.1 2625.9 Q 3456.1 2607.2 3474.7 2590.7 L 3497.5 2561.7 Q 3507.9 2549.3 3516.1 2552.2 L 3530.6 2576.2" fill="none" stroke="#000" stroke-width="22" stroke-linejoin="round" stroke-linecap="butt"/>
<path d="M 3296.7 2588.6 L 3302.1 2646.6 Q 3315.3 2659.8 3331.9 2658.2 L 3367.1 2648.7 L 3425.1 2625.9 Q 3456.1 2607.2 3474.7 2590.7 L 3497.5 2561.7 Q 3507.9 2549.3 3516.1 2552.2 L 3530.6 2576.2" fill="none" stroke="#fff" stroke-width="15" stroke-linejoin="round" stroke-linecap="butt"/>
<path d="M 3272.5 2546.4 Q 3273.6 2543.3 3278.8 2543.3 L 3303.6 2553.6 L 3304.6 2575.4 L 3299.5 2583.2 L 3283.9 2584.1 L 3272.5 2569.2 Z" fill="#fff" stroke="#000" stroke-width="4.5" stroke-linejoin="round" stroke-linecap="round" />
<ellipse cx="3287.0" cy="2561.9" rx="7.25" ry="8.7" fill="none" stroke="#000" stroke-width="2.4" transform="rotate(-25 3287.0 2561.9)" />
<ellipse cx="3287.0" cy="2561.9" rx="4.55" ry="5.8" fill="none" stroke="#000" stroke-width="2" transform="rotate(-25 3287.0 2561.9)" />
<path d="M 3281.9 2612.6 L 3302.6 2610.6 M 3212.5 2577.4 Q 3237.3 2576.4 3272.5 2565.0" fill="none" stroke="#000" stroke-width="3" stroke-linejoin="round" stroke-linecap="round" />
<path d="M 3522.4 2561.7 L 3545.1 2553.4 L 3570.0 2625.9 L 3563.8 2638.3 L 3538.9 2644.5 L 3526.5 2617.6 Z" fill="#fff" stroke="#000" stroke-width="4.5" stroke-linejoin="round" stroke-linecap="round" />
<ellipse cx="3549.3" cy="2623.8" rx="14.49" ry="7.45" fill="none" stroke="#000" stroke-width="2.4" transform="rotate(15 3549.3 2623.8)" />
<path d="M 2986.0 2856.0 L 2987.0 2911.0 Q 2990.0 2928.0 3026.0 2938.0 L 3063.0 2942.0 Q 3082.0 2948.0 3091.0 2957.0 L 3119.0 2988.0 L 3147.0 3025.0 Q 3160.0 3040.0 3197.0 3042.0" fill="none" stroke="#000" stroke-width="12.5" stroke-linejoin="round" stroke-linecap="butt"/>
<path d="M 2986.0 2856.0 L 2987.0 2911.0 Q 2990.0 2928.0 3026.0 2938.0 L 3063.0 2942.0 Q 3082.0 2948.0 3091.0 2957.0 L 3119.0 2988.0 L 3147.0 3025.0 Q 3160.0 3040.0 3197.0 3042.0" fill="none" stroke="#fff" stroke-width="7.5" stroke-linejoin="round" stroke-linecap="butt"/>
<path d="M 3246.4 3008.4 L 3329.4 3004.4 L 3333.3 3059.7 L 3250.4 3063.7 Z" fill="#fff" stroke="#000" stroke-width="4.5" stroke-linejoin="round" stroke-linecap="round" />
<path d="M 3246.4 3036.0 L 3333.3 3032.1 M 3285.9 3006.8 L 3289.9 3062.1" fill="none" stroke="#000" stroke-width="2.4" stroke-linejoin="round" stroke-linecap="round" />
<path d="M 3199.1 3024.2 L 3246.4 3016.3 M 3199.1 3032.1 L 3246.4 3047.9 M 3199.1 3028.1 Q 3222.7 3040.0 3246.4 3032.1" fill="none" stroke="#000" stroke-width="2.4" stroke-linejoin="round" stroke-linecap="round" />
<path d="M 3337.3 3038.4 L 3416.3 3041.5" fill="none" stroke="#333" stroke-width="1.3" stroke-dasharray="17 5"/>
<ellipse cx="3601.6" cy="3073.9" rx="204.97" ry="124.22" fill="none" stroke="#000" stroke-width="2.2" stroke-dasharray="11 5"/>
<ellipse cx="3598.4" cy="3086.3" rx="186.34" ry="111.8" fill="none" stroke="#000" stroke-width="2.2" stroke-dasharray="11 5"/>
<path d="M 3395.0 3098.8 C 3395.0 3194.3 3488.0 3226.1 3601.6 3226.1 C 3715.1 3226.1 3808.1 3194.3 3808.1 3098.8" fill="none" stroke="#000" stroke-width="2.2" stroke-linejoin="round" stroke-linecap="round" stroke-dasharray="11 5"/>
<path d="M 3394.1 3136.0 C 3394.1 3233.9 3487.5 3266.5 3601.6 3266.5 C 3715.7 3266.5 3809.0 3233.9 3809.0 3136.0" fill="none" stroke="#000" stroke-width="2.2" stroke-linejoin="round" stroke-linecap="round" stroke-dasharray="11 5"/>
<path d="M 3393.5 3173.3 C 3393.5 3273.4 3487.1 3306.8 3601.6 3306.8 C 3716.0 3306.8 3809.6 3273.4 3809.6 3173.3" fill="none" stroke="#000" stroke-width="2.2" stroke-linejoin="round" stroke-linecap="round" stroke-dasharray="11 5"/>
<path d="M 3393.5 3198.1 C 3393.5 3300.6 3487.1 3334.8 3601.6 3334.8 C 3716.0 3334.8 3809.6 3300.6 3809.6 3198.1" fill="none" stroke="#000" stroke-width="2.2" stroke-linejoin="round" stroke-linecap="round" stroke-dasharray="11 5"/>
<path d="M 3394.1 3223.0 C 3394.1 3326.6 3487.5 3361.2 3601.6 3361.2 C 3715.7 3361.2 3809.0 3326.6 3809.0 3223.0" fill="none" stroke="#000" stroke-width="2.2" stroke-linejoin="round" stroke-linecap="round" stroke-dasharray="11 5"/>
<path d="M 3395.0 3086.3 L 3393.5 3235.4 M 3806.5 3086.3 L 3809.6 3241.6" fill="none" stroke="#000" stroke-width="2.2" stroke-linejoin="round" stroke-linecap="round" stroke-dasharray="11 5"/>
<ellipse cx="3614.0" cy="3061.5" rx="93.17" ry="57.45" fill="none" stroke="#000" stroke-width="2.2" stroke-dasharray="11 5"/>
<ellipse cx="3614.0" cy="3063.0" rx="79.19" ry="46.58" fill="none" stroke="#000" stroke-width="2.2" stroke-dasharray="11 5"/>
<ellipse cx="3610.9" cy="3064.6" rx="62.11" ry="34.78" fill="none" stroke="#000" stroke-width="2.2" stroke-dasharray="11 5"/>
<ellipse cx="3607.8" cy="3067.7" rx="43.48" ry="23.29" fill="none" stroke="#000" stroke-width="2.2" stroke-dasharray="11 5"/>
<path d="M 3573.6 3086.3 Q 3598.4 3073.9 3629.5 3080.1 M 3567.4 3092.5 Q 3604.7 3086.3 3641.9 3086.3" fill="none" stroke="#000" stroke-width="2.2" stroke-linejoin="round" stroke-linecap="round" stroke-dasharray="11 5"/>
<path d="M 3449.4 3092.5 L 3455.6 3105.0 L 3542.5 3114.3 L 3548.8 3101.9 M 3452.5 3098.8 L 3536.3 3107.5" fill="none" stroke="#000" stroke-width="2.2" stroke-linejoin="round" stroke-linecap="round" stroke-dasharray="11 5"/>
<path d="M 3859.3 3036.6 Q 3905.9 3073.9 3898.1 3136.0 Q 3884.2 3198.1 3815.8 3241.6 L 3812.7 3260.2 M 3797.2 3018.0 L 3834.5 3017.4 L 3843.8 3024.2 L 3843.8 3036.6 L 3809.6 3052.2" fill="none" stroke="#000" stroke-width="2.2" stroke-linejoin="round" stroke-linecap="round" stroke-dasharray="11 5"/>
<path d="M 3750.6 3219.9 Q 3763.0 3210.6 3778.6 3216.8 L 3794.1 3247.8 Q 3797.2 3263.4 3781.7 3266.5 L 3766.1 3263.4 M 3660.6 3254.0 L 3716.5 3247.8 L 3728.9 3257.1 L 3691.6 3263.4" fill="none" stroke="#000" stroke-width="2.2" stroke-linejoin="round" stroke-linecap="round" stroke-dasharray="11 5"/>
<path d="M 3822.0 3086.3 L 3828.3 3077.0 L 3843.8 3073.9 L 3854.7 3081.7 L 3856.2 3092.5 L 3846.9 3101.9 L 3829.8 3101.9 Z M 3822.0 3086.3 L 3834.5 3089.4 L 3846.9 3101.9 M 3834.5 3089.4 L 3854.7 3081.7" fill="none" stroke="#000" stroke-width="2" stroke-linejoin="round" stroke-linecap="round" />
<path d="M 3801.9 3173.3 L 3809.6 3164.0 L 3825.2 3161.5 L 3836.0 3168.6 L 3837.0 3179.5 L 3828.3 3188.8 L 3811.2 3188.8 Z M 3801.9 3173.3 L 3815.8 3177.0 L 3828.3 3188.8 M 3815.8 3177.0 L 3836.0 3168.6" fill="none" stroke="#000" stroke-width="2" stroke-linejoin="round" stroke-linecap="round" />
<ellipse cx="3874.8" cy="3122.0" rx="7.45" ry="4.35" fill="none" stroke="#000" stroke-width="2" />
<ellipse cx="3865.5" cy="3162.4" rx="7.45" ry="4.35" fill="none" stroke="#000" stroke-width="2" />
<ellipse cx="3800.3" cy="3199.7" rx="7.45" ry="4.35" fill="none" stroke="#000" stroke-width="2" />
<path d="M 3412.1 3046.0 L 3426.1 3018.0 L 3464.9 3016.5 L 3466.5 3010.2 L 3494.4 3009.3 L 3496.0 3033.5 L 3486.6 3073.9 L 3458.7 3073.9 L 3457.1 3058.4 L 3419.9 3053.7 Z M 3443.2 3036.6 L 3449.4 3036.6 L 3449.4 3049.1 L 3421.4 3050.6 L 3421.4 3041.3 L 3443.2 3039.8" fill="none" stroke="#000" stroke-width="2.2" stroke-linejoin="round" stroke-linecap="round" stroke-dasharray="11 5"/>
<path d="M 3496.0 3049.1 Q 3511.5 3055.3 3519.3 3067.7 M 3396.6 3086.3 Q 3399.7 3075.5 3418.3 3073.9" fill="none" stroke="#000" stroke-width="2" stroke-linejoin="round" stroke-linecap="round" />
<path d="M 2238.0 2942.1 L 2231.8 2942.6 Q 2218.3 2950.4 2216.2 2957.6 Q 2217.8 2977.3 2238.0 2994.9 Q 2247.3 3002.7 2254.5 3000.1 L 2268.0 2989.2 Q 2270.1 2983.5 2269.2 2978.3 L 2258.7 2984.6 L 2244.2 2976.3 L 2221.4 2964.9 L 2221.4 2961.8 L 2236.4 2951.4 Z" fill="#fff" stroke="#000" stroke-width="2.2" stroke-linejoin="round" stroke-linecap="round" />
<path d="M 2228.7 2955.1 Q 2221.4 2958.7 2221.9 2962.8 M 2221.9 2965.9 Q 2225.5 2982.5 2243.1 2993.9 M 2244.2 2994.9 Q 2251.4 2994.9 2252.5 2987.7 L 2252.5 2982.0 M 2219.3 2958.7 Q 2221.4 2952.5 2228.7 2950.4 L 2233.8 2951.4" fill="none" stroke="#000" stroke-width="2" stroke-linejoin="round" stroke-linecap="round" />
<path d="M 2220.9 2961.8 L 2237.5 2950.9 L 2250.4 2957.1 L 2258.7 2957.1 L 2268.5 2946.3 L 2270.1 2933.8 L 2288.2 2944.4 L 2288.2 2947.8 L 2276.8 2956.1 L 2277.3 2973.2 L 2269.5 2978.3 L 2258.7 2984.6 L 2258.7 2969.0 L 2251.4 2975.2 L 2244.7 2976.8 L 2244.7 2973.7 L 2220.9 2964.9 Z" fill="#fff" stroke="#000" stroke-width="2.2" stroke-linejoin="round" stroke-linecap="round" />
<path d="M 2244.7 2973.7 L 2288.2 2944.4 M 2244.7 2973.7 L 2251.4 2975.2 M 2258.7 2969.0 L 2259.7 2984.6 M 2276.8 2956.1 L 2258.7 2969.0" fill="none" stroke="#000" stroke-width="2" stroke-linejoin="round" stroke-linecap="round" />
<path d="M 2239.0 2946.3 L 2240.0 2926.1 L 2252.5 2916.7 L 2264.4 2923.5 L 2267.0 2933.8 L 2269.0 2944.2 L 2262.8 2954.5 L 2257.6 2957.1 L 2250.4 2956.6 Z" fill="#fff" stroke="#000" stroke-width="2.2" stroke-linejoin="round" stroke-linecap="round" />
<path d="M 2240.0 2926.1 L 2251.4 2931.8 L 2264.4 2923.5 M 2251.4 2931.8 L 2250.4 2956.6 M 2254.5 2935.9 L 2255.6 2954.5 M 2261.8 2930.7 L 2268.0 2945.2 M 2259.7 2931.8 L 2262.8 2954.5" fill="none" stroke="#000" stroke-width="2" stroke-linejoin="round" stroke-linecap="round" />
<path d="M 2523.7 2872.5 L 2517.5 2873.0 Q 2504.0 2880.8 2501.9 2888.0 Q 2503.5 2907.7 2523.7 2925.3 Q 2533.0 2933.1 2540.2 2930.5 L 2553.7 2919.6 Q 2555.8 2913.9 2554.9 2908.7 L 2544.4 2915.0 L 2529.9 2906.7 L 2507.1 2895.3 L 2507.1 2892.2 L 2522.1 2881.8 Z" fill="#fff" stroke="#000" stroke-width="2.2" stroke-linejoin="round" stroke-linecap="round" />
<path d="M 2514.4 2885.5 Q 2507.1 2889.1 2507.6 2893.2 M 2507.6 2896.3 Q 2511.2 2912.9 2528.8 2924.3 M 2529.9 2925.3 Q 2537.1 2925.3 2538.2 2918.1 L 2538.2 2912.4 M 2505.0 2889.1 Q 2507.1 2882.9 2514.4 2880.8 L 2519.5 2881.8" fill="none" stroke="#000" stroke-width="2" stroke-linejoin="round" stroke-linecap="round" />
<path d="M 2506.6 2892.2 L 2523.2 2881.3 L 2536.1 2887.5 L 2544.4 2887.5 L 2554.2 2876.7 L 2555.8 2864.2 L 2573.9 2874.8 L 2573.9 2878.2 L 2562.5 2886.5 L 2563.0 2903.6 L 2555.2 2908.7 L 2544.4 2915.0 L 2544.4 2899.4 L 2537.1 2905.6 L 2530.4 2907.2 L 2530.4 2904.1 L 2506.6 2895.3 Z" fill="#fff" stroke="#000" stroke-width="2.2" stroke-linejoin="round" stroke-linecap="round" />
<path d="M 2530.4 2904.1 L 2573.9 2874.8 M 2530.4 2904.1 L 2537.1 2905.6 M 2544.4 2899.4 L 2545.4 2915.0 M 2562.5 2886.5 L 2544.4 2899.4" fill="none" stroke="#000" stroke-width="2" stroke-linejoin="round" stroke-linecap="round" />
<path d="M 2524.7 2876.7 L 2525.7 2856.5 L 2538.2 2847.1 L 2550.1 2853.9 L 2552.7 2864.2 L 2554.7 2874.6 L 2548.5 2884.9 L 2543.3 2887.5 L 2536.1 2887.0 Z" fill="#fff" stroke="#000" stroke-width="2.2" stroke-linejoin="round" stroke-linecap="round" />
<path d="M 2525.7 2856.5 L 2537.1 2862.2 L 2550.1 2853.9 M 2537.1 2862.2 L 2536.1 2887.0 M 2540.2 2866.3 L 2541.3 2884.9 M 2547.5 2861.1 L 2553.7 2875.6 M 2545.4 2862.2 L 2548.5 2884.9" fill="none" stroke="#000" stroke-width="2" stroke-linejoin="round" stroke-linecap="round" />
<path d="M 2013.0 3078.1 L 2006.8 3078.6 Q 1993.3 3086.4 1991.2 3093.6 Q 1992.8 3113.3 2013.0 3130.9 Q 2022.3 3138.7 2029.5 3136.1 L 2043.0 3125.2 Q 2045.1 3119.5 2044.2 3114.3 L 2033.7 3120.6 L 2019.2 3112.3 L 1996.4 3100.9 L 1996.4 3097.8 L 2011.4 3087.4 Z" fill="#fff" stroke="#000" stroke-width="2.2" stroke-linejoin="round" stroke-linecap="round" />
<path d="M 2003.7 3091.1 Q 1996.4 3094.7 1996.9 3098.8 M 1996.9 3101.9 Q 2000.5 3118.5 2018.1 3129.9 M 2019.2 3130.9 Q 2026.4 3130.9 2027.5 3123.7 L 2027.5 3118.0 M 1994.3 3094.7 Q 1996.4 3088.5 2003.7 3086.4 L 2008.8 3087.4" fill="none" stroke="#000" stroke-width="2" stroke-linejoin="round" stroke-linecap="round" />
<path d="M 1995.9 3097.8 L 2012.5 3086.9 L 2025.4 3093.1 L 2033.7 3093.1 L 2043.5 3082.3 L 2045.1 3069.8 L 2063.2 3080.4 L 2063.2 3083.8 L 2051.8 3092.1 L 2052.3 3109.2 L 2044.5 3114.3 L 2033.7 3120.6 L 2033.7 3105.0 L 2026.4 3111.2 L 2019.7 3112.8 L 2019.7 3109.7 L 1995.9 3100.9 Z" fill="#fff" stroke="#000" stroke-width="2.2" stroke-linejoin="round" stroke-linecap="round" />
<path d="M 2019.7 3109.7 L 2063.2 3080.4 M 2019.7 3109.7 L 2026.4 3111.2 M 2033.7 3105.0 L 2034.7 3120.6 M 2051.8 3092.1 L 2033.7 3105.0" fill="none" stroke="#000" stroke-width="2" stroke-linejoin="round" stroke-linecap="round" />
<path d="M 2014.0 3082.3 L 2015.0 3062.1 L 2027.5 3052.7 L 2039.4 3059.5 L 2042.0 3069.8 L 2044.0 3080.2 L 2037.8 3090.5 L 2032.6 3093.1 L 2025.4 3092.6 Z" fill="#fff" stroke="#000" stroke-width="2.2" stroke-linejoin="round" stroke-linecap="round" />
<path d="M 2015.0 3062.1 L 2026.4 3067.8 L 2039.4 3059.5 M 2026.4 3067.8 L 2025.4 3092.6 M 2029.5 3071.9 L 2030.6 3090.5 M 2036.8 3066.7 L 2043.0 3081.2 M 2034.7 3067.8 L 2037.8 3090.5" fill="none" stroke="#000" stroke-width="2" stroke-linejoin="round" stroke-linecap="round" />
<path d="M 1892.0 3307.1 L 1885.8 3307.6 Q 1872.3 3315.4 1870.2 3322.6 Q 1871.8 3342.3 1892.0 3359.9 Q 1901.3 3367.7 1908.5 3365.1 L 1922.0 3354.2 Q 1924.1 3348.5 1923.2 3343.3 L 1912.7 3349.6 L 1898.2 3341.3 L 1875.4 3329.9 L 1875.4 3326.8 L 1890.4 3316.4 Z" fill="#fff" stroke="#000" stroke-width="2.2" stroke-linejoin="round" stroke-linecap="round" />
<path d="M 1882.7 3320.1 Q 1875.4 3323.7 1875.9 3327.8 M 1875.9 3330.9 Q 1879.5 3347.5 1897.1 3358.9 M 1898.2 3359.9 Q 1905.4 3359.9 1906.5 3352.7 L 1906.5 3347.0 M 1873.3 3323.7 Q 1875.4 3317.5 1882.7 3315.4 L 1887.8 3316.4" fill="none" stroke="#000" stroke-width="2" stroke-linejoin="round" stroke-linecap="round" />
<path d="M 1874.9 3326.8 L 1891.5 3315.9 L 1904.4 3322.1 L 1912.7 3322.1 L 1922.5 3311.3 L 1924.1 3298.8 L 1942.2 3309.4 L 1942.2 3312.8 L 1930.8 3321.1 L 1931.3 3338.2 L 1923.5 3343.3 L 1912.7 3349.6 L 1912.7 3334.0 L 1905.4 3340.2 L 1898.7 3341.8 L 1898.7 3338.7 L 1874.9 3329.9 Z" fill="#fff" stroke="#000" stroke-width="2.2" stroke-linejoin="round" stroke-linecap="round" />
<path d="M 1898.7 3338.7 L 1942.2 3309.4 M 1898.7 3338.7 L 1905.4 3340.2 M 1912.7 3334.0 L 1913.7 3349.6 M 1930.8 3321.1 L 1912.7 3334.0" fill="none" stroke="#000" stroke-width="2" stroke-linejoin="round" stroke-linecap="round" />
<path d="M 1893.0 3311.3 L 1894.0 3291.1 L 1906.5 3281.7 L 1918.4 3288.5 L 1921.0 3298.8 L 1923.0 3309.2 L 1916.8 3319.5 L 1911.6 3322.1 L 1904.4 3321.6 Z" fill="#fff" stroke="#000" stroke-width="2.2" stroke-linejoin="round" stroke-linecap="round" />
<path d="M 1894.0 3291.1 L 1905.4 3296.8 L 1918.4 3288.5 M 1905.4 3296.8 L 1904.4 3321.6 M 1908.5 3300.9 L 1909.6 3319.5 M 1915.8 3295.7 L 1922.0 3310.2 M 1913.7 3296.8 L 1916.8 3319.5" fill="none" stroke="#000" stroke-width="2" stroke-linejoin="round" stroke-linecap="round" />
<path d="M 2844.4 2803.4 L 2861.5 2795.7 L 2861.5 2777.0 L 2872.4 2773.9 L 2873.9 2798.8 L 2881.7 2806.5 L 2894.1 2814.3 L 2891.0 2837.6 L 2878.6 2839.8 L 2867.7 2831.4 L 2864.6 2817.4 Z" fill="#fff" stroke="#000" stroke-width="2.2" stroke-linejoin="round" stroke-linecap="round" />
<path d="M 2861.5 2795.7 L 2873.9 2798.8 M 2844.4 2803.4 L 2864.6 2817.4 L 2881.7 2806.5 M 2872.4 2817.4 L 2873.9 2836.0 M 2881.7 2817.4 L 2883.2 2838.5 M 2867.7 2831.4 L 2869.3 2818.9" fill="none" stroke="#000" stroke-width="2" stroke-linejoin="round" stroke-linecap="round" />
<ellipse cx="2892.5" cy="2780.7" rx="20.5" ry="28.57" fill="#fff" stroke="#000" stroke-width="2.4" transform="rotate(-15 2892.5 2780.7)" />
<ellipse cx="2890.1" cy="2781.7" rx="16.15" ry="24.22" fill="none" stroke="#000" stroke-width="2" transform="rotate(-15 2890.1 2781.7)" />
<path d="M 2877.0 2773.9 L 2898.8 2792.5 M 2886.3 2764.6 L 2889.4 2798.8 M 2898.8 2767.7 L 2887.9 2786.3" fill="none" stroke="#000" stroke-width="1.8" stroke-linejoin="round" stroke-linecap="round" />
<path d="M 3021.4 2563.4 L 3038.5 2555.7 L 3038.5 2537.0 L 3049.4 2533.9 L 3050.9 2558.8 L 3058.7 2566.5 L 3071.1 2574.3 L 3068.0 2597.6 L 3055.6 2599.8 L 3044.7 2591.4 L 3041.6 2577.4 Z" fill="#fff" stroke="#000" stroke-width="2.2" stroke-linejoin="round" stroke-linecap="round" />
<path d="M 3038.5 2555.7 L 3050.9 2558.8 M 3021.4 2563.4 L 3041.6 2577.4 L 3058.7 2566.5 M 3049.4 2577.4 L 3050.9 2596.0 M 3058.7 2577.4 L 3060.2 2598.5 M 3044.7 2591.4 L 3046.3 2578.9" fill="none" stroke="#000" stroke-width="2" stroke-linejoin="round" stroke-linecap="round" />
<ellipse cx="3069.5" cy="2540.7" rx="20.5" ry="28.57" fill="#fff" stroke="#000" stroke-width="2.4" transform="rotate(-15 3069.5 2540.7)" />
<ellipse cx="3067.1" cy="2541.7" rx="16.15" ry="24.22" fill="none" stroke="#000" stroke-width="2" transform="rotate(-15 3067.1 2541.7)" />
<path d="M 3054.0 2533.9 L 3075.8 2552.5 M 3063.3 2524.6 L 3066.4 2558.8 M 3075.8 2527.7 L 3064.9 2546.3" fill="none" stroke="#000" stroke-width="1.8" stroke-linejoin="round" stroke-linecap="round" />
<text x="2883.5" y="2463.8" font-size="83" text-anchor="start" >2</text>
<line x1="2932.9" y1="2469.7" x2="3025.3" y2="2522.6" stroke="#000" stroke-width="4.8" stroke-linecap="round"/>
<text x="2713.7" y="2694.5" font-size="83" text-anchor="start" >2</text>
<line x1="2763.0" y1="2701.9" x2="2859.4" y2="2755.6" stroke="#000" stroke-width="4.8" stroke-linecap="round"/>
<text x="2699.5" y="2580.0" font-size="83" text-anchor="start" >39</text>
<line x1="2596.4" y1="2643.4" x2="2699.1" y2="2583.4" stroke="#000" stroke-width="4.8" stroke-linecap="round"/>
<path d="M 2542.4 2585.7 Q 2540.4 2576.6 2525.9 2576.6 Q 2494.8 2585.7 2492.8 2618.8 Q 2496.9 2656.1 2534.2 2683.0 Q 2559.0 2695.4 2577.6 2683.0 Q 2592.1 2660.2 2574.7 2627.1" fill="none" stroke="#000" stroke-width="7.5" stroke-linejoin="round" stroke-linecap="round"/>
<path d="M 2542.4 2585.7 Q 2540.4 2576.6 2525.9 2576.6 Q 2494.8 2585.7 2492.8 2618.8 Q 2496.9 2656.1 2534.2 2683.0 Q 2559.0 2695.4 2577.6 2683.0 Q 2592.1 2660.2 2574.7 2627.1" fill="none" stroke="#fff" stroke-width="2.2" stroke-linejoin="round" stroke-linecap="round"/>
<text x="2081.4" y="2876.1" font-size="83" text-anchor="start" >2</text>
<line x1="2130.4" y1="2879.7" x2="2225.7" y2="2933.5" stroke="#000" stroke-width="4.8" stroke-linecap="round"/>
<text x="2371.2" y="2801.5" font-size="83" text-anchor="start" >2</text>
<line x1="2420.3" y1="2805.2" x2="2515.5" y2="2859.0" stroke="#000" stroke-width="4.8" stroke-linecap="round"/>
<text x="2525.6" y="3118.8" font-size="83" text-anchor="start" >13</text>
<line x1="2423.5" y1="3027.2" x2="2524.9" y2="3085.2" stroke="#000" stroke-width="4.8" stroke-linecap="round"/>
<text x="2138.4" y="3232.7" font-size="83" text-anchor="start" >2</text>
<line x1="2044.6" y1="3121.2" x2="2137.8" y2="3173.4" stroke="#000" stroke-width="4.8" stroke-linecap="round"/>
<text x="2034.9" y="3454.2" font-size="83" text-anchor="start" >2</text>
<line x1="1941.9" y1="3344.0" x2="2032.2" y2="3395.8" stroke="#000" stroke-width="4.8" stroke-linecap="round"/>
<text x="2316.5" y="3454.2" font-size="83" text-anchor="start" >30</text>
<line x1="2208.2" y1="3515.8" x2="2313.8" y2="3457.9" stroke="#000" stroke-width="4.8" stroke-linecap="round"/>
<text x="2307.0" y="3585.5" font-size="83" text-anchor="start" >44</text>
<line x1="2187.5" y1="3565.5" x2="2301.3" y2="3565.5" stroke="#000" stroke-width="4.8" stroke-linecap="round"/>
<rect x="2043.4" y="3507.6" width="80.75" height="80.75" rx="10" ry="10" fill="#fff" stroke="#000" stroke-width="5"/>
<text x="2083.775" y="3574.615" font-size="74" text-anchor="middle">D</text>
<path d="M 2193.7 3530.3 L 2139.9 3749.8" fill="none" stroke="#333" stroke-width="1.3" stroke-dasharray="17 5"/>
<path d="M 2139.9 3700.1 L 2280.6 3778.8" fill="none" stroke="#333" stroke-width="1.3" stroke-dasharray="17 5"/>
<path d="M 2187.5 3503.4 L 2184.6 3522.0 L 2191.6 3528.3 L 2199.9 3524.1 L 2202.0 3504.7" fill="#fff" stroke="#000" stroke-width="2.6" stroke-linejoin="round" stroke-linecap="round" />
<path d="M 2185.4 3513.8 L 2201.1 3514.6 M 2185.0 3520.0 L 2200.3 3520.8" fill="none" stroke="#000" stroke-width="1.8" stroke-linejoin="round" stroke-linecap="round" />
<ellipse cx="2197.0" cy="3495.1" rx="13.25" ry="7.04" fill="#fff" stroke="#000" stroke-width="3.2" transform="rotate(10 2197.0 3495.1)" />
<path d="M 2190.4 3493.1 L 2202.8 3497.2 M 2197.8 3491.4 L 2195.8 3498.9" fill="none" stroke="#000" stroke-width="1.6" stroke-linejoin="round" stroke-linecap="round" />
<ellipse cx="2178.8" cy="3565.5" rx="10.77" ry="4.55" fill="#fff" stroke="#000" stroke-width="3.6" transform="rotate(12 2178.8 3565.5)" />
<path d="M 2036.6 3727.2 L 2063.6 3623.1 L 2122.6 3613.8 L 2149.0 3629.3 L 2163.0 3632.4 L 2178.5 3644.9 L 2159.9 3736.5 L 2178.5 3748.9 L 2176.9 3761.3 L 2155.2 3773.7 L 2119.5 3776.8 L 2096.2 3759.8 L 2090.0 3761.3 Z" fill="none" stroke="#000" stroke-width="2" stroke-linejoin="round" stroke-linecap="round" stroke-dasharray="10 5"/>
<path d="M 2063.6 3623.1 L 2105.5 3644.9 L 2122.6 3613.8 M 2105.5 3644.9 L 2090.0 3761.3 M 2105.5 3644.9 L 2178.5 3644.9 M 2057.4 3717.8 L 2079.1 3632.4 L 2085.3 3635.5 L 2065.1 3722.5 Z M 2096.2 3759.8 L 2119.5 3748.9 L 2159.9 3736.5 M 2119.5 3748.9 L 2119.5 3776.8" fill="none" stroke="#000" stroke-width="2" stroke-linejoin="round" stroke-linecap="round" stroke-dasharray="10 5"/>
<ellipse cx="2136.6" cy="3755.1" rx="9.94" ry="4.35" fill="none" stroke="#000" stroke-width="2" transform="rotate(5 2136.6 3755.1)" />
<path d="M 2124.1 3662.9 L 2127.2 3662.9 L 2127.2 3670.3 L 2124.1 3670.3 Z" fill="#000" stroke="#000" stroke-width="1.6" stroke-linejoin="round" stroke-linecap="round" />
<path d="M 2144.3 3658.2 L 2147.4 3658.2 L 2147.4 3665.7 L 2144.3 3665.7 Z" fill="#000" stroke="#000" stroke-width="1.6" stroke-linejoin="round" stroke-linecap="round" />
<path d="M 2117.9 3690.8 L 2121.0 3690.8 L 2121.0 3698.3 L 2117.9 3698.3 Z" fill="#000" stroke="#000" stroke-width="1.6" stroke-linejoin="round" stroke-linecap="round" />
<path d="M 2135.0 3686.2 L 2138.1 3686.2 L 2138.1 3693.6 L 2135.0 3693.6 Z" fill="#000" stroke="#000" stroke-width="1.6" stroke-linejoin="round" stroke-linecap="round" />
<path d="M 2111.7 3714.1 L 2114.8 3714.1 L 2114.8 3721.6 L 2111.7 3721.6 Z" fill="#000" stroke="#000" stroke-width="1.6" stroke-linejoin="round" stroke-linecap="round" />
<path d="M 2128.8 3707.9 L 2131.9 3707.9 L 2131.9 3715.4 L 2128.8 3715.4 Z" fill="#000" stroke="#000" stroke-width="1.6" stroke-linejoin="round" stroke-linecap="round" />
<path d="M 1999.9 3680.6 Q 2018.5 3686.8 2037.2 3677.5 M 1998.4 3685.2 Q 2018.5 3691.4 2040.3 3682.1 M 1996.8 3689.9 Q 2018.5 3696.1 2043.4 3686.8 M 1995.3 3694.5 Q 2018.5 3701.7 2043.4 3693.0" fill="none" stroke="#000" stroke-width="1.8" stroke-linejoin="round" stroke-linecap="round" />
<text x="2494.3" y="3949.9" font-size="83" text-anchor="start" >16</text>
<line x1="2407.8" y1="3834.5" x2="2500.9" y2="3888.8" stroke="#000" stroke-width="4.8" stroke-linecap="round"/>
<path d="M 2150.0 3705.6 L 2278.9 3775.5" fill="none" stroke="#333" stroke-width="1.3" stroke-dasharray="17 5"/>
<path d="M 2285.1 3831.4 L 2296.0 3786.3 L 2277.3 3792.5 L 2283.5 3773.9 L 2300.6 3778.6 L 2305.3 3753.7 L 2313.0 3758.4 L 2356.5 3753.7 L 2409.3 3786.3 L 2410.9 3794.1 L 2395.3 3851.6 L 2389.1 3857.8 L 2341.0 3864.0 Z" fill="#fff" stroke="#000" stroke-width="5" stroke-linejoin="round" stroke-linecap="round" />
<path d="M 2305.3 3763.0 L 2358.1 3797.2 L 2407.8 3792.5 M 2358.1 3797.2 L 2344.1 3862.4" fill="none" stroke="#000" stroke-width="2.4" stroke-linejoin="round" stroke-linecap="round" />
<text transform="translate(1282.8 2972.9) rotate(-48)" x="0" y="0" font-size="397" style="font-weight:normal;fill:#c5d998">HobbyStore.it</text>
</svg></body></html>
